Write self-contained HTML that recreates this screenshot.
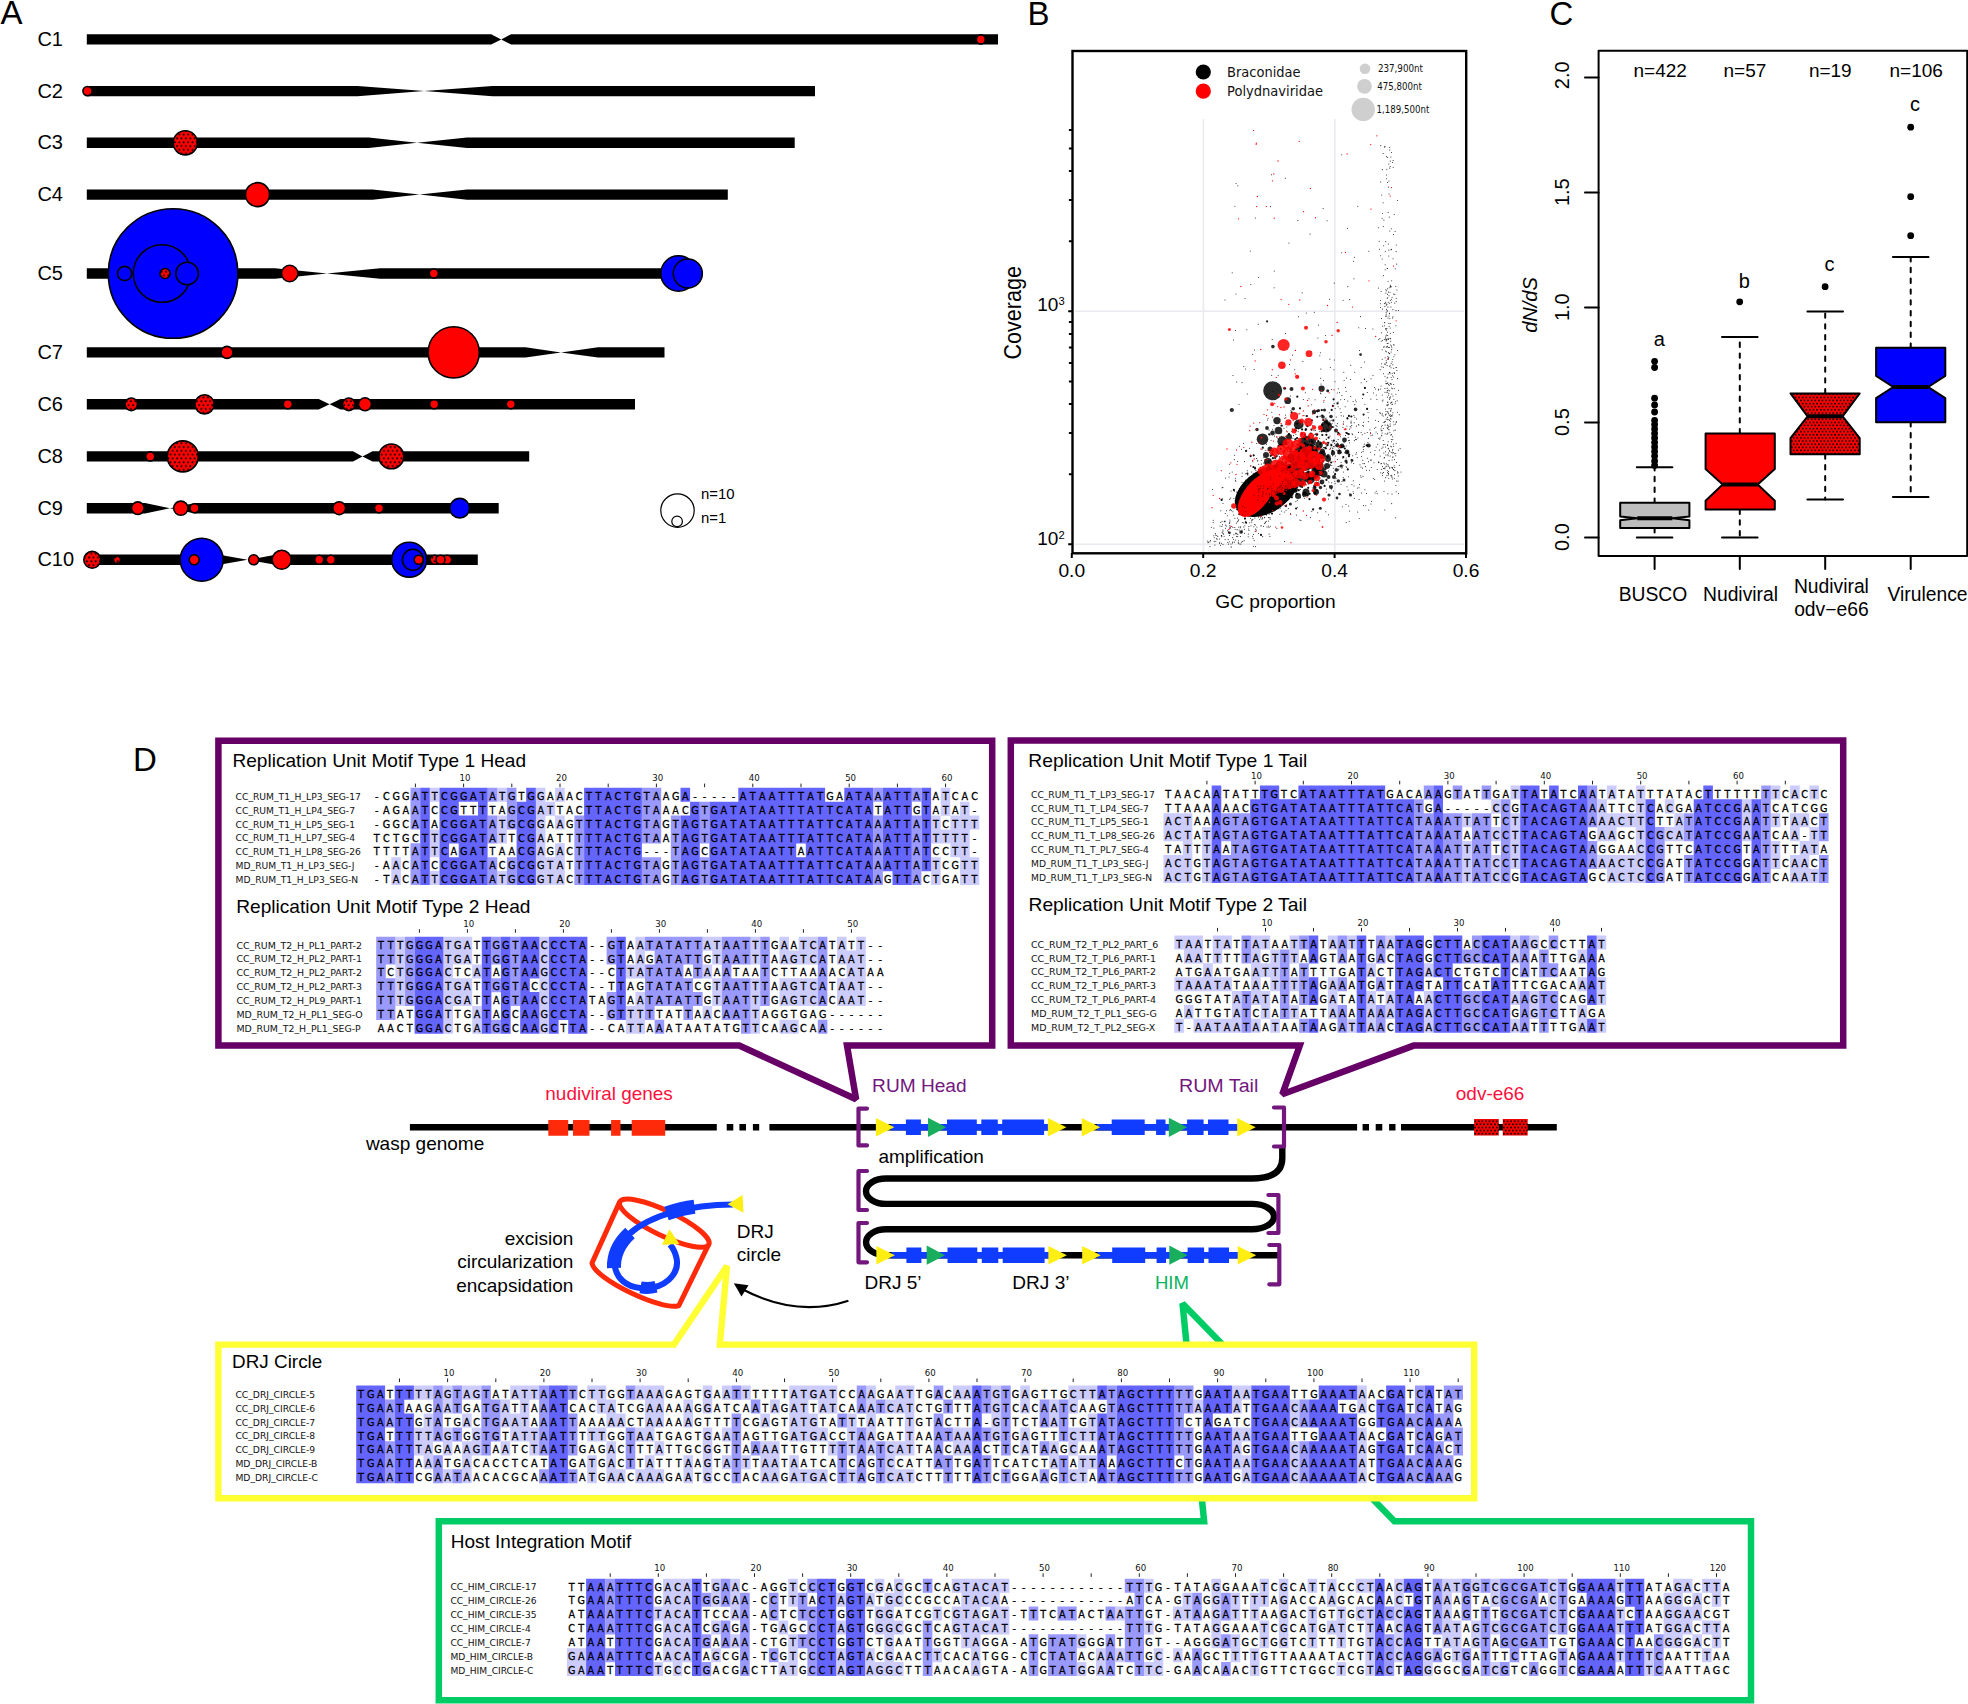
<!DOCTYPE html>
<html lang="en"><head><meta charset="utf-8"><title>Figure</title>
<style>
html,body{margin:0;padding:0;background:#fff}
svg{display:block}
svg{font-family:"Liberation Sans",sans-serif}
</style></head><body>
<svg width="1968" height="1704" viewBox="0 0 1968 1704">
<defs>
<pattern id="dots" width="4.4" height="7.62" patternUnits="userSpaceOnUse">
<rect width="4.4" height="7.62" fill="#f00"/>
<circle cx="1.1" cy="1.3" r="1"/><circle cx="3.3" cy="5.11" r="1"/>
</pattern>
<pattern id="dots2" width="3.6" height="6.24" patternUnits="userSpaceOnUse">
<rect width="3.6" height="6.24" fill="#f00"/>
<circle cx="0.9" cy="1.1" r="0.95"/><circle cx="2.7" cy="4.22" r="0.95"/>
</pattern>
</defs>
<rect width="1968" height="1704" fill="#fff"/>
<g id="panelA">
<text x="0.5" y="24.3" font-size="33">A</text>
<g fill="#000">
<path d="M86.8 34.2 H491.2 L501.2 39.4 L511.2 34.2 H998 V44.6 H511.2 L501.2 39.4 L491.2 44.6 H86.8Z"/>
<path d="M86.8 85.9 H357.5 L424.2 91.1 L492.5 85.9 H815 V96.3 H492.5 L424.2 91.1 L357.5 96.3 H86.8Z"/>
<path d="M86.8 137.6 H368.7 L417 142.8 L467 137.6 H794.7 V148 H467 L417 142.8 L368.7 148 H86.8Z"/>
<path d="M86.8 189.4 H372.5 L419.5 194.6 L467 189.4 H727.8 V199.8 H467 L419.5 194.6 L372.5 199.8 H86.8Z"/>
<path d="M86.8 268.3 H275 L327 273.5 L380 268.3 H700 V278.7 H380 L327 273.5 L275 278.7 H86.8Z"/>
<path d="M86.8 347.2 H525.5 L561 352.4 L598 347.2 H664.5 V357.6 H598 L561 352.4 L525.5 357.6 H86.8Z"/>
<path d="M86.8 399.1 H318.7 L329.6 404.3 L340.5 399.1 H635 V409.5 H340.5 L329.6 404.3 L318.7 409.5 H86.8Z"/>
<path d="M86.8 451.2 H353 L362.5 456.4 L372.5 451.2 H529.2 V461.6 H372.5 L362.5 456.4 L353 461.6 H86.8Z"/>
<path d="M86.8 503 H145 L170 508.2 L195 503 H498.7 V513.4 H195 L170 508.2 L145 513.4 H86.8Z"/>
<path d="M86.8 554.6 H218 L247.5 559.8 L277 554.6 H477.8 V565 H277 L247.5 559.8 L218 565 H86.8Z"/>
</g>
<g font-size="20">
<text x="37.4" y="46">C1</text>
<text x="37.4" y="97.7">C2</text>
<text x="37.4" y="149.4">C3</text>
<text x="37.4" y="201.2">C4</text>
<text x="37.4" y="280.1">C5</text>
<text x="37.4" y="359">C7</text>
<text x="37.4" y="410.9">C6</text>
<text x="37.4" y="463">C8</text>
<text x="37.4" y="514.8">C9</text>
<text x="37.4" y="566.4">C10</text>
</g>
<g stroke="#000" stroke-width="1.6">
<circle cx="980.8" cy="39.4" r="4.5" fill="#f00"/>
<circle cx="87.5" cy="91.1" r="4.6" fill="#f00"/>
<circle cx="185.3" cy="142.8" r="12.1" fill="url(#dots)"/>
<circle cx="257.5" cy="194.6" r="12" fill="#f00"/>
<circle cx="173.1" cy="273.5" r="64.8" fill="#00f"/>
<circle cx="162.1" cy="273.5" r="28.8" fill="#00f"/>
<circle cx="124.6" cy="273.5" r="7.1" fill="#00f"/>
<circle cx="187.1" cy="273.5" r="11.3" fill="#00f"/>
<circle cx="165" cy="273.5" r="5" fill="url(#dots)"/>
<circle cx="289.7" cy="273.5" r="8.2" fill="#f00"/>
<circle cx="433.8" cy="273.5" r="4.5" fill="#f00"/>
<circle cx="678.5" cy="273.5" r="17.7" fill="#00f"/>
<circle cx="687.8" cy="273.5" r="14.5" fill="#00f"/>
<circle cx="227" cy="352.4" r="6" fill="#f00"/>
<circle cx="453.7" cy="352.4" r="25.6" fill="#f00"/>
<circle cx="131.3" cy="404.3" r="6.3" fill="url(#dots)"/>
<circle cx="204.5" cy="404.3" r="9.6" fill="url(#dots)"/>
<circle cx="287.8" cy="404.3" r="4.5" fill="#f00"/>
<circle cx="348.8" cy="404.3" r="6.3" fill="url(#dots)"/>
<circle cx="365" cy="404.3" r="6.5" fill="#f00"/>
<circle cx="434.2" cy="404.3" r="4.5" fill="#f00"/>
<circle cx="510.8" cy="404.3" r="4.5" fill="#f00"/>
<circle cx="150.3" cy="456.4" r="4.5" fill="#f00"/>
<circle cx="182.8" cy="456.4" r="15.5" fill="url(#dots)"/>
<circle cx="391.3" cy="456.4" r="12.4" fill="url(#dots)"/>
<circle cx="137.8" cy="508.2" r="6.3" fill="#f00"/>
<circle cx="180.8" cy="508.2" r="7.1" fill="#f00"/>
<circle cx="194.5" cy="508.2" r="4.5" fill="#f00"/>
<circle cx="339.2" cy="508.2" r="6.4" fill="#f00"/>
<circle cx="379" cy="508.2" r="4.5" fill="#f00"/>
<circle cx="459.7" cy="508.2" r="9.8" fill="#00f"/>
<circle cx="92.2" cy="559.8" r="8.4" fill="url(#dots)"/>
<circle cx="117" cy="559.8" r="3.6" fill="url(#dots)"/>
<circle cx="201.7" cy="559.8" r="21.5" fill="#00f"/>
<circle cx="194.2" cy="559.8" r="5" fill="#f00"/>
<circle cx="253.7" cy="559.8" r="5" fill="#f00"/>
<circle cx="281.7" cy="559.8" r="9.5" fill="#f00"/>
<circle cx="319.2" cy="559.8" r="4.5" fill="#f00"/>
<circle cx="330.8" cy="559.8" r="4.5" fill="#f00"/>
<circle cx="409.2" cy="559.8" r="17.5" fill="#00f"/>
<circle cx="412.9" cy="559.8" r="10.5" fill="#00f"/>
<circle cx="418.7" cy="559.8" r="4.5" fill="#f00"/>
<circle cx="434.7" cy="559.8" r="4.5" fill="url(#dots)"/>
<circle cx="447.2" cy="559.8" r="4.5" fill="#f00"/>
<circle cx="440.5" cy="559.8" r="4.5" fill="#f00"/>
</g>
<g fill="none" stroke="#000" stroke-width="1.2"><circle cx="677.5" cy="510.6" r="16.7"/><circle cx="677.1" cy="521.4" r="5.3"/></g>
<g font-size="14.9"><text x="701" y="498.8">n=10</text><text x="701" y="522.9">n=1</text></g>
</g>
<g id="panelB">
<text x="1027.5" y="24.5" font-size="33">B</text>
<g stroke="#e9e9f0" stroke-width="1.6" fill="none"><path d="M1203.4 119V552M1334.8 119V552M1075 311.3H1464M1075 544.3H1464"/></g>
<path d="M1395.9 325.7h0M1386.4 362.4h0M1388.6 453h0M1390.3 286.3h0M1385 392.3h0M1388.5 291.9h0M1388.5 358.3h0M1380.8 145.6h0M1393 316.7h0M1391.1 377.5h0M1385.7 351h0M1387.7 335.5h0M1390.7 403.1h0M1387.4 332.2h0M1387.4 472.6h0M1382.1 218.3h0M1390.9 475.8h0M1389 316.1h0M1389.7 468.3h0M1381.8 194.9h0M1395.8 286.4h0M1389.2 217.1h0M1386.8 169.2h0M1397.4 200.4h0M1388.3 338.2h0M1382.1 415h0M1386.7 290.7h0M1378.4 389.3h0M1393.1 160.6h0M1386.7 316.1h0M1385.2 269.7h0M1393.2 167.3h0M1381.2 341.2h0M1390.9 419h0M1379.4 450.1h0M1385.6 329h0M1383.2 153.4h0M1394.9 470.3h0M1396.3 367.5h0M1387.1 388.3h0M1392.2 373.2h0M1387.7 444.8h0M1391 367.8h0M1385.2 264.7h0M1381 385.9h0M1380.6 300.4h0M1390.2 383.3h0M1398.4 450.1h0M1389.7 147.4h0M1386.2 360.8h0M1396.9 289.9h0M1389.5 420.3h0M1388.9 181h0M1389.6 347.4h0M1387.9 356.4h0M1387.1 365.6h0M1382.2 349.8h0M1390.7 341.3h0M1388.1 373.9h0M1393.7 294h0M1386.9 328.6h0M1380.1 369.6h0M1388.1 455.8h0M1396 367.6h0M1386.8 392.3h0M1384.6 457.5h0M1383.2 440.5h0M1383.9 422.5h0M1387.2 268.5h0M1383.3 226.5h0M1395.1 231.5h0M1387.3 311.1h0M1389 295.7h0M1394.8 303.1h0M1395.1 403.7h0M1387.6 402.4h0M1390 292.2h0M1391.7 446.8h0M1387.7 157.4h0M1380.7 388.9h0M1391.4 299.2h0M1392.4 450.7h0M1390.3 300.5h0M1384.4 325.7h0M1387.6 268.5h0M1385.9 381h0M1387.2 387.9h0M1394.2 465.7h0M1395.2 268.7h0M1391.4 415.5h0M1390.9 157h0M1391.5 441.8h0M1388.4 413.8h0M1388.2 441.8h0M1385.5 451.7h0M1388.3 187.1h0M1398.4 310.5h0M1392.3 388.7h0M1387 434.2h0M1386.4 175h0M1384.7 463.9h0M1390.1 365.3h0M1390.2 160.9h0M1382.2 425.4h0M1390.6 338.7h0M1386 411.5h0M1394.8 294.5h0M1389.2 353.6h0M1396.1 251.6h0M1386.5 309.3h0M1387.2 346.2h0M1389.8 230.9h0M1393.1 457h0M1391 249.7h0M1383.1 202.8h0M1389.3 385.3h0M1388.6 473.7h0M1386.6 334.9h0M1385.6 421.2h0M1396.2 301.6h0M1386.8 405h0M1384.8 322.7h0M1391.3 286.8h0M1389.1 460.5h0M1388.2 212.5h0M1391.9 476.1h0M1390.6 416.2h0M1390.1 414.5h0M1392.7 415h0M1389.7 149.9h0M1385.8 328.4h0M1386.9 475.6h0M1386.2 347.1h0M1389.4 303.2h0M1383.8 463h0M1380.4 303.8h0M1388.9 250.1h0M1382.6 213.3h0M1379.9 338.4h0M1390.1 424h0M1385.4 408.9h0M1390.7 418.4h0M1386.2 314.1h0M1383.6 275.6h0M1383 447.1h0M1386.2 312.3h0M1387.3 470.4h0M1384.9 468.7h0M1387.3 346.5h0M1381.7 469.4h0M1388.6 466.1h0M1380.6 307.5h0M1387.6 428.6h0M1391.6 249.3h0M1393.3 444h0M1396 310.6h0M1381.7 363.7h0M1391.8 393.9h0M1393.8 356.7h0M1392.8 359.5h0M1384.4 303.6h0M1390.3 286.4h0M1396.7 264.1h0M1381.9 366.7h0M1390.6 396.7h0M1393.4 469.4h0M1385.4 302.3h0M1391.1 352h0M1383.8 452.9h0M1384.9 444.4h0M1384.9 306.6h0M1389.3 415.4h0M1388.1 281.2h0M1392.7 467.5h0M1384.4 147.1h0M1387.9 402h0M1392.7 375.8h0M1391 383.8h0M1382.7 326.3h0M1391.4 152.5h0M1386.4 339.5h0M1390.2 166.5h0M1389.8 366.5h0M1393.9 399.2h0M1389 193.9h0M1380.3 413.5h0M1382.5 473.3h0M1391.7 388h0M1387.4 390.5h0M1393.5 234.4h0M1389.7 390.7h0M1385.2 364.4h0M1393.3 332.5h0M1384.9 388.5h0M1379.5 249.3h0M1397.6 412.3h0M1380.1 456.1h0M1391.3 439.4h0M1392.6 436.8h0M1389.1 326.2h0M1381.1 291.5h0M1393 258.8h0M1382.2 395h0M1382.6 309.1h0M1386.9 304.3h0M1392 477.6h0M1389.8 353.4h0M1392.1 297.3h0M1386.5 383.7h0M1387.7 419.6h0M1383.5 373.8h0M1387.1 310.4h0M1391.1 384.4h0M1387.2 298.3h0M1390.6 426h0M1386 466.2h0M1385.9 293.1h0M1388.7 395.1h0M1387.6 445.4h0M1391.1 408.6h0M1389.3 313.8h0M1396.2 298.2h0M1387.5 182.4h0M1387.5 294.3h0M1383.9 220.1h0M1388.6 384.6h0M1391.5 346.1h0M1385.2 433.8h0M1388.3 244h0M1391.7 280.8h0M1387.9 382.7h0M1386.2 305.1h0M1392.8 439.6h0M1388.9 419.8h0M1390.2 323.4h0M1393.7 368.2h0M1393.5 344.7h0M1387 465.9h0M1386.2 413.9h0M1389.8 467.3h0M1387.9 433h0M1380.1 437.8h0M1394.1 344.9h0M1388.6 448.8h0M1391.7 349.6h0M1383.3 444.6h0M1394.2 214.5h0M1385.9 383.3h0M1388 317.9h0M1382.3 401h0M1387.8 405.5h0M1387.5 417.3h0M1387.7 297.8h0M1390.4 333.2h0M1388.8 393.3h0M1392.8 449.5h0M1386.4 329.9h0M1384.1 458.1h0M1388.4 473.2h0M1391.3 302.2h0M1394 424.7h0M1392.1 361.7h0M1380.7 181.9h0M1390.2 327.9h0M1394.9 354.7h0M1388.8 255.9h0M1386.2 419.1h0M1389.9 372.6h0M1386.3 351.8h0M1391.3 452.5h0M1388.4 471.5h0M1394.6 373.5h0M1390.7 345h0M1385.3 251.3h0M1391.2 363.3h0M1392.6 457.1h0M1386 340.7h0M1386.6 178.8h0M1378.4 287.9h0M1392.5 317.9h0M1385.9 303.2h0M1379.2 241.2h0M1380.7 255.7h0M1387.5 397.1h0M1391.8 467.3h0M1388.1 404.3h0M1390.6 421.3h0M1383.7 245.8h0M1382.6 340.5h0M1392.4 404.2h0M1390.7 446.3h0M1388.4 339.4h0M1394.1 372.6h0M1384.3 339.4h0M1386.7 340.8h0M1393 395.9h0M1396.6 462.4h0M1388.5 473.4h0M1395.9 394.2h0M1385.8 289.7h0M1390 338.3h0M1387.7 411.6h0M1381.5 463.5h0M1389.6 313.2h0M1392.6 162.4h0M1387.8 454.7h0M1388.2 302.3h0M1394.6 459.6h0M1383 399.9h0M1381.9 448.3h0M1385.6 415h0M1383.2 416h0M1394.4 453.8h0M1389.9 432.3h0M1384.7 363.9h0M1385.8 241.6h0M1401 472h0M1385.8 335.9h0M1385.1 357.7h0M1389.8 168.1h0M1391.3 228.7h0M1389.5 397.7h0M1384.5 322.4h0M1383.4 367.2h0M1391.1 402.5h0M1388.3 359.4h0M1381.3 430.7h0M1393.7 384.5h0M1391.9 347.7h0M1387.4 424.9h0M1387.4 391.9h0M1389.5 372.2h0M1385.5 316.1h0M1382.6 475.5h0M1389.9 318.6h0M1382.2 359.2h0M1390.2 398h0M1382.2 258.9h0M1388.1 343.2h0M1387.9 307.1h0M1396.3 421.4h0M1383.8 468.5h0M1382.3 169.6h0M1385.7 477.6h0M1383.6 347.1h0M1385.9 455h0M1390.4 285.3h0M1391.9 416.2h0M1395.8 455.8h0M1385.3 339h0M1400.1 448.6h0M1397.2 400.7h0M1387.6 346.8h0M1378.4 227.7h0M1388.1 412.7h0M1388.8 357.4h0M1378.4 389.9h0M1388.8 323.3h0M1387.6 288.7h0M1385 146.5h0M1391.3 408.7h0M1392.9 309.6h0M1386.4 156.6h0M1389.5 399.2h0M1385.6 337.7h0M1385 376.2h0M1388.8 163.9h0M1390.8 435h0M1386 362.9h0M1378.8 339.6h0M1391.1 475.3h0M1381.5 318.4h0M1389 408.6h0M1396.3 244.9h0M1388.4 352.5h0M1383.3 428.5h0M1382.1 430.5h0M1393.7 376.9h0M1388.4 347.4h0M1390.9 306.9h0M1392.6 452.9h0M1388.3 474.9h0M1387.1 339.1h0M1384.3 346.8h0M1377 409.6h0M1381.8 435.3h0M1388.2 448.2h0M1387.7 433.2h0M1390.3 416.3h0M1387.9 405h0M1389.2 287.8h0M1392 379.5h0M1384.6 421.7h0M1387.2 343.4h0M1381.4 332.7h0M1392.8 364.7h0M1388.7 390h0M1390.7 287.1h0M1395.3 430.1h0M1393.3 421.8h0M1341.9 465.1h0M1343.6 472h0M1338.1 439.6h0M1355.9 454.2h0M1354.3 498.2h0M1394.4 478.3h0M1338.6 469.9h0M1343 427.4h0M1363 463.6h0M1336.3 445.6h0M1333.5 491h0M1375.3 420.2h0M1350.7 365.2h0M1377.4 433.7h0M1342 481.5h0M1392 494h0M1368.5 417.8h0M1334.2 446.7h0M1356.5 418.9h0M1332.5 447.9h0M1330 420.9h0M1367.3 392.5h0M1333.4 471.9h0M1341.1 462.4h0M1330.4 448.5h0M1333.3 468.2h0M1337.4 459.4h0M1348.6 440.6h0M1357.6 487.9h0M1339.6 392.6h0M1335.1 483.6h0M1336.1 425.6h0M1395.6 424h0M1351.2 459.2h0M1359.2 518.5h0M1381.5 426.7h0M1384 491.2h0M1377.2 469.4h0M1391.9 402.1h0M1364.9 489.8h0M1337.4 423.6h0M1370.9 399.1h0M1358.9 424.9h0M1387.2 427.4h0M1343.2 477.5h0M1375.8 427.2h0M1325.8 511.8h0M1353.7 463.4h0M1351 427.7h0M1332.1 423.3h0M1386.6 463.7h0M1387 377.9h0M1343.8 372.3h0M1378.4 421.4h0M1392.7 478.9h0M1368.5 461.8h0M1352.7 455.8h0M1376.2 446.9h0M1354.7 372.3h0M1367.9 442.6h0M1374.6 387.5h0M1347 486.7h0M1374.7 454.7h0M1363.1 451.6h0M1369.5 470.2h0M1346.7 467.3h0M1380.9 463.8h0M1336.2 468.2h0M1361.1 432.6h0M1364.9 404.3h0M1325.6 468h0M1384.8 510h0M1366.6 493.4h0M1330.9 446.9h0M1388.7 478.3h0M1378.3 438.3h0M1393.6 469.6h0M1376.1 431.9h0M1362.8 460.3h0M1351.9 484.4h0M1357.7 511.9h0M1351.7 425.6h0M1349.5 428.9h0M1395.8 453.5h0M1363 476.2h0M1363.1 447.1h0M1353.4 493.5h0M1349.6 434.1h0M1342.3 506.7h0M1396.2 491.8h0M1379.9 412.6h0M1361.1 477.2h0M1369.8 446.5h0M1387.9 493.7h0M1352.7 434.6h0M1346.2 466.8h0M1360.8 475.7h0M1359.5 350.4h0M1387.3 383.5h0M1392.1 459.9h0M1389.4 450.2h0M1377.1 493.6h0M1364.6 463.6h0M1338.1 406.7h0M1394.8 467.5h0M1389.1 426.5h0M1364.5 446.3h0M1381.6 435.7h0M1392.4 468.2h0M1347.8 401h0M1368 412.4h0M1396.9 370.5h0M1336.3 417h0M1396.2 422.2h0M1390.7 411.1h0M1328.3 430.5h0M1368.5 438.3h0M1373.4 478.4h0M1378.8 461.7h0M1371.2 467.5h0M1367.2 432.5h0M1370.6 452.2h0M1371.5 501.3h0M1331.9 454.1h0M1338 466.6h0M1346.5 377.9h0M1394.6 474.6h0M1360 464.8h0M1371 503.9h0M1397.6 350.4h0M1332.5 455.8h0M1339.4 450.1h0M1346.1 457.9h0M1393.9 430.7h0M1378.9 462.5h0M1334.8 481.2h0M1330.3 456.1h0M1337.7 443.3h0M1393.7 446.3h0M1356.6 439.6h0M1390.2 455.9h0M1388.5 427h0M1397.5 378.6h0M1365.7 505.8h0M1345.5 387.4h0M1363.6 449.6h0M1392 404.5h0M1396.1 443.2h0M1354.8 417.3h0M1361.5 452.3h0M1384.8 422h0M1354.8 404.6h0M1343 465.6h0M1346 504.5h0M1361 467h0M1342.9 457.9h0M1382.3 413.7h0M1375 450.5h0M1394.9 470.6h0M1381 428.9h0M1359 487.8h0M1338.7 452h0M1342.6 467h0M1391.5 434.6h0M1372.7 434.9h0M1333 461.8h0M1362.5 468.1h0M1382.5 466.6h0M1385.4 414.7h0M1388 425.5h0M1393.3 452.5h0M1361.2 382.7h0M1375 493h0M1330.5 465.3h0M1374.6 454.7h0M1363.6 426.1h0M1341 484.3h0M1344 442.8h0M1341.9 468.1h0M1350.7 396.4h0M1353.3 480.7h0M1382.1 433h0M1339.4 433.3h0M1330.9 443.9h0M1338.8 448.1h0M1378.4 462.6h0M1328.8 482h0M1366.6 470.2h0M1362.8 425.4h0M1353.1 401.6h0M1351 422.3h0M1365.4 466.6h0M1329.6 485.9h0M1349.2 521.3h0M1356.2 401.7h0M1335.6 455.9h0M1364.3 444.1h0M1348.2 437.5h0M1329.9 458h0M1334.6 443.4h0M1349.6 442.7h0M1374.6 428.2h0M1385 467.8h0M1361.5 492.9h0M1328.5 514.8h0M1370.5 432.8h0M1392.9 412.7h0M1328.9 442.8h0M1351.1 421h0M1326.3 491.9h0M1368.3 421.6h0M1332.8 455.6h0M1395.6 401.7h0M1355.6 439.5h0M1371.6 460h0M1349.7 510.9h0M1350.2 426.4h0M1325.9 466.8h0M1390 373.8h0M1345.2 406.8h0M1343.6 421.8h0M1352 433.7h0M1338.8 469.1h0M1348.4 476.7h0M1346.1 391.5h0M1398.1 472.8h0M1390.7 410.3h0M1346.2 522.4h0M1387.9 464.5h0M1327.9 458.4h0M1367.6 445.9h0M1389.8 451.3h0M1341.3 452.7h0M1337.1 426.3h0M1384.6 480.9h0M1374 462.8h0M1398.1 481h0M1336.9 450.3h0M1336.1 478.4h0M1329.2 423.8h0M1328.6 425.6h0M1371 435.6h0M1331.4 489.1h0M1359.1 499.4h0M1363.6 422.3h0M1331.5 389.4h0M1376.9 399.4h0M1399.3 414.8h0M1354.2 422.7h0M1363.8 446.3h0M1353.1 491.7h0M1398.5 493.6h0M1388.8 429.3h0M1397.7 473h0M1354 486h0M1348.7 505.9h0M1326.2 446.5h0M1330.8 424.3h0M1396.7 481h0M1368.8 510.1h0M1358.5 432.5h0M1395.4 517.8h0M1328 442.5h0M1373.6 392.9h0M1369.9 429.8h0M1379.8 439.1h0M1380.8 472.7h0M1375.6 389h0M1385.1 424.9h0M1335 381.7h0M1346.2 446h0M1383.6 468.5h0M1391.7 503.6h0M1374.7 479.4h0M1328.7 444.7h0M1387.3 377.6h0M1397.6 471.8h0M1359.5 484.4h0M1354.3 440.6h0M1351.4 462.8h0M1370.5 460.1h0M1337.7 443.1h0M1335.1 408.4h0M1399.3 465.3h0M1362.6 398.4h0M1363.6 505.6h0M1347.6 418.1h0M1328.4 471h0M1329.8 424.5h0M1329.4 466.7h0M1377.7 444.2h0M1383.5 472.5h0M1396.3 422.2h0M1398.5 390.3h0M1336.3 441.5h0M1326.1 438.9h0M1376.3 395h0M1346.9 426h0M1394.2 388.6h0M1361.6 456.5h0M1357.9 438h0M1356.5 452.7h0M1367.3 458.2h0M1338.9 466.4h0M1398.3 476h0M1385.5 446.9h0M1389 429.7h0M1395.9 485.5h0M1376.2 491.3h0M1255.9 496.6h0M1268.3 525.9h0M1269.2 488.8h0M1311.9 437.9h0M1242 476.3h0M1314.6 466.5h0M1278.4 479.9h0M1271.8 502.2h0M1284.3 487.2h0M1248.4 502.4h0M1308 466.3h0M1279.9 514.2h0M1265.7 477.1h0M1285.4 415.1h0M1316.4 482h0M1254.2 540.6h0M1276.9 528.5h0M1338.1 402h0M1271.8 412.2h0M1255 475.8h0M1306.3 472.3h0M1250.8 480.9h0M1286.1 510.2h0M1298.1 431.6h0M1292.8 457.8h0M1284.9 480.5h0M1319.6 444.3h0M1243.6 443.4h0M1274.1 474.3h0M1282.4 476.7h0M1275.9 469.3h0M1327.2 429.3h0M1278.1 453.2h0M1260.5 468.2h0M1258.6 473.9h0M1243.7 504.9h0M1256.8 491.6h0M1275.2 482h0M1304.3 442.2h0M1298.2 468.1h0M1325.5 397.2h0M1337.6 434.6h0M1277.4 490.8h0M1273 473.4h0M1249 504.6h0M1293.9 430.6h0M1311.1 450.7h0M1314.1 428.3h0M1294.5 451.4h0M1349.8 493.7h0M1275.7 433.8h0M1281.8 456.1h0M1259.3 508.8h0M1266.1 474.6h0M1249 481.8h0M1234.3 459.6h0M1252.9 461.7h0M1222.1 487.7h0M1284.3 505.8h0M1315.2 442.9h0M1317.7 512.7h0M1269.1 495.9h0M1292.9 438.3h0M1286.6 462.5h0M1248.7 529h0M1283.1 450.1h0M1261.3 464.1h0M1261.1 525.9h0M1266.6 444.4h0M1247.2 492.2h0M1337 449.9h0M1321 383.9h0M1322.4 474.2h0M1242.5 487h0M1259.7 501.8h0M1265.9 469.5h0M1300.3 466.3h0M1272.7 495.9h0M1287.5 450.7h0M1284.3 512h0M1287.9 465.9h0M1308.6 471.2h0M1307 436h0M1268.2 499.4h0M1235.8 481.2h0M1242.2 496.5h0M1328.5 499h0M1222.5 498.8h0M1235.2 500.5h0M1283 481.7h0M1256.7 458.4h0M1321.8 456.9h0M1315.3 434h0M1287.8 468h0M1276.9 437.3h0M1253.4 546.2h0M1288.7 474.7h0M1267.1 463.8h0M1243.4 483h0M1305.3 392.7h0M1250.7 466h0M1245.8 480.1h0M1293.4 478.6h0M1267.8 478.9h0M1299.3 459.9h0M1300.4 489.5h0M1223 503.5h0M1306.6 425.6h0M1317.5 446.2h0M1231.7 510.6h0M1339.2 446h0M1273.4 501.6h0M1319.9 416.3h0M1237.7 461.4h0M1238.3 542.6h0M1259.9 477h0M1257.9 508.1h0M1298.6 446h0M1225.5 477.9h0M1303.7 496.6h0M1246.1 504.3h0M1275.9 489.9h0M1272.2 478h0M1275.3 461h0M1304 415.5h0M1288.6 492.8h0M1321.8 428.1h0M1267.8 505.8h0M1271.6 498.4h0M1271.1 440.3h0M1288.3 458.2h0M1275.2 481.9h0M1281.4 510.9h0M1260.4 467.6h0M1236.9 504.3h0M1272.1 462.5h0M1305.6 458.5h0M1358.6 424.5h0M1297.6 452.7h0M1330.2 464.4h0M1318.4 480.8h0M1288.9 423.5h0M1279.4 467.2h0M1265.3 472.5h0M1270.1 471h0M1278 463.8h0M1340.3 452.6h0M1313.6 447.8h0M1343.6 424h0M1253.3 473.2h0M1282.4 459.8h0M1299.5 460.2h0M1281.6 436.3h0M1249.3 496.1h0M1222.5 524.7h0M1229.7 473.2h0M1357.2 457.6h0M1302.5 486.8h0M1250.6 518.3h0M1297 475h0M1278.2 479.6h0M1307.9 452.3h0M1297.5 479.7h0M1249.3 502.8h0M1295.2 486.7h0M1291.1 487.2h0M1297.4 507.3h0M1321.7 453.1h0M1234.9 518.3h0M1315.5 430.3h0M1274 425.4h0M1300.8 463.7h0M1301.4 446.1h0M1251.4 504.6h0M1269.1 517.7h0M1300.3 461.1h0M1305.2 483.7h0M1310 475.5h0M1304.8 444.3h0M1309.9 476h0M1263.4 489.5h0M1343.7 445.9h0M1298.6 448h0M1291 410.4h0M1234.3 491.3h0M1238.5 543.2h0M1263.6 512.3h0M1279.3 456.4h0M1318.3 469.7h0M1274.5 455.4h0M1315 466.4h0M1311.8 430.3h0M1351.1 423.1h0M1255.2 491.1h0M1289.2 440.9h0M1283.9 443.2h0M1278.8 508.8h0M1314.3 438.4h0M1241.5 449.3h0M1304.4 498.2h0M1283.1 437.9h0M1232.9 511.8h0M1302.5 450.1h0M1281 523.1h0M1268.3 464.5h0M1266.7 498.3h0M1243.2 504.2h0M1290.9 477h0M1304.3 436.9h0M1318.1 446.5h0M1305.6 445.6h0M1239.4 488.5h0M1332.8 450.5h0M1295 474.2h0M1302.4 462.5h0M1272.9 451.8h0M1248.9 503.5h0M1311.5 433.2h0M1273.8 486.1h0M1329.3 412.7h0M1277.2 474.2h0M1251.4 491.4h0M1257 481.2h0M1326.8 423.4h0M1264.9 479.2h0M1220.6 545.2h0M1337.3 392.9h0M1282.7 489.9h0M1288.3 492.3h0M1298.3 457.9h0M1255.9 470.4h0M1274.1 489.4h0M1314.8 434.4h0M1264.1 497.6h0M1295.9 471.4h0M1287.8 495.3h0M1282.5 451.5h0M1297.5 423.2h0M1230.7 498.1h0M1281 445.7h0M1256.6 488.7h0M1320.8 415.9h0M1266.7 462.8h0M1355.3 437.1h0M1258.7 464.3h0M1233.8 515.1h0M1234.8 527.4h0M1296.1 457h0M1266.6 521.3h0M1279.4 486.2h0M1325.2 418.8h0M1274.5 485.4h0M1345.5 435.4h0M1299.9 464.6h0M1234.4 455.2h0M1264.8 499.8h0M1229.4 464.3h0M1282.3 486.9h0M1282.4 491.4h0M1237.9 495.1h0M1259.5 470.8h0M1251.5 482.4h0M1273 482.4h0M1270.2 466.4h0M1331.8 465.5h0M1305.6 459.4h0M1288.3 508.4h0M1295.9 501.6h0M1296.7 440.2h0M1306.5 467.4h0M1284.9 482.7h0M1229.7 522.7h0M1213.2 522.6h0M1267.8 488.4h0M1275.6 474.8h0M1239.8 497.7h0M1236.6 491.9h0M1284.5 456.3h0M1230.1 526.7h0M1233.6 539.2h0M1287.8 449.9h0M1288.2 442.4h0M1266.1 440.1h0M1308.8 444h0M1338.1 453.6h0M1349.5 440.3h0M1242 482.2h0M1330.3 367.4h0M1312.8 425.4h0M1311.8 457.1h0M1247.9 475.1h0M1295.5 423.8h0M1244.5 529.3h0M1262.5 474.6h0M1298.1 466.4h0M1324 440.9h0M1257.8 460.2h0M1358.5 432.3h0M1272.4 429.3h0M1290.8 496h0M1268.9 489.9h0M1290 451.1h0M1271.5 461.8h0M1324.6 451.2h0M1313.1 437.9h0M1273.1 450.7h0M1245.2 492.1h0M1298.1 462.8h0M1286.8 426.9h0M1313.3 445.9h0M1279.8 452.4h0M1319.7 438.2h0M1340.1 408.8h0M1220.8 510.8h0M1331.8 440.2h0M1296.7 467.2h0M1285.6 455.9h0M1239 404.2h0M1286.6 431h0M1290.9 462.9h0M1207.3 540.9h0M1307.6 476.9h0M1309.9 462.4h0M1328.4 425.7h0M1320 443h0M1275 510.6h0M1269 472.4h0M1301.6 433.2h0M1282.2 485.7h0M1279.9 473.5h0M1281.8 441.9h0M1254.1 485h0M1258.5 504.3h0M1249.8 522.8h0M1261.3 460.4h0M1303 460.2h0M1267 527h0M1242 505.7h0M1283.9 428.3h0M1292.2 477.5h0M1322 483.5h0M1242 509.2h0M1242.2 473h0M1256.9 527h0M1326.3 434.5h0M1297.2 425.7h0M1236.3 502h0M1309 398.8h0M1294.9 431.9h0M1292.5 451.5h0M1304.5 474.8h0M1356.4 426.1h0M1280.6 508h0M1279.2 465.7h0M1285.9 474.2h0M1255.7 529.1h0M1284.3 490.8h0M1320.2 477.9h0M1309.1 463.7h0M1258.5 470.1h0M1247.3 470.7h0M1252.3 481.9h0M1226.5 510.8h0M1281.5 464.4h0M1326.3 428.1h0M1343.6 416.1h0M1264.2 512.2h0M1303.4 466.9h0M1299 444h0M1278.5 454.6h0M1312.1 456.1h0M1277.4 461.9h0M1291.5 444.3h0M1311.7 404.8h0M1265.6 496.7h0M1263.4 504.4h0M1300.7 457.6h0M1285.6 447.8h0M1224.8 521.1h0M1269.9 536.5h0M1284.3 494.2h0M1274.7 475.4h0M1301 520.4h0M1311.3 452.1h0M1270.1 459.7h0M1276.1 484.7h0M1258.8 471.8h0M1313 436.9h0M1319.5 458.7h0M1294 462.5h0M1277.2 455.1h0M1362.3 434.7h0M1321.2 465h0M1257.6 461h0M1242.3 502.3h0M1251.2 499.7h0M1342.5 445.9h0M1261.3 500.3h0M1271.9 472.6h0M1301 467.5h0M1284.6 441.7h0M1311.3 429.2h0M1251.1 503.4h0M1268.1 418.3h0M1281.1 433h0M1272.6 484.5h0M1263.9 512.6h0M1304.6 435.6h0M1300.1 465.9h0M1298.4 429h0M1334.1 403.4h0M1294.2 481.7h0M1271.5 455h0M1271 468.2h0M1285.6 443.6h0M1263.6 463h0M1232.2 472h0M1250.8 500.2h0M1314 430.6h0M1301.5 457.8h0M1255.1 508.1h0M1227.4 530.8h0M1278.9 508.1h0M1303.8 483.7h0M1297 443.9h0M1306 415.9h0M1287.7 491.7h0M1297.9 440.6h0M1253.1 538.6h0M1288.9 433.5h0M1303.6 437.7h0M1253.9 516.5h0M1294.4 472.8h0M1274.7 481.8h0M1294.7 479.6h0M1299.2 422.5h0M1261.4 512.7h0M1326.1 417.9h0M1242.5 491.8h0M1242 530.1h0M1262.4 483.4h0M1284.5 478.7h0M1263.9 457.6h0M1286.9 485.7h0M1299.9 448.7h0M1340.7 399.8h0M1288.6 446.4h0M1292 454.4h0M1294.6 429.1h0M1289.6 447.9h0M1294 462.7h0M1250.4 493h0M1278.9 466.7h0M1279.1 444.8h0M1312 441.5h0M1317.3 456.7h0M1290.1 450.5h0M1307.8 453.9h0M1279.5 475.1h0M1305.5 484.5h0M1323.5 447.6h0M1321.3 452.1h0M1316.8 457.2h0M1306.2 463.6h0M1276.6 492.2h0M1272 496.4h0M1293.5 435.6h0M1282.6 487h0M1271.7 477h0M1254.9 518.1h0M1319.5 467.6h0M1212.5 489.4h0M1235.3 478.2h0M1315.9 433.7h0M1270.2 454h0M1299.4 479h0M1251 525.7h0M1283.3 451.9h0M1289.2 455.1h0M1291.9 431.4h0M1262.7 518.8h0M1283.1 480.5h0M1303.3 399.4h0M1286.3 463.9h0M1262.8 466.6h0M1277.4 463h0M1279 476h0M1294.6 483.7h0M1299.1 477.1h0M1229 477h0M1282.7 425.7h0M1341 412.6h0M1298.3 428.1h0M1338.3 388.8h0M1249.6 448.3h0M1268.6 460h0M1292.5 466.2h0M1297.3 460.6h0M1324.7 422.8h0M1233.9 498.2h0M1274.5 480.2h0M1276.9 501.9h0M1274.2 467.8h0M1303.8 452h0M1222.9 487.5h0M1314.5 465.7h0M1269 461.8h0M1297.1 481.4h0M1340.4 436.7h0M1354.4 408.9h0M1274.4 436.1h0M1279.5 457h0M1315.7 487.5h0M1290.3 396.1h0M1268.3 517.4h0M1269.6 467.5h0M1291.3 463.4h0M1271.9 462.8h0M1332.8 442.1h0M1297.8 466.1h0M1303.7 474.4h0M1300.5 497.6h0M1292.1 466.6h0M1296.4 484.8h0M1329.1 427.2h0M1302.8 455.9h0M1300 453.5h0M1225.5 524.9h0M1326.4 488.9h0M1245.4 502.8h0M1262 449.3h0M1341.2 415.8h0M1341.9 395.4h0M1274.6 487.3h0M1253.8 498.3h0M1304.9 434.9h0M1305.4 469.4h0M1292.9 479.5h0M1230.4 509.6h0M1305.4 428.4h0M1333.6 446.5h0M1244.6 510.6h0M1254.8 474.2h0M1278.8 488.1h0M1316 490.1h0M1231 491h0M1295.2 484.4h0M1269.3 470h0M1255.1 500h0M1298.2 459.2h0M1213.2 520.3h0M1255.1 497h0M1263.7 486.3h0M1295.7 464.9h0M1277.9 485.6h0M1265.8 456h0M1285.9 465.7h0M1263.4 507h0M1255.9 502.1h0M1298.6 479.2h0M1267.4 420.1h0M1353.9 415.4h0M1270 507.6h0M1275.2 492.1h0M1265.9 450.5h0M1262.8 468.5h0M1296 419.4h0M1323.6 442.8h0M1298.3 414h0M1255.3 467.8h0M1252.4 478.1h0M1294.7 451.8h0M1271.6 508h0M1255.1 467.1h0M1309.5 441.2h0M1238.7 519.8h0M1258.9 472.1h0M1307.2 473.6h0M1270.4 478.3h0M1302.6 437.2h0M1251.7 471.9h0M1344.4 452.7h0M1259.1 479.4h0M1330 436.1h0M1291 435.2h0M1278.3 468h0M1321.9 415.2h0M1287.6 447.9h0M1262.2 477.6h0M1323.8 402.1h0M1306.9 451.2h0M1345.8 432.6h0M1319.8 431.5h0M1315.1 399.8h0M1290.4 513.6h0M1278 490.6h0M1237.5 496.7h0M1295.9 434.2h0M1231.2 547.1h0M1268.5 504.3h0M1244.6 461.6h0M1285.9 470.9h0M1317 434.5h0M1259.6 494.8h0M1301.7 444.2h0M1301.4 485.6h0M1317.8 447.1h0M1269.9 435.1h0M1245.9 513.1h0M1299.9 519.9h0M1256.6 458.4h0M1314.9 478.4h0M1287.7 469.2h0M1288.2 475.1h0M1306.5 422.2h0M1256.7 443.5h0M1291.3 479h0M1267.8 468.5h0M1283.3 458.3h0M1331.7 482.8h0M1304.8 469.6h0M1316.9 452.3h0M1269.1 429.9h0M1272.2 470.9h0M1284.8 493.4h0M1284.8 418.4h0M1247.5 473.8h0M1276.8 475.7h0M1323 450.6h0M1288.4 472.5h0M1290.2 473.2h0M1288.4 464.5h0M1224.2 521.7h0M1348.1 489.9h0M1302.5 449.4h0M1320.8 475.2h0M1286.1 461.3h0M1297.5 489.5h0M1332.8 448.2h0M1293.6 458.9h0M1261.5 472.4h0M1289.2 445.3h0M1289.1 451.4h0M1277.9 438.3h0M1265.8 463.3h0M1297.3 500.3h0M1275.5 476.2h0M1265.2 482.4h0M1308.2 472.8h0M1267.4 470.1h0M1320.5 446.9h0M1319.1 429.4h0M1277.9 481.4h0M1287.2 466.6h0M1288.3 490.8h0M1270.5 479.7h0M1296.9 445.7h0M1298.8 447.9h0M1331.2 420.2h0M1295 492.1h0M1284.6 541.6h0M1294.5 488.9h0M1238.2 520.8h0M1364.8 433.2h0M1320.2 482.1h0M1297.9 478.7h0M1278.1 490.6h0M1296.5 515h0M1264.5 479.3h0M1235.4 480.3h0M1239.6 446.3h0M1311.7 483.3h0M1229.8 510.2h0M1322.8 410h0M1254.6 493.9h0M1326.5 439.5h0M1245.7 473.8h0M1252.6 536.2h0M1298.7 451.3h0M1310.5 517.6h0M1274 471h0M1286.4 454.3h0M1262.9 486.5h0M1311.8 511.4h0M1285.9 477h0M1277.6 479.6h0M1320.7 392.9h0M1225.3 513.5h0M1269.4 452.6h0M1251.4 482.7h0M1237.7 536.6h0M1261.9 519h0M1232.8 542.1h0M1269.3 514.1h0M1261.9 511.6h0M1243.7 527h0M1266.3 514.3h0M1270.6 512.7h0M1215.6 535h0M1214.9 545.1h0M1240.9 544h0M1242.7 541.4h0M1225.1 539.5h0M1268.4 521h0M1223 544.6h0M1254.9 516.1h0M1258.6 533.5h0M1210 546.6h0M1211.3 527.3h0M1249 530.4h0M1215.4 533.4h0M1219.7 542.2h0M1265.4 522.7h0M1238.8 527.1h0M1233.9 534.8h0M1270.3 526.3h0M1237.6 518.1h0M1222 521.3h0M1237 529.7h0M1240.7 526.8h0M1262.7 536.6h0M1263.5 526.5h0M1221.6 543.3h0M1237.3 529.7h0M1271 496.3h0M1221.9 526.4h0M1221.4 535.6h0M1235.8 533h0M1269.6 510.6h0M1229.4 535.5h0M1244.5 533.3h0M1222.9 531.3h0M1217.8 536.5h0M1229.9 525.5h0M1238.6 540.8h0M1258.2 501.9h0M1236.4 536.4h0M1261 525.6h0M1269.7 496h0M1214.3 537.7h0M1255.1 531.3h0M1225.6 528.2h0M1232.9 527.5h0M1214.2 541.6h0M1248.2 536.8h0M1265.3 522h0M1229.6 528.1h0M1255 509.2h0M1262.5 504.2h0M1236.5 533.8h0M1227.3 515.8h0M1216.8 535.4h0M1270.1 519.3h0M1229.3 523.5h0M1252.9 519.6h0M1240.3 527.8h0M1264.6 523.5h0M1230 521.8h0M1264.7 517.3h0M1269.1 513.9h0M1264.4 517.7h0M1229.9 519.9h0M1228.2 539.4h0M1236.6 523.1h0M1260.5 517.7h0M1251.6 515.5h0M1239.2 529.9h0M1262.3 512.2h0M1266.1 513.4h0M1231.1 546.7h0M1271.9 509.7h0M1242.1 532h0M1234.6 542.1h0M1210.5 540.4h0M1230.3 527.8h0M1265.3 514.2h0M1256.2 530.1h0M1270.2 517.8h0M1260.9 516.2h0M1243.8 522.9h0M1271.2 503.3h0M1258.6 517.1h0M1242.7 522.4h0M1251.8 522.1h0M1272.5 504.3h0M1213.8 535.7h0M1221.7 535.4h0M1235.7 539.9h0M1228.4 531.8h0M1245.3 521.2h0M1248.3 534.1h0M1253.4 534.4h0M1208.7 542h0M1266.1 513.7h0M1220.8 522.4h0M1213.9 528.1h0M1262.3 517.5h0M1229.3 541.8h0M1223.1 533.2h0M1253.9 526.7h0M1220 525.9h0M1266.4 515.1h0M1244.7 516.1h0M1259.7 519.3h0M1269 527.5h0M1269.1 534.1h0M1248.9 526.6h0M1255.4 525h0M1225.2 521.6h0M1230.6 528h0M1241.4 542.1h0M1231 544h0M1240.4 536.4h0M1237.9 534.2h0M1239.8 544h0M1235.1 529.2h0M1221.7 536.6h0M1255.5 546.6h0M1223 529.9h0M1219.6 543.4h0M1223.3 534.1h0M1244.1 540.6h0M1210 541.8h0M1252.2 519.9h0M1228.4 532.1h0M1227.8 542.5h0M1252.3 514h0M1260.1 505.7h0M1217 539.5h0M1251.6 520.1h0M1274.5 508.8h0M1222.1 532.6h0M1235.7 533.8h0M1237.7 534.2h0M1228.5 544.1h0M1264.7 517.4h0M1274.6 495.5h0M1219.4 539h0M1215.8 541.3h0M1224.1 536.2h0M1232.7 537.6h0M1208 542.6h0M1232.6 542.9h0M1246.4 523.3h0M1226.4 525.9h0M1236.6 509.6h0M1237.7 521.6h0M1216.8 538.5h0M1244.8 525.8h0M1254.4 524.4h0M1275 507.9h0M1358.8 327.7h0M1357.8 206.3h0M1314.3 312.2h0M1373 375.4h0M1310.1 234.1h0M1317.9 337.9h0M1364.6 379.5h0M1319.8 355.8h0M1254.5 349.9h0M1320.7 378.2h0M1271.7 375.5h0M1341.7 252.7h0M1306.3 312.9h0M1365.5 328.4h0M1333.9 369.8h0M1320.9 369.1h0M1246.8 329.7h0M1372.9 329h0M1252.7 354.3h0M1344.5 399.5h0M1353.9 278.8h0M1258.6 277.3h0M1236.7 381.9h0M1235.9 293.9h0M1254.2 369.4h0M1250.8 284.5h0M1247.3 393.9h0M1364.4 378.9h0M1234.9 206.2h0M1271.5 174.7h0M1250.2 251h0M1344.1 380.5h0M1236.1 183.5h0M1302.2 292.8h0M1311 351.5h0M1273 391.2h0M1270.4 206.6h0M1347.8 286.6h0M1320.4 352.8h0M1361.1 367.6h0M1225 300h0M1232.2 272.7h0M1233 375.5h0M1355.6 400h0M1325.4 335.5h0M1272.2 339.4h0M1298.5 316.8h0M1274.1 287.7h0M1258.3 324.2h0M1323.6 380.6h0M1285.6 333.6h0M1334.3 359.9h0M1289.6 364.5h0M1350.6 379.4h0M1368.8 251.3h0M1354.6 257.3h0M1288.9 242.9h0M1366.7 381.5h0M1302.9 361.4h0M1318.5 324.9h0M1233.5 340h0M1360.5 316.6h0M1329.9 359.1h0M1343.1 300.3h0M1237.8 185.8h0M1245.6 368.9h0M1235.5 330.5h0M1334.2 283.1h0M1353.5 261.3h0M1320.8 393.8h0M1329.4 299.2h0M1349.7 299.6h0M1364.6 362h0M1285.3 178.2h0M1297.9 220.6h0M1242 382.6h0M1292.6 355.1h0M1278.2 375.3h0M1243.8 366.5h0M1245.1 298.5h0M1255.4 217.9h0M1294.7 369.7h0M1327.1 220.7h0M1266.4 394.2h0M1347.5 228.2h0M1321.8 390.6h0M1323.1 208.6h0M1341.8 154.7h0M1274.3 270.9h0M1371 378.8h0" stroke="#1a1a1a" stroke-width="1.05" stroke-linecap="round" fill="none"/>
<path d="M1309.5 499.2h0M1276.3 499h0M1286.7 443.8h0M1295.4 439.3h0M1301.9 434h0M1295.5 450.5h0M1265.9 481.4h0M1367.1 408.9h0M1299 473.2h0M1272 513.6h0M1292.6 445.8h0M1292.6 481.9h0M1273 476.1h0M1316.9 462.4h0M1295.8 430.4h0M1296.8 494h0M1275.3 496.6h0M1323.2 420.1h0M1265.7 488.9h0M1296.1 428.1h0M1276 506.6h0M1276.6 456.3h0M1325.1 447.8h0M1322.3 415.5h0M1267.7 475.8h0M1308.9 455.7h0M1254.3 495.2h0M1306.9 416h0M1298 460.7h0M1328.1 442.8h0M1322.3 452.7h0M1278.9 497.3h0M1318.4 448.9h0M1308.9 436.7h0M1317.7 483h0M1295.3 439.4h0M1258.9 473.5h0M1316.9 411h0M1315.3 493.7h0M1262.7 472.5h0M1281 505.5h0M1322.9 461.4h0M1275.7 492.4h0M1298.8 490.2h0M1315 453.7h0M1288.9 479.5h0M1264.4 489.7h0M1299 455.6h0M1297.2 482.7h0M1275.9 480.7h0M1239.3 514.2h0M1253.7 455.3h0M1307.4 426.2h0M1270.7 455.8h0M1265.1 506h0M1297.5 475.1h0M1297.9 465.4h0M1297.8 444.8h0M1318.4 459.8h0M1303.6 461.4h0M1275.8 499.7h0M1255.1 468.4h0M1279.6 498.5h0M1347.8 469.4h0M1246 522.5h0M1310.7 433.5h0M1260.4 481.7h0M1260.3 493.6h0M1308.2 487.8h0M1289.7 488.7h0M1311.5 429.5h0M1281.5 425.7h0M1296.3 464.5h0M1316.9 490.4h0M1253.4 467h0M1328.6 437.7h0M1303.4 454.7h0M1304.7 450.6h0M1331.7 409.9h0M1253.8 493.1h0M1250.7 456.1h0M1296.1 490.4h0M1275.5 495.3h0M1286 506.1h0M1292.8 456.2h0M1309.1 436.8h0M1321.8 431.3h0M1290 460.7h0M1305.6 429.9h0M1269.1 434.3h0M1297.3 423.7h0M1268.1 462.3h0M1312.7 479.1h0M1296.3 454.1h0M1289 434.2h0M1315.6 457.8h0M1317.5 411.3h0M1300.8 466.5h0M1305 443.2h0M1271.9 504.1h0M1278 477h0M1286.4 462.2h0M1349.2 454.7h0M1343.7 446.4h0M1327.4 445.2h0M1291.6 412.4h0M1291 457.8h0M1363.3 394.5h0M1331.1 462.5h0M1272.9 475.8h0M1298.9 452h0M1332.5 450.9h0M1286.3 443.1h0M1275.1 457.9h0M1309.6 493.8h0M1270 471.1h0M1276.4 477.5h0M1255.7 488.9h0M1304.7 473.5h0M1233.9 489.9h0M1320.6 443.8h0M1300 408.3h0M1316.3 461.9h0M1319.7 472.3h0M1326.4 479.9h0M1282.2 445.2h0M1366.7 445.3h0M1261.4 514.8h0M1262.8 447.7h0M1331.4 445.2h0M1297.3 396.7h0M1280.4 444.6h0M1296.7 452.9h0M1291.4 478.6h0M1326.4 434.8h0M1347.4 418.4h0M1221.6 499.9h0M1333.8 440.7h0M1322.4 424.9h0M1296.1 508.5h0M1324.6 485.9h0M1305.9 444.2h0M1289 460.8h0M1318.2 441.1h0M1307.6 472.3h0M1290.8 492.3h0M1308.7 483.4h0M1276.1 473.8h0M1281.3 462.9h0M1332.8 427h0M1284.3 474.9h0M1346.6 462.7h0M1323.4 455.2h0M1282.6 465.1h0M1265.3 505.9h0M1325.9 448.3h0M1314.3 444.3h0M1364.9 387.9h0M1274.4 475.3h0M1302.1 429.4h0M1264.3 491.9h0M1302.1 487h0M1332.9 405.9h0M1294.7 476.6h0M1328.3 424.2h0M1273 475h0M1246.1 450.9h0M1300.3 486.3h0M1277.8 468.4h0M1286.9 471.7h0M1363.6 414.6h0M1306.2 429.3h0M1252 505.6h0M1351.3 416.5h0M1281.9 467.5h0M1347.4 452.4h0M1344.8 448.5h0M1268.4 492.3h0M1323.8 430.7h0M1280.4 480.5h0M1278.6 445.9h0M1271.7 454.5h0M1297.3 460.4h0M1317.3 416.8h0M1322.3 435h0M1295.6 474.7h0M1333.3 420.4h0M1244.4 499.2h0M1305 434.8h0M1313.1 509.4h0M1307.6 444.9h0M1322.7 428.1h0M1272.9 458.2h0M1339.2 450.7h0M1272.6 454.2h0M1321.4 426.8h0M1300.3 451.2h0M1291.1 451.7h0M1311.9 420.3h0M1321.8 410.1h0M1260.4 483.6h0M1327.7 430.1h0M1307.7 495.4h0M1312.8 448.6h0M1245 518.6h0M1293.5 486.1h0M1247.4 473.6h0M1348.9 456.2h0M1285.6 463.5h0M1290.8 449.2h0M1308.7 473h0M1250.7 495.7h0M1297.1 438h0M1273.1 495.7h0M1291.9 497.3h0M1343.3 457.1h0M1338.2 432.9h0M1348.9 415.9h0M1280.1 465.1h0M1273.2 493.9h0M1310.6 445.2h0M1346.7 433h0M1282.8 501.9h0M1333.6 399.3h0M1303.5 468.1h0M1261 534.9h0M1300.6 454.4h0M1337.5 403.4h0M1335.1 474.2h0M1348.4 434.1h0M1311.6 450.1h0M1269 491.1h0M1277.8 481h0M1285.6 468.7h0M1305.1 455.8h0M1280.8 448.8h0" stroke="#111" stroke-width="2.2" stroke-linecap="round" fill="none"/>
<g fill="#000" fill-opacity=".84">
<ellipse cx="1266.8" cy="490.6" rx="35.5" ry="21.5" transform="rotate(-33 1266.8 490.6)" fill-opacity="1"/>
<circle cx="1272.7" cy="390.8" r="9.5"/>
<circle cx="1321.6" cy="388.7" r="3.1"/>
<circle cx="1287.7" cy="400.7" r="3.4"/>
<circle cx="1291.5" cy="389" r="2"/>
<circle cx="1284.6" cy="388.2" r="1.5"/>
<circle cx="1327.7" cy="390.8" r="1.5"/>
<circle cx="1231.8" cy="410" r="2.1"/>
<circle cx="1293.2" cy="408.7" r="1.8"/>
<circle cx="1277" cy="420.6" r="3.7"/>
<circle cx="1298.7" cy="424.4" r="4.9"/>
<circle cx="1326.3" cy="426.7" r="5.8"/>
<circle cx="1262.5" cy="439.2" r="5.8"/>
<circle cx="1278.5" cy="430.5" r="3.8"/>
<circle cx="1282.3" cy="441.2" r="4.9"/>
<circle cx="1306" cy="443.5" r="7.6"/>
<circle cx="1319" cy="445" r="3.8"/>
<circle cx="1344.5" cy="440" r="2.4"/>
<circle cx="1337.3" cy="445.3" r="2.1"/>
<circle cx="1368.6" cy="445.5" r="2.1"/>
<circle cx="1355.6" cy="409.4" r="1.8"/>
<circle cx="1360.6" cy="354.6" r="1.4"/>
<circle cx="1267.1" cy="321.4" r="1.1"/>
<circle cx="1272.9" cy="346.6" r="1.8"/>
<circle cx="1241.1" cy="532" r="1.8"/>
<circle cx="1229.4" cy="532.8" r="1.4"/>
<circle cx="1314" cy="412" r="2.2"/>
<circle cx="1323" cy="417" r="1.8"/>
<circle cx="1331" cy="416.5" r="1.8"/>
<circle cx="1318.5" cy="410.5" r="1.6"/>
<circle cx="1324.5" cy="410" r="1.5"/>
<circle cx="1257" cy="429.5" r="1.7"/>
<circle cx="1267" cy="428" r="1.9"/>
<circle cx="1272.5" cy="433" r="2.4"/>
<circle cx="1336" cy="430.5" r="2"/>
<circle cx="1328" cy="459" r="3"/>
<circle cx="1321" cy="465" r="2.5"/>
<circle cx="1336.5" cy="470" r="1.8"/>
<circle cx="1334" cy="477" r="2"/>
<circle cx="1322" cy="482" r="2.4"/>
<circle cx="1328.5" cy="477" r="2"/>
<circle cx="1314.5" cy="488" r="2"/>
<circle cx="1320.5" cy="487.5" r="1.7"/>
<circle cx="1350.5" cy="495" r="1.5"/>
<circle cx="1320.3" cy="508.3" r="1.5"/>
<circle cx="1339.5" cy="494" r="1.3"/>
<circle cx="1346" cy="461" r="1.6"/>
<circle cx="1352" cy="460.5" r="1.4"/>
<circle cx="1305" cy="462" r="9"/>
<circle cx="1318" cy="470" r="6.5"/>
<circle cx="1296" cy="470" r="8"/>
<circle cx="1268" cy="462" r="4"/>
<circle cx="1266" cy="455" r="3"/>
<circle cx="1280" cy="466" r="5"/>
<circle cx="1312" cy="452" r="6.5"/>
<circle cx="1322" cy="455" r="4"/>
<circle cx="1300" cy="452" r="6"/>
<circle cx="1292" cy="458" r="5"/>
<circle cx="1310" cy="478" r="5.5"/>
<circle cx="1324" cy="474" r="3.5"/>
<circle cx="1300" cy="480" r="6"/>
<circle cx="1316" cy="492" r="3"/>
<circle cx="1306" cy="492" r="3.5"/>
<circle cx="1298" cy="496" r="3"/>
<circle cx="1327" cy="466" r="3"/>
<circle cx="1289" cy="437" r="3"/>
<circle cx="1270" cy="449" r="2.5"/>
<circle cx="1333" cy="453" r="2.2"/>
<circle cx="1341" cy="466" r="1.6"/>
<circle cx="1344" cy="480" r="1.5"/>
<circle cx="1331" cy="487" r="2"/>
<circle cx="1337" cy="498" r="1.4"/>
<circle cx="1329" cy="495" r="1.6"/>
<circle cx="1301.3" cy="473.4" r="2.7"/>
<circle cx="1279.5" cy="480.6" r="1.3"/>
<circle cx="1295.8" cy="490.8" r="1.9"/>
<circle cx="1322.3" cy="451.2" r="2.6"/>
<circle cx="1295.3" cy="485.2" r="1.5"/>
<circle cx="1321.6" cy="465" r="1.3"/>
<circle cx="1304.7" cy="460.1" r="1.7"/>
<circle cx="1301.9" cy="451.1" r="1.9"/>
<circle cx="1339.4" cy="452.1" r="2.3"/>
<circle cx="1314" cy="467.1" r="2.5"/>
<circle cx="1314.9" cy="493" r="1.3"/>
<circle cx="1289.9" cy="457.3" r="1.5"/>
<circle cx="1315" cy="449.9" r="1.9"/>
<circle cx="1274.1" cy="479.9" r="1.6"/>
<circle cx="1268.6" cy="504.2" r="2.5"/>
<circle cx="1307.2" cy="460.3" r="1.7"/>
<circle cx="1341.9" cy="445.9" r="2.3"/>
<circle cx="1291.1" cy="478.2" r="2.5"/>
<circle cx="1289.2" cy="466.3" r="2.6"/>
<circle cx="1282.1" cy="482.7" r="2.7"/>
<circle cx="1347.1" cy="452" r="2.4"/>
<circle cx="1306.7" cy="473.6" r="1.8"/>
<circle cx="1305.9" cy="455.8" r="1.3"/>
<circle cx="1294.4" cy="464.7" r="1.8"/>
<circle cx="1318.3" cy="471.4" r="2.5"/>
<circle cx="1312" cy="447.8" r="3"/>
<circle cx="1290.1" cy="468.6" r="1.3"/>
<circle cx="1293.7" cy="490.6" r="1.5"/>
<circle cx="1309.2" cy="464.3" r="1.4"/>
<circle cx="1294" cy="476" r="1.4"/>
<circle cx="1290.4" cy="504" r="1.5"/>
<circle cx="1288.9" cy="466.3" r="2.1"/>
<circle cx="1290.6" cy="486" r="1.9"/>
<circle cx="1308.5" cy="477.6" r="2.9"/>
<circle cx="1325.1" cy="469.3" r="1.2"/>
<circle cx="1309.9" cy="476.8" r="2.7"/>
<circle cx="1326.1" cy="421.4" r="2.2"/>
<circle cx="1305" cy="438.6" r="1.6"/>
<circle cx="1313.4" cy="441" r="2.7"/>
<circle cx="1295.4" cy="486.4" r="2.9"/>
<circle cx="1318.6" cy="470" r="1.2"/>
<circle cx="1301" cy="473.4" r="2.9"/>
<circle cx="1301" cy="468.1" r="1.3"/>
<circle cx="1316.9" cy="434.6" r="1.4"/>
<circle cx="1327" cy="456.6" r="1.4"/>
<circle cx="1321.7" cy="466.3" r="1.7"/>
<circle cx="1315.7" cy="470.4" r="2.3"/>
<circle cx="1317.1" cy="458.5" r="2.7"/>
<circle cx="1314.8" cy="485.8" r="1.6"/>
<circle cx="1319.7" cy="464.8" r="2.7"/>
<circle cx="1315.6" cy="475.7" r="2.9"/>
<circle cx="1340.7" cy="446.6" r="1.8"/>
<circle cx="1317.8" cy="460.9" r="2.5"/>
<circle cx="1287.6" cy="498.7" r="1.5"/>
<circle cx="1338.3" cy="480.9" r="1.7"/>
<circle cx="1309.8" cy="450.4" r="2.7"/>
<circle cx="1302.4" cy="474.8" r="1.3"/>
<circle cx="1277.1" cy="477.7" r="2.6"/>
<circle cx="1285.9" cy="482.3" r="2.5"/>
<circle cx="1304.6" cy="494.2" r="2.6"/>
<circle cx="1300.6" cy="457.6" r="1.3"/>
<circle cx="1302.9" cy="477.2" r="1.4"/>
<circle cx="1287.6" cy="479.3" r="2.1"/>
<circle cx="1297" cy="462.5" r="2.2"/>
<circle cx="1309" cy="466" r="2.5"/>
<circle cx="1328.2" cy="455.7" r="1.7"/>
<circle cx="1308.6" cy="471.6" r="1.2"/>
</g>
<path d="M1280.9 407.5h0M1286.1 490.7h0M1251.6 482.2h0M1253.8 423.1h0M1303.3 411h0M1336.4 430.7h0M1300.4 438.6h0M1279.9 436.8h0M1289.4 469.1h0M1297.4 450.8h0M1275.7 527.1h0M1300.7 440.3h0M1228.8 529.5h0M1256.3 429.4h0M1285.6 424.2h0M1277.7 406.6h0M1294.9 453.7h0M1259.7 422.7h0M1283 469.3h0M1292.4 429h0M1245.5 516.6h0M1307.6 400.4h0M1284 407h0M1272.3 369.7h0M1320.9 469.6h0M1316.9 433.4h0M1278.4 492.8h0M1250.1 426.1h0M1281.1 423.4h0M1236.5 449.9h0M1288.2 459.7h0M1291.6 443.1h0M1276.3 496.7h0M1259.6 442.9h0M1311.1 429.8h0M1287.4 431.8h0M1303.1 480.7h0M1258.9 469.4h0M1343.3 424.1h0M1312.6 389.3h0M1284.5 387.7h0M1312.7 414h0M1303 415.7h0M1297.4 417.5h0M1272.7 450.9h0M1282 505.2h0M1270.4 473.6h0M1285.7 436.4h0M1267.8 459.5h0M1295.1 487.4h0M1289.3 465h0M1296.8 478.2h0M1272.5 510.6h0M1295.1 446.3h0M1295.3 373.8h0M1295.1 460.3h0M1261.5 516.2h0M1306.5 515.4h0M1265.5 483.3h0M1344.3 429.6h0M1221.3 470.6h0M1286.2 461.5h0M1236 474.5h0M1294.1 487.7h0M1276.3 377.3h0M1285.8 417.7h0M1269.6 502.5h0M1314.7 409.9h0M1303 461.4h0M1231.7 526.4h0M1281.8 473.2h0M1276.7 436.6h0M1264 414.3h0M1319.7 520.8h0M1291 542.7h0M1287.1 479.2h0M1266.7 473h0M1301.3 432.5h0M1230.8 462.8h0M1252.7 460.5h0M1324 400.3h0M1282.9 367h0M1333.5 406.2h0M1212.1 507.7h0M1255.9 531.3h0M1290.2 482.5h0M1268.1 450.7h0M1266.7 481.4h0M1334 389.8h0M1258.8 480h0M1370.6 433.6h0M1313.7 435.7h0M1262.8 483.2h0M1250.8 465.8h0M1329.1 392.8h0M1246.6 502.3h0M1299.4 442h0M1319.8 426.9h0M1265.4 467.9h0M1267.5 409.8h0M1302.3 434h0M1306.9 452.1h0M1266.5 415.5h0M1263.7 473.9h0M1310 462.6h0M1285.2 471.4h0M1293.2 420.5h0M1264.1 499.2h0M1254.2 459h0M1322.2 465.1h0M1321.7 390.5h0M1286.3 505h0M1219.6 498.5h0M1260.5 437.8h0M1277 472.8h0M1299.7 413.7h0M1262 437.1h0M1261 449h0M1301.4 466.3h0M1306.5 484.8h0M1308.2 405.9h0M1267.1 463.1h0M1323.7 419.7h0M1250.4 455.2h0M1272.2 452.8h0M1279.5 414.7h0M1279.3 394.9h0M1285.3 462.2h0M1264.3 470.1h0M1329.9 449.3h0M1249.7 430.7h0M1303.3 511h0M1251.8 442.2h0M1290.7 514.6h0M1272.4 417.1h0M1274.8 403.3h0M1284.5 455.7h0M1301.5 424h0M1242 504.2h0M1294.5 441.7h0M1268.2 497.9h0M1264.7 460h0M1261.7 438h0M1330.2 427.4h0M1324 460.5h0M1314.5 448.1h0M1213.2 495.3h0M1319.4 471.3h0M1273.4 441.1h0M1335.3 461.7h0M1237 464.3h0M1328.5 462.1h0M1262.5 467.9h0M1316.3 495.3h0M1301.7 449.8h0M1293.2 454.2h0M1243.8 447.6h0M1273.9 451.5h0M1227 449h0M1306.9 497.1h0M1310.1 443.3h0M1332.1 335.4h0M1298.1 377.2h0M1371 209.1h0M1273.8 173.9h0M1272.4 180.8h0M1266.3 206.6h0M1376.8 135.8h0M1240.9 286.5h0M1299.7 299.9h0M1315.5 217.7h0M1288.8 304.3h0M1256.1 144.3h0M1274.2 218.2h0M1303.6 211.7h0M1299.2 141.3h0M1375.7 336.4h0M1281.1 299.3h0M1310.4 188.4h0M1390.2 196.1h0M1295.4 350.4h0M1352.4 307.1h0M1370.7 144.6h0M1238.5 218.8h0M1278 161h0M1391.5 187.6h0M1327.6 305.5h0M1256.7 206.6h0M1255.1 360.9h0M1256.3 143.2h0M1387.6 358.9h0M1253.6 130.6h0M1369 280.8h0M1337.2 322.4h0M1396.1 320.8h0M1347.1 153.9h0M1290.5 359.9h0M1257.3 196.5h0M1393.6 266.1h0M1260.8 349.5h0M1345.5 252.5h0" stroke="#f00" stroke-width="1.3" stroke-linecap="round" fill="none"/>
<g fill="#f00" fill-opacity=".86">
<ellipse cx="1256.5" cy="495" rx="26" ry="12.5" transform="rotate(-52 1256.5 495)" fill-opacity="1"/>
<ellipse cx="1264" cy="486" rx="22" ry="11" transform="rotate(-40 1264 486)" fill-opacity="1"/>
<ellipse cx="1250" cy="506" rx="12" ry="9" transform="rotate(-30 1250 506)" fill-opacity="1"/>
<circle cx="1283.6" cy="345" r="6.1"/>
<circle cx="1309" cy="353.7" r="3.4"/>
<circle cx="1281.9" cy="365.3" r="3.8"/>
<circle cx="1297.1" cy="376.8" r="2.1"/>
<circle cx="1306" cy="327.8" r="2"/>
<circle cx="1326" cy="341.7" r="1.8"/>
<circle cx="1338.2" cy="330.7" r="1.7"/>
<circle cx="1229.4" cy="329.5" r="1.5"/>
<circle cx="1302.9" cy="388.5" r="2"/>
<circle cx="1272.1" cy="404.2" r="2"/>
<circle cx="1294.1" cy="416" r="4.1"/>
<circle cx="1288.4" cy="422.4" r="3.1"/>
<circle cx="1308.3" cy="422.1" r="4.3"/>
<circle cx="1233.8" cy="506" r="2.7"/>
<circle cx="1324" cy="499.6" r="2.1"/>
<circle cx="1301.5" cy="421" r="2.5"/>
<circle cx="1314" cy="427.5" r="2.2"/>
<circle cx="1321" cy="428.5" r="2"/>
<circle cx="1294" cy="431" r="2.5"/>
<circle cx="1303" cy="435" r="3.2"/>
<circle cx="1311" cy="436" r="3"/>
<circle cx="1299.5" cy="440" r="2.2"/>
<circle cx="1316" cy="438.5" r="2"/>
<circle cx="1279" cy="395" r="1.2"/>
<circle cx="1286" cy="399" r="1.5"/>
<circle cx="1288" cy="444" r="5.6"/>
<circle cx="1296" cy="444.5" r="4.4"/>
<circle cx="1281" cy="450" r="5"/>
<circle cx="1274" cy="452" r="4.4"/>
<circle cx="1290" cy="454" r="7.5"/>
<circle cx="1300" cy="457" r="5.6"/>
<circle cx="1306" cy="454" r="6.9"/>
<circle cx="1314" cy="457" r="6.2"/>
<circle cx="1320" cy="459" r="5"/>
<circle cx="1311" cy="464" r="5"/>
<circle cx="1303" cy="466" r="5.6"/>
<circle cx="1319" cy="466" r="4"/>
<circle cx="1295" cy="464" r="5"/>
<circle cx="1284" cy="462" r="6.2"/>
<circle cx="1276" cy="465" r="5.6"/>
<circle cx="1268" cy="470" r="6.2"/>
<circle cx="1262" cy="471" r="4.4"/>
<circle cx="1282" cy="472" r="6.9"/>
<circle cx="1291" cy="474" r="6.2"/>
<circle cx="1299" cy="474" r="4.5"/>
<circle cx="1305" cy="476" r="3.8"/>
<circle cx="1312" cy="474" r="3.2"/>
<circle cx="1317" cy="478" r="3.1"/>
<circle cx="1288" cy="482" r="7.5"/>
<circle cx="1296" cy="483" r="4.4"/>
<circle cx="1278" cy="480" r="6.2"/>
<circle cx="1270" cy="480" r="7.5"/>
<circle cx="1303" cy="483.5" r="3.1"/>
<circle cx="1310" cy="482" r="2.2"/>
<circle cx="1316" cy="484" r="2.2"/>
<circle cx="1321" cy="473" r="2"/>
<circle cx="1276.5" cy="498" r="2.5"/>
<circle cx="1274" cy="491" r="3.8"/>
<circle cx="1281" cy="489" r="3.8"/>
<circle cx="1319" cy="449" r="1.8"/>
<circle cx="1318" cy="484.5" r="2"/>
<circle cx="1323.5" cy="442.5" r="1.5"/>
<circle cx="1339.5" cy="434.5" r="1.3"/>
<circle cx="1345.5" cy="429.2" r="1.1"/>
<circle cx="1313" cy="490.5" r="1.5"/>
<circle cx="1277" cy="503.5" r="2.2"/>
<circle cx="1282" cy="527.5" r="1.3"/>
<circle cx="1322.5" cy="527" r="0.9"/>
<circle cx="1339.7" cy="446.5" r="1.2"/>
<circle cx="1274.6" cy="484.3" r="2.1"/>
<circle cx="1266.2" cy="498.1" r="1.9"/>
<circle cx="1287.9" cy="473.5" r="1.4"/>
<circle cx="1302.6" cy="458.6" r="1.6"/>
<circle cx="1268.1" cy="486.7" r="1.7"/>
<circle cx="1279.1" cy="463.7" r="1.7"/>
<circle cx="1273.4" cy="478.3" r="1.5"/>
<circle cx="1283.3" cy="477.4" r="1.9"/>
<circle cx="1302.1" cy="463.1" r="1.9"/>
<circle cx="1285.5" cy="472.1" r="1.4"/>
<circle cx="1277.3" cy="482.7" r="1.3"/>
<circle cx="1281.2" cy="475.7" r="2.5"/>
<circle cx="1315.6" cy="462.3" r="1.9"/>
<circle cx="1300.9" cy="451.1" r="1"/>
<circle cx="1304.2" cy="469.3" r="1.8"/>
<circle cx="1269.8" cy="479.8" r="1.7"/>
<circle cx="1294.4" cy="484" r="1.8"/>
<circle cx="1254.6" cy="497.7" r="1.4"/>
<circle cx="1311" cy="474.9" r="2.5"/>
<circle cx="1295.1" cy="452.9" r="1.3"/>
<circle cx="1285" cy="474.3" r="2.4"/>
<circle cx="1307.1" cy="438.9" r="1.3"/>
<circle cx="1277" cy="477.5" r="1.1"/>
<circle cx="1275.1" cy="456.6" r="1.2"/>
<circle cx="1309.5" cy="448.1" r="2.5"/>
<circle cx="1301" cy="466.6" r="1.6"/>
<circle cx="1301.1" cy="444" r="1.8"/>
<circle cx="1314.7" cy="447.9" r="1.8"/>
<circle cx="1277.3" cy="477.1" r="2.3"/>
<circle cx="1267.8" cy="472.9" r="1.4"/>
<circle cx="1295.4" cy="452.5" r="2.5"/>
<circle cx="1314.1" cy="453.9" r="2.1"/>
<circle cx="1325.9" cy="443.6" r="1.4"/>
<circle cx="1281.1" cy="466.6" r="2.1"/>
<circle cx="1320.2" cy="427.6" r="2.3"/>
<circle cx="1301.7" cy="456.6" r="1.6"/>
<circle cx="1305.6" cy="458.9" r="1.7"/>
<circle cx="1301.1" cy="471.5" r="2.1"/>
<circle cx="1280" cy="469.5" r="1.5"/>
<circle cx="1267" cy="491.8" r="1.5"/>
<circle cx="1273.6" cy="495.3" r="2.1"/>
<circle cx="1280.3" cy="502.4" r="2.3"/>
<circle cx="1279.4" cy="478" r="1.9"/>
<circle cx="1290.1" cy="475.3" r="1.5"/>
<circle cx="1269.1" cy="494.7" r="2.1"/>
<circle cx="1266.2" cy="492.9" r="1.5"/>
<circle cx="1292" cy="468" r="1.1"/>
<circle cx="1248.9" cy="494.5" r="2"/>
<circle cx="1280.8" cy="472.9" r="1"/>
<circle cx="1303.6" cy="468.3" r="2"/>
<circle cx="1267.7" cy="493.7" r="1.6"/>
<circle cx="1266.6" cy="478.1" r="1.9"/>
<circle cx="1284.2" cy="493.4" r="1.5"/>
<circle cx="1303.1" cy="445.8" r="2"/>
<circle cx="1283.7" cy="482.8" r="2.4"/>
<circle cx="1278.6" cy="477.4" r="1.6"/>
<circle cx="1295.5" cy="473.2" r="1.9"/>
<circle cx="1256.8" cy="500.2" r="2.6"/>
<circle cx="1256.9" cy="499" r="1.9"/>
</g>
<path d="M1272 490.6h0M1229.6 499.4h0M1258.8 489h0M1244.5 488.7h0M1293.2 479.9h0M1254.1 495.1h0M1260.6 486h0M1269.6 505.1h0M1276 492.5h0M1286 472.2h0M1287.6 470h0M1266.2 493.9h0M1269.4 494.8h0M1263.2 488h0M1242.6 506.8h0M1263 494.1h0M1282.4 487.9h0M1263.2 501.2h0M1262.9 507.6h0M1292.8 495.9h0M1270.5 477.3h0M1268.6 488.2h0M1291.5 472.5h0M1263.8 485.7h0M1292.5 472.5h0M1267.5 489.2h0M1258.5 495.7h0M1257.4 486.3h0M1282.8 481.5h0M1257.9 499.9h0M1269.4 494h0M1260 488.7h0M1257.6 500h0M1300.1 468.6h0M1282.4 483.1h0M1274.1 491.1h0M1279.8 487.3h0M1269.9 497.3h0M1274 511h0M1298.4 469.2h0M1287.3 488.5h0M1285.6 486.2h0M1271.8 488.3h0M1270.8 479.8h0M1290.3 483.4h0M1258.5 492h0M1267.4 488.3h0M1281.2 485.6h0M1242.7 514.7h0M1271.1 492.8h0M1279.8 476h0M1306.3 474.8h0M1270.7 486.2h0M1263 491.9h0M1273.3 484h0M1262.4 496.1h0M1258.9 490.3h0M1245.8 511.8h0M1244.8 507.5h0M1293.1 459.8h0" stroke="#200" stroke-width="1.1" stroke-linecap="round" fill="none" opacity=".8"/>
<rect x="1072.5" y="51" width="393.7" height="502.3" fill="none" stroke="#000" stroke-width="2.4"/>
<path d="M1068.9 474.2H1072M1068.9 433.1H1072M1068.9 404H1072M1068.9 381.4H1072M1068.9 363H1072M1068.9 347.4H1072M1068.9 333.9H1072M1068.9 322H1072M1068.9 241.2H1072M1068.9 200.1H1072M1068.9 171H1072M1068.9 148.4H1072M1068.9 130H1072M1068.2 544.3H1072M1068.2 311.3H1072M1071.8 553V558M1203.2 553V558M1334.6 553V558M1466 553V558" stroke="#000" stroke-width="2" fill="none"/>
<g font-size="19.2" text-anchor="middle">
<text x="1071.8" y="576.8">0.0</text>
<text x="1203.2" y="576.8">0.2</text>
<text x="1334.6" y="576.8">0.4</text>
<text x="1466" y="576.8">0.6</text>
<text x="1275.4" y="607.8">GC proportion</text>
<text transform="translate(1021 312.8) rotate(-90)" font-size="23" textLength="93.4" lengthAdjust="spacingAndGlyphs">Coverage</text>
</g>
<g font-size="19"><text x="1037.3" y="311.3">10<tspan font-size="11.2" dy="-6.4">3</tspan></text><text x="1037.3" y="545">10<tspan font-size="11.2" dy="-6.4">2</tspan></text></g>
<circle cx="1203.3" cy="72" r="7.6"/><circle cx="1203.3" cy="91.2" r="7.6" fill="#f00"/>
<g font-family="DejaVu Sans,Liberation Sans,sans-serif" font-size="14.2" fill="#111"><text x="1227" y="77.1" textLength="73.6" lengthAdjust="spacingAndGlyphs">Braconidae</text><text x="1227" y="96.3" textLength="96.1" lengthAdjust="spacingAndGlyphs">Polydnaviridae</text></g>
<g fill="#cfcfcf"><circle cx="1365" cy="68.7" r="5.3"/><circle cx="1364.5" cy="86.3" r="7.4"/><circle cx="1363.2" cy="109.4" r="11.7"/></g>
<g font-family="DejaVu Sans,Liberation Sans,sans-serif" font-size="10" fill="#111"><text x="1377.9" y="72.2" textLength="45.1" lengthAdjust="spacingAndGlyphs">237,900nt</text><text x="1377.3" y="89.8" textLength="44.5" lengthAdjust="spacingAndGlyphs">475,800nt</text><text x="1376.6" y="112.8" textLength="52.8" lengthAdjust="spacingAndGlyphs">1,189,500nt</text></g>
</g>
<g id="panelC">
<text x="1549.5" y="24.5" font-size="33">C</text>
<g stroke="#000" stroke-width="2" fill="none" stroke-linecap="round" stroke-linejoin="round">
<rect x="1598.6" y="50.8" width="368.6" height="505.1"/>
<path d="M1585 537.4H1598.6M1585 422.4H1598.6M1585 307.5H1598.6M1585 192.5H1598.6M1585 77.6H1598.6M1654.6 555.9V569M1739.8 555.9V569M1825.2 555.9V569M1910.7 555.9V569"/>
</g>
<g font-size="20" text-anchor="middle">
<text transform="translate(1568.7 537.1) rotate(-90)">0.0</text>
<text transform="translate(1568.7 422.1) rotate(-90)">0.5</text>
<text transform="translate(1568.7 307.2) rotate(-90)">1.0</text>
<text transform="translate(1568.7 192.2) rotate(-90)">1.5</text>
<text transform="translate(1568.7 75.3) rotate(-90)">2.0</text>
<text transform="translate(1536.6 305) rotate(-90)" font-style="italic">dN/dS</text>
</g>
<g font-size="19" text-anchor="middle">
<text x="1660.2" y="77.3">n=422</text>
<text x="1744.9" y="77.3">n=57</text>
<text x="1830.3" y="77.3">n=19</text>
<text x="1916.2" y="77.3">n=106</text>
</g>
<g font-size="20" text-anchor="middle">
<text x="1659.2" y="345.5">a</text>
<text x="1744.2" y="288.2">b</text>
<text x="1829.4" y="271.1">c</text>
<text x="1915" y="111.3">c</text>
</g>
<g font-size="19.3" text-anchor="middle">
<text x="1653" y="601.1">BUSCO</text><text x="1740.5" y="601.1">Nudiviral</text><text x="1831.4" y="593">Nudiviral</text><text x="1831.4" y="616">odv−e66</text><text x="1927.6" y="601.1">Virulence</text>
</g>
<g stroke="#000" stroke-width="2" fill="none" stroke-linecap="round">
<path d="M1654.6 502.8V467.2M1654.6 528V537.4M1739.8 433.4V337.1M1739.8 509.5V537.4M1825.2 393.4V311.6M1825.2 454.3V499.5M1910.7 347.8V257.1M1910.7 422.2V496.9" stroke-dasharray="4.4 6.4" stroke-linecap="round"/>
<path d="M1636.8 467.2H1672.4M1636.8 537.4H1672.4M1722 337.1H1757.6M1722 537.4H1757.6M1807.4 311.6H1843M1807.4 499.5H1843M1892.9 257.1H1928.5M1892.9 496.9H1928.5"/>
</g>
<g stroke="#000" stroke-width="2" stroke-linejoin="round">
<path d="M1620.2 502.8H1689.4V516.4L1672.3 518.3L1689.4 520.2V528H1620.2V520.2L1637.3 518.3L1620.2 516.4Z" fill="#bebebe"/><path d="M1637.3 518.3H1672.3" stroke-width="4" stroke-linecap="butt"/>
<path d="M1705.6 433.4H1774.8V469.1L1757.7 484.5L1774.8 500.7V509.5H1705.6V500.7L1722.7 484.5L1705.6 469.1Z" fill="#f00"/><path d="M1722.7 484.5H1757.7" stroke-width="4" stroke-linecap="butt"/>
<path d="M1790.5 393.4H1859.7V393.4L1842.6 416.3L1859.7 438.1V454.3H1790.5V438.1L1807.6 416.3L1790.5 393.4Z" fill="url(#dots2)"/><path d="M1807.6 416.3H1842.6" stroke-width="4" stroke-linecap="butt"/>
<path d="M1876.1 347.8H1945.3V375.8L1928.2 387L1945.3 398.2V422.2H1876.1V398.2L1893.2 387L1876.1 375.8Z" fill="#00f"/><path d="M1893.2 387H1928.2" stroke-width="4" stroke-linecap="butt"/>
</g>
<g fill="#000">
<circle cx="1654.6" cy="465.5" r="3.4"/>
<circle cx="1654.6" cy="461" r="3.4"/>
<circle cx="1654.6" cy="456" r="3.4"/>
<circle cx="1654.6" cy="451.5" r="3.4"/>
<circle cx="1654.6" cy="447" r="3.4"/>
<circle cx="1654.6" cy="442.5" r="3.4"/>
<circle cx="1654.6" cy="438" r="3.4"/>
<circle cx="1654.6" cy="433.5" r="3.4"/>
<circle cx="1654.6" cy="429" r="3.4"/>
<circle cx="1654.6" cy="424.5" r="3.4"/>
<circle cx="1654.6" cy="420.3" r="3.4"/>
<circle cx="1654.6" cy="412" r="3.4"/>
<circle cx="1654.6" cy="404.9" r="3.4"/>
<circle cx="1654.6" cy="398.2" r="3.4"/>
<circle cx="1654.6" cy="367.5" r="3.4"/>
<circle cx="1654.6" cy="361.3" r="3.4"/>
<circle cx="1739.7" cy="301.8" r="3.4"/>
<circle cx="1825.1" cy="286.7" r="3.4"/>
<circle cx="1910.7" cy="127.2" r="3.4"/>
<circle cx="1910.7" cy="196.7" r="3.4"/>
<circle cx="1910.7" cy="235.7" r="3.4"/>
</g>
</g>
<g id="panelD">
<text x="133" y="771" font-size="33">D</text>
<path d="M438.8 1521.2H1204.1L1182.5 1303.5L1394.4 1521.2H1751V1700.3H438.8Z" fill="#fff" stroke="#00cc66" stroke-width="6.5" stroke-linejoin="miter" stroke-miterlimit="2"/>
<path d="M218.4 1344.6H674L727 1266L719.8 1344.6H1474.2V1498.3H218.4Z" fill="#fff" stroke="#ffff33" stroke-width="6.4" stroke-linejoin="miter" stroke-miterlimit="2"/>
<path d="M218.4 740.7H992.2V1045.5H847L856.1 1099.3L739.2 1045.5H218.4Z" fill="#fff" stroke="#660066" stroke-width="6.5" stroke-miterlimit="2"/>
<path d="M1010.8 740.4H1843.2V1045.6H1413.7L1282.3 1094.3L1299.8 1045.6H1010.8Z" fill="#fff" stroke="#660066" stroke-width="6.5" stroke-miterlimit="2"/>
<g id="t1h">
<path d="M429.8 787.8h9.6v14h-9.6zM497.3 787.8h9.6v14h-9.6zM535.9 787.8h9.6v14h-9.6zM555.1 787.8h9.6v14h-9.6zM940.7 787.8h9.6v14h-9.6zM535.9 801.7h19.3v14h-19.3zM940.7 801.7h9.6v14h-9.6zM960 801.7h9.6v14h-9.6zM497.3 815.6h9.6v14h-9.6zM535.9 815.6h9.6v14h-9.6zM555.1 815.6h9.6v14h-9.6zM931.1 815.6h9.6v14h-9.6zM950.4 815.6h28.9v14h-28.9zM429.8 829.5h9.6v14h-9.6zM497.3 829.5h9.6v14h-9.6zM535.9 829.5h9.6v14h-9.6zM931.1 829.5h38.6v14h-38.6zM429.8 843.3h9.6v14h-9.6zM535.9 843.3h9.6v14h-9.6zM555.1 843.3h9.6v14h-9.6zM950.4 843.3h19.3v14h-19.3zM391.3 857.2h9.6v14h-9.6zM535.9 857.2h28.9v14h-28.9zM931.1 857.2h9.6v14h-9.6zM960 857.2h19.3v14h-19.3zM391.3 871.1h9.6v14h-9.6zM429.8 871.1h9.6v14h-9.6zM497.3 871.1h9.6v14h-9.6zM535.9 871.1h28.9v14h-28.9zM931.1 871.1h9.6v14h-9.6zM960 871.1h19.3v14h-19.3z" fill="#ccf"/>
<path d="M410.5 787.8h9.6v14h-9.6zM487.7 787.8h9.6v14h-9.6zM506.9 787.8h9.6v14h-9.6zM641.9 787.8h19.3v14h-19.3zM873.3 787.8h9.6v14h-9.6zM911.8 787.8h9.6v14h-9.6zM410.5 801.7h9.6v14h-9.6zM506.9 801.7h9.6v14h-9.6zM641.9 801.7h19.3v14h-19.3zM699.7 801.7h9.6v14h-9.6zM410.5 815.6h9.6v14h-9.6zM487.7 815.6h9.6v14h-9.6zM506.9 815.6h9.6v14h-9.6zM574.4 815.6h9.6v14h-9.6zM641.9 815.6h19.3v14h-19.3zM670.8 815.6h9.6v14h-9.6zM699.7 815.6h9.6v14h-9.6zM873.3 815.6h9.6v14h-9.6zM911.8 815.6h9.6v14h-9.6zM487.7 829.5h9.6v14h-9.6zM574.4 829.5h9.6v14h-9.6zM641.9 829.5h19.3v14h-19.3zM670.8 829.5h9.6v14h-9.6zM699.7 829.5h9.6v14h-9.6zM873.3 829.5h9.6v14h-9.6zM911.8 829.5h9.6v14h-9.6zM410.5 843.3h9.6v14h-9.6zM574.4 843.3h9.6v14h-9.6zM670.8 843.3h9.6v14h-9.6zM873.3 843.3h9.6v14h-9.6zM911.8 843.3h9.6v14h-9.6zM410.5 857.2h9.6v14h-9.6zM487.7 857.2h9.6v14h-9.6zM506.9 857.2h9.6v14h-9.6zM574.4 857.2h9.6v14h-9.6zM641.9 857.2h19.3v14h-19.3zM670.8 857.2h9.6v14h-9.6zM699.7 857.2h9.6v14h-9.6zM873.3 857.2h9.6v14h-9.6zM911.8 857.2h9.6v14h-9.6zM410.5 871.1h9.6v14h-9.6zM487.7 871.1h9.6v14h-9.6zM506.9 871.1h9.6v14h-9.6zM574.4 871.1h9.6v14h-9.6zM641.9 871.1h19.3v14h-19.3zM670.8 871.1h9.6v14h-9.6zM699.7 871.1h9.6v14h-9.6zM873.3 871.1h9.6v14h-9.6zM911.8 871.1h9.6v14h-9.6z" fill="#99f"/>
<path d="M420.2 787.8h9.6v14h-9.6zM439.5 787.8h48.2v14h-48.2zM526.2 787.8h9.6v14h-9.6zM584.1 787.8h57.8v14h-57.8zM680.5 787.8h9.6v14h-9.6zM738.3 787.8h86.8v14h-86.8zM844.3 787.8h28.9v14h-28.9zM882.9 787.8h28.9v14h-28.9zM921.5 787.8h9.6v14h-9.6zM420.2 801.7h9.6v14h-9.6zM439.5 801.7h19.3v14h-19.3zM478 801.7h9.6v14h-9.6zM516.6 801.7h19.3v14h-19.3zM584.1 801.7h57.8v14h-57.8zM690.1 801.7h9.6v14h-9.6zM709.4 801.7h163.9v14h-163.9zM882.9 801.7h28.9v14h-28.9zM921.5 801.7h9.6v14h-9.6zM420.2 815.6h9.6v14h-9.6zM439.5 815.6h48.2v14h-48.2zM516.6 815.6h19.3v14h-19.3zM584.1 815.6h57.8v14h-57.8zM680.5 815.6h19.3v14h-19.3zM709.4 815.6h163.9v14h-163.9zM882.9 815.6h28.9v14h-28.9zM921.5 815.6h9.6v14h-9.6zM420.2 829.5h9.6v14h-9.6zM439.5 829.5h48.2v14h-48.2zM516.6 829.5h19.3v14h-19.3zM584.1 829.5h57.8v14h-57.8zM680.5 829.5h19.3v14h-19.3zM709.4 829.5h163.9v14h-163.9zM882.9 829.5h28.9v14h-28.9zM921.5 829.5h9.6v14h-9.6zM420.2 843.3h9.6v14h-9.6zM439.5 843.3h9.6v14h-9.6zM458.7 843.3h28.9v14h-28.9zM516.6 843.3h19.3v14h-19.3zM584.1 843.3h57.8v14h-57.8zM680.5 843.3h19.3v14h-19.3zM709.4 843.3h86.8v14h-86.8zM805.8 843.3h67.5v14h-67.5zM882.9 843.3h28.9v14h-28.9zM921.5 843.3h9.6v14h-9.6zM420.2 857.2h9.6v14h-9.6zM439.5 857.2h48.2v14h-48.2zM516.6 857.2h19.3v14h-19.3zM584.1 857.2h57.8v14h-57.8zM680.5 857.2h19.3v14h-19.3zM709.4 857.2h163.9v14h-163.9zM882.9 857.2h28.9v14h-28.9zM921.5 857.2h9.6v14h-9.6zM420.2 871.1h9.6v14h-9.6zM439.5 871.1h48.2v14h-48.2zM516.6 871.1h19.3v14h-19.3zM584.1 871.1h57.8v14h-57.8zM680.5 871.1h19.3v14h-19.3zM709.4 871.1h163.9v14h-163.9zM892.5 871.1h19.3v14h-19.3z" fill="#6464ff"/>
<text x="232.4" y="766.5" font-size="19" textLength="293.7" lengthAdjust="spacingAndGlyphs">Replication Unit Motif Type 1 Head</text>
<path d="M415.4 783.6v3.6M463.6 783.6v3.6M511.8 783.6v3.6M560 783.6v3.6M608.2 783.6v3.6M656.4 783.6v3.6M704.6 783.6v3.6M752.8 783.6v3.6M801 783.6v3.6M849.2 783.6v3.6M897.4 783.6v3.6M945.6 783.6v3.6" stroke="#222" stroke-width="1" fill="none"/>
<g font-family="DejaVu Sans,Liberation Sans,sans-serif" font-size="8.6" text-anchor="middle" fill="#111">
<text x="465" y="781.3">10</text>
<text x="561.4" y="781.3">20</text>
<text x="657.8" y="781.3">30</text>
<text x="754.2" y="781.3">40</text>
<text x="850.6" y="781.3">50</text>
<text x="947" y="781.3">60</text>
</g>
<g font-family="DejaVu Sans,Liberation Sans,sans-serif" font-size="9.18" fill="#111">
<text x="235.6" y="799.6">CC_RUM_T1_H_LP3_SEG-17</text>
<text x="235.6" y="813.5">CC_RUM_T1_H_LP4_SEG-7</text>
<text x="235.6" y="827.5">CC_RUM_T1_H_LP5_SEG-1</text>
<text x="235.6" y="841.4">CC_RUM_T1_H_LP7_SEG-4</text>
<text x="235.6" y="855.3">CC_RUM_T1_H_LP8_SEG-26</text>
<text x="235.6" y="869.2">MD_RUM_T1_H_LP3_SEG-J</text>
<text x="235.6" y="883.2">MD_RUM_T1_H_LP3_SEG-N</text>
</g>
<g font-family="DejaVu Sans,Liberation Sans,sans-serif" font-size="9.6" text-anchor="middle" fill="#000" stroke="#000" stroke-width=".28">
<text x="376.8 386.4 396.1 405.7 415.4 425 434.6 444.3 453.9 463.6 473.2 482.8 492.5 502.1 511.8 521.4 531 540.7 550.3 560 569.6 579.2 588.9 598.5 608.2 617.8 627.4 637.1 646.7 656.4 666 675.6 685.3 694.9 704.6 714.2 723.8 733.5 743.1 752.8 762.4 772 781.7 791.3 801 810.6 820.2 829.9 839.5 849.2 858.8 868.4 878.1 887.7 897.4 907 916.6 926.3 935.9 945.6 955.2 964.8 974.5" y="799.7">-CGGATTCGGATATGTGGAAACTTACTGTAAGA-----ATAATTTATGAATAAATTATATCAC</text>
<text x="376.8 386.4 396.1 405.7 415.4 425 434.6 444.3 453.9 463.6 473.2 482.8 492.5 502.1 511.8 521.4 531 540.7 550.3 560 569.6 579.2 588.9 598.5 608.2 617.8 627.4 637.1 646.7 656.4 666 675.6 685.3 694.9 704.6 714.2 723.8 733.5 743.1 752.8 762.4 772 781.7 791.3 801 810.6 820.2 829.9 839.5 849.2 858.8 868.4 878.1 887.7 897.4 907 916.6 926.3 935.9 945.6 955.2 964.8 974.5" y="813.6">-AGAATCCGTTTTAGCGATTACTTACTGTAAACGTGATATAATTTATTCATATATTGTATAT-</text>
<text x="376.8 386.4 396.1 405.7 415.4 425 434.6 444.3 453.9 463.6 473.2 482.8 492.5 502.1 511.8 521.4 531 540.7 550.3 560 569.6 579.2 588.9 598.5 608.2 617.8 627.4 637.1 646.7 656.4 666 675.6 685.3 694.9 704.6 714.2 723.8 733.5 743.1 752.8 762.4 772 781.7 791.3 801 810.6 820.2 829.9 839.5 849.2 858.8 868.4 878.1 887.7 897.4 907 916.6 926.3 935.9 945.6 955.2 964.8 974.5" y="827.6">-GGCATACGGATATGCGGAAGTTTACTGTAGTAGTGATATAATTTATTCATAAATTATTCTTT</text>
<text x="376.8 386.4 396.1 405.7 415.4 425 434.6 444.3 453.9 463.6 473.2 482.8 492.5 502.1 511.8 521.4 531 540.7 550.3 560 569.6 579.2 588.9 598.5 608.2 617.8 627.4 637.1 646.7 656.4 666 675.6 685.3 694.9 704.6 714.2 723.8 733.5 743.1 752.8 762.4 772 781.7 791.3 801 810.6 820.2 829.9 839.5 849.2 858.8 868.4 878.1 887.7 897.4 907 916.6 926.3 935.9 945.6 955.2 964.8 974.5" y="841.5">TCTGCTTCGGATATTCGAATTTTTACTGTAATAGTGATATAATTTATTCATAAATTATTTTT-</text>
<text x="376.8 386.4 396.1 405.7 415.4 425 434.6 444.3 453.9 463.6 473.2 482.8 492.5 502.1 511.8 521.4 531 540.7 550.3 560 569.6 579.2 588.9 598.5 608.2 617.8 627.4 637.1 646.7 656.4 666 675.6 685.3 694.9 704.6 714.2 723.8 733.5 743.1 752.8 762.4 772 781.7 791.3 801 810.6 820.2 829.9 839.5 849.2 858.8 868.4 878.1 887.7 897.4 907 916.6 926.3 935.9 945.6 955.2 964.8 974.5" y="855.4">TTTTATTCAGATTAACGAGACTTTACTG---TAGCGATATAATTAATTCATAAATTATCCTT-</text>
<text x="376.8 386.4 396.1 405.7 415.4 425 434.6 444.3 453.9 463.6 473.2 482.8 492.5 502.1 511.8 521.4 531 540.7 550.3 560 569.6 579.2 588.9 598.5 608.2 617.8 627.4 637.1 646.7 656.4 666 675.6 685.3 694.9 704.6 714.2 723.8 733.5 743.1 752.8 762.4 772 781.7 791.3 801 810.6 820.2 829.9 839.5 849.2 858.8 868.4 878.1 887.7 897.4 907 916.6 926.3 935.9 945.6 955.2 964.8 974.5" y="869.4">-AACATCCGGATACGCGGTATTTTACTGTAGTAGTGATATAATTTATTCATAAATTATTCGTT</text>
<text x="376.8 386.4 396.1 405.7 415.4 425 434.6 444.3 453.9 463.6 473.2 482.8 492.5 502.1 511.8 521.4 531 540.7 550.3 560 569.6 579.2 588.9 598.5 608.2 617.8 627.4 637.1 646.7 656.4 666 675.6 685.3 694.9 704.6 714.2 723.8 733.5 743.1 752.8 762.4 772 781.7 791.3 801 810.6 820.2 829.9 839.5 849.2 858.8 868.4 878.1 887.7 897.4 907 916.6 926.3 935.9 945.6 955.2 964.8 974.5" y="883.3">-TACATTCGGATATGCGGTACTTTACTGTAGTAGTGATATAATTTATTCATAAGTTACTGATT</text>
</g>
</g>
<g id="t2h">
<path d="M395.4 936.8h9.6v14h-9.6zM443.4 936.8h28.8v14h-28.8zM539.4 936.8h9.6v14h-9.6zM635.4 936.8h9.6v14h-9.6zM702.6 936.8h19.2v14h-19.2zM750.6 936.8h9.6v14h-9.6zM779.4 936.8h9.6v14h-9.6zM798.6 936.8h19.2v14h-19.2zM837 936.8h9.6v14h-9.6zM856.2 936.8h9.6v14h-9.6zM395.4 950.6h9.6v14h-9.6zM443.4 950.6h28.8v14h-28.8zM539.4 950.6h9.6v14h-9.6zM635.4 950.6h9.6v14h-9.6zM712.2 950.6h9.6v14h-9.6zM750.6 950.6h9.6v14h-9.6zM779.4 950.6h38.4v14h-38.4zM837 950.6h28.8v14h-28.8zM395.4 964.5h9.6v14h-9.6zM443.4 964.5h9.6v14h-9.6zM472.2 964.5h9.6v14h-9.6zM539.4 964.5h9.6v14h-9.6zM625.8 964.5h19.2v14h-19.2zM702.6 964.5h9.6v14h-9.6zM846.6 964.5h19.2v14h-19.2zM395.4 978.3h9.6v14h-9.6zM443.4 978.3h28.8v14h-28.8zM539.4 978.3h9.6v14h-9.6zM712.2 978.3h9.6v14h-9.6zM750.6 978.3h9.6v14h-9.6zM779.4 978.3h38.4v14h-38.4zM837 978.3h28.8v14h-28.8zM395.4 992.1h9.6v14h-9.6zM443.4 992.1h28.8v14h-28.8zM539.4 992.1h9.6v14h-9.6zM635.4 992.1h9.6v14h-9.6zM712.2 992.1h9.6v14h-9.6zM750.6 992.1h9.6v14h-9.6zM779.4 992.1h38.4v14h-38.4zM837 992.1h28.8v14h-28.8zM443.4 1005.9h9.6v14h-9.6zM472.2 1005.9h9.6v14h-9.6zM539.4 1005.9h9.6v14h-9.6zM625.8 1005.9h19.2v14h-19.2zM702.6 1005.9h9.6v14h-9.6zM750.6 1005.9h9.6v14h-9.6zM443.4 1019.8h9.6v14h-9.6zM472.2 1019.8h9.6v14h-9.6zM539.4 1019.8h9.6v14h-9.6zM625.8 1019.8h19.2v14h-19.2zM750.6 1019.8h9.6v14h-9.6zM779.4 1019.8h19.2v14h-19.2z" fill="#ccf"/>
<path d="M376.2 936.8h19.2v14h-19.2zM405 936.8h9.6v14h-9.6zM491.4 936.8h9.6v14h-9.6zM510.6 936.8h9.6v14h-9.6zM606.6 936.8h9.6v14h-9.6zM645 936.8h57.6v14h-57.6zM721.8 936.8h28.8v14h-28.8zM760.2 936.8h9.6v14h-9.6zM817.8 936.8h9.6v14h-9.6zM376.2 950.6h19.2v14h-19.2zM405 950.6h9.6v14h-9.6zM491.4 950.6h9.6v14h-9.6zM510.6 950.6h9.6v14h-9.6zM606.6 950.6h9.6v14h-9.6zM654.6 950.6h48v14h-48zM721.8 950.6h28.8v14h-28.8zM760.2 950.6h9.6v14h-9.6zM817.8 950.6h9.6v14h-9.6zM376.2 964.5h9.6v14h-9.6zM405 964.5h9.6v14h-9.6zM510.6 964.5h9.6v14h-9.6zM645 964.5h38.4v14h-38.4zM693 964.5h9.6v14h-9.6zM721.8 964.5h9.6v14h-9.6zM760.2 964.5h9.6v14h-9.6zM817.8 964.5h9.6v14h-9.6zM376.2 978.3h19.2v14h-19.2zM405 978.3h9.6v14h-9.6zM491.4 978.3h9.6v14h-9.6zM510.6 978.3h9.6v14h-9.6zM645 978.3h48v14h-48zM721.8 978.3h28.8v14h-28.8zM760.2 978.3h9.6v14h-9.6zM817.8 978.3h9.6v14h-9.6zM376.2 992.1h19.2v14h-19.2zM405 992.1h9.6v14h-9.6zM510.6 992.1h9.6v14h-9.6zM606.6 992.1h9.6v14h-9.6zM645 992.1h57.6v14h-57.6zM721.8 992.1h28.8v14h-28.8zM760.2 992.1h9.6v14h-9.6zM817.8 992.1h9.6v14h-9.6zM376.2 1005.9h19.2v14h-19.2zM606.6 1005.9h9.6v14h-9.6zM645 1005.9h9.6v14h-9.6zM683.4 1005.9h9.6v14h-9.6zM721.8 1005.9h28.8v14h-28.8zM491.4 1019.8h9.6v14h-9.6zM654.6 1019.8h9.6v14h-9.6zM741 1019.8h9.6v14h-9.6zM817.8 1019.8h9.6v14h-9.6z" fill="#99f"/>
<path d="M414.6 936.8h28.8v14h-28.8zM481.8 936.8h9.6v14h-9.6zM501 936.8h9.6v14h-9.6zM520.2 936.8h19.2v14h-19.2zM549 936.8h38.4v14h-38.4zM616.2 936.8h9.6v14h-9.6zM414.6 950.6h28.8v14h-28.8zM481.8 950.6h9.6v14h-9.6zM501 950.6h9.6v14h-9.6zM520.2 950.6h19.2v14h-19.2zM549 950.6h38.4v14h-38.4zM616.2 950.6h9.6v14h-9.6zM414.6 964.5h28.8v14h-28.8zM481.8 964.5h9.6v14h-9.6zM501 964.5h9.6v14h-9.6zM520.2 964.5h19.2v14h-19.2zM549 964.5h38.4v14h-38.4zM616.2 964.5h9.6v14h-9.6zM414.6 978.3h28.8v14h-28.8zM481.8 978.3h9.6v14h-9.6zM501 978.3h9.6v14h-9.6zM520.2 978.3h9.6v14h-9.6zM549 978.3h38.4v14h-38.4zM616.2 978.3h9.6v14h-9.6zM414.6 992.1h28.8v14h-28.8zM481.8 992.1h9.6v14h-9.6zM501 992.1h9.6v14h-9.6zM520.2 992.1h19.2v14h-19.2zM549 992.1h38.4v14h-38.4zM616.2 992.1h9.6v14h-9.6zM414.6 1005.9h28.8v14h-28.8zM481.8 1005.9h9.6v14h-9.6zM501 1005.9h9.6v14h-9.6zM520.2 1005.9h19.2v14h-19.2zM549 1005.9h38.4v14h-38.4zM616.2 1005.9h9.6v14h-9.6zM414.6 1019.8h28.8v14h-28.8zM481.8 1019.8h9.6v14h-9.6zM501 1019.8h9.6v14h-9.6zM520.2 1019.8h19.2v14h-19.2zM549 1019.8h9.6v14h-9.6zM568.2 1019.8h19.2v14h-19.2z" fill="#6464ff"/>
<text x="236.2" y="912.6" font-size="19" textLength="294.3" lengthAdjust="spacingAndGlyphs">Replication Unit Motif Type 2 Head</text>
<path d="M419.4 929.2v3.6M467.4 929.2v3.6M515.4 929.2v3.6M563.4 929.2v3.6M611.4 929.2v3.6M659.4 929.2v3.6M707.4 929.2v3.6M755.4 929.2v3.6M803.4 929.2v3.6M851.4 929.2v3.6" stroke="#222" stroke-width="1" fill="none"/>
<g font-family="DejaVu Sans,Liberation Sans,sans-serif" font-size="8.6" text-anchor="middle" fill="#111">
<text x="468.8" y="926.9">10</text>
<text x="564.8" y="926.9">20</text>
<text x="660.8" y="926.9">30</text>
<text x="756.8" y="926.9">40</text>
<text x="852.8" y="926.9">50</text>
</g>
<g font-family="DejaVu Sans,Liberation Sans,sans-serif" font-size="9.41" fill="#111">
<text x="236.4" y="948.5">CC_RUM_T2_H_PL1_PART-2</text>
<text x="236.4" y="962.4">CC_RUM_T2_H_PL2_PART-1</text>
<text x="236.4" y="976.3">CC_RUM_T2_H_PL2_PART-2</text>
<text x="236.4" y="990.2">CC_RUM_T2_H_PL2_PART-3</text>
<text x="236.4" y="1004.1">CC_RUM_T2_H_PL9_PART-1</text>
<text x="236.4" y="1018">MD_RUM_T2_H_PL1_SEG-O</text>
<text x="236.4" y="1031.9">MD_RUM_T2_H_PL1_SEG-P</text>
</g>
<g font-family="DejaVu Sans,Liberation Sans,sans-serif" font-size="9.6" text-anchor="middle" fill="#000" stroke="#000" stroke-width=".28">
<text x="381 390.6 400.2 409.8 419.4 429 438.6 448.2 457.8 467.4 477 486.6 496.2 505.8 515.4 525 534.6 544.2 553.8 563.4 573 582.6 592.2 601.8 611.4 621 630.6 640.2 649.8 659.4 669 678.6 688.2 697.8 707.4 717 726.6 736.2 745.8 755.4 765 774.6 784.2 793.8 803.4 813 822.6 832.2 841.8 851.4 861 870.6 880.2" y="948.6">TTTGGGATGATTGGTAACCCTA--GTAATATATTATAATTTGAATCATATT--</text>
<text x="381 390.6 400.2 409.8 419.4 429 438.6 448.2 457.8 467.4 477 486.6 496.2 505.8 515.4 525 534.6 544.2 553.8 563.4 573 582.6 592.2 601.8 611.4 621 630.6 640.2 649.8 659.4 669 678.6 688.2 697.8 707.4 717 726.6 736.2 745.8 755.4 765 774.6 784.2 793.8 803.4 813 822.6 832.2 841.8 851.4 861 870.6 880.2" y="962.5">TTTGGGATGATTGGTAACCCTA--GTAAGATATTGTAATTTAAGTCATAAT--</text>
<text x="381 390.6 400.2 409.8 419.4 429 438.6 448.2 457.8 467.4 477 486.6 496.2 505.8 515.4 525 534.6 544.2 553.8 563.4 573 582.6 592.2 601.8 611.4 621 630.6 640.2 649.8 659.4 669 678.6 688.2 697.8 707.4 717 726.6 736.2 745.8 755.4 765 774.6 784.2 793.8 803.4 813 822.6 832.2 841.8 851.4 861 870.6 880.2" y="976.4">TCTGGGACTCATAGTAAGCCTA--CTTATATAATAAATAATCTTAAAACATAA</text>
<text x="381 390.6 400.2 409.8 419.4 429 438.6 448.2 457.8 467.4 477 486.6 496.2 505.8 515.4 525 534.6 544.2 553.8 563.4 573 582.6 592.2 601.8 611.4 621 630.6 640.2 649.8 659.4 669 678.6 688.2 697.8 707.4 717 726.6 736.2 745.8 755.4 765 774.6 784.2 793.8 803.4 813 822.6 832.2 841.8 851.4 861 870.6 880.2" y="990.3">TTTGGGATGATTGGTACCCCTA--TTAGTATATCGTAATTTAAGTCATAAT--</text>
<text x="381 390.6 400.2 409.8 419.4 429 438.6 448.2 457.8 467.4 477 486.6 496.2 505.8 515.4 525 534.6 544.2 553.8 563.4 573 582.6 592.2 601.8 611.4 621 630.6 640.2 649.8 659.4 669 678.6 688.2 697.8 707.4 717 726.6 736.2 745.8 755.4 765 774.6 784.2 793.8 803.4 813 822.6 832.2 841.8 851.4 861 870.6 880.2" y="1004.2">TTTGGGACGATTAGTAACCCTATAGTAATATATTGTAATTTGAGTCACAAT--</text>
<text x="381 390.6 400.2 409.8 419.4 429 438.6 448.2 457.8 467.4 477 486.6 496.2 505.8 515.4 525 534.6 544.2 553.8 563.4 573 582.6 592.2 601.8 611.4 621 630.6 640.2 649.8 659.4 669 678.6 688.2 697.8 707.4 717 726.6 736.2 745.8 755.4 765 774.6 784.2 793.8 803.4 813 822.6 832.2 841.8 851.4 861 870.6 880.2" y="1018.1">TTATGGATTGATAGCAAGCCTA--GTTTTTATTAACAATTAGGTGAG------</text>
<text x="381 390.6 400.2 409.8 419.4 429 438.6 448.2 457.8 467.4 477 486.6 496.2 505.8 515.4 525 534.6 544.2 553.8 563.4 573 582.6 592.2 601.8 611.4 621 630.6 640.2 649.8 659.4 669 678.6 688.2 697.8 707.4 717 726.6 736.2 745.8 755.4 765 774.6 784.2 793.8 803.4 813 822.6 832.2 841.8 851.4 861 870.6 880.2" y="1032">AACTGGACTGATGGCAAGCTTA--CATTAAATAATATGTTCAAGCAA------</text>
</g>
</g>
<g id="t1t">
<path d="M1510.5 785.4h9.6v14.1h-9.6zM1606.9 785.4h9.6v14.1h-9.6zM1635.8 785.4h9.6v14.1h-9.6zM1770.8 785.4h9.6v14.1h-9.6zM1790.1 785.4h9.6v14.1h-9.6zM1809.4 785.4h9.6v14.1h-9.6zM1491.2 799.3h9.6v14.1h-9.6zM1597.3 799.3h9.6v14.1h-9.6zM1635.8 799.3h9.6v14.1h-9.6zM1664.8 799.3h9.6v14.1h-9.6zM1741.9 799.3h9.6v14.1h-9.6zM1163.5 813.2h28.9v14.1h-28.9zM1462.3 813.2h9.6v14.1h-9.6zM1510.5 813.2h9.6v14.1h-9.6zM1597.3 813.2h48.2v14.1h-48.2zM1674.4 813.2h9.6v14.1h-9.6zM1741.9 813.2h9.6v14.1h-9.6zM1770.8 813.2h9.6v14.1h-9.6zM1790.1 813.2h19.3v14.1h-19.3zM1163.5 827.1h28.9v14.1h-28.9zM1202 827.1h9.6v14.1h-9.6zM1491.2 827.1h9.6v14.1h-9.6zM1510.5 827.1h9.6v14.1h-9.6zM1597.3 827.1h19.3v14.1h-19.3zM1635.8 827.1h9.6v14.1h-9.6zM1664.8 827.1h19.3v14.1h-19.3zM1741.9 827.1h9.6v14.1h-9.6zM1790.1 827.1h9.6v14.1h-9.6zM1809.4 827.1h9.6v14.1h-9.6zM1182.8 841h9.6v14.1h-9.6zM1202 841h9.6v14.1h-9.6zM1462.3 841h9.6v14.1h-9.6zM1510.5 841h9.6v14.1h-9.6zM1635.8 841h9.6v14.1h-9.6zM1770.8 841h9.6v14.1h-9.6zM1799.7 841h19.3v14.1h-19.3zM1163.5 854.9h28.9v14.1h-28.9zM1202 854.9h9.6v14.1h-9.6zM1462.3 854.9h9.6v14.1h-9.6zM1491.2 854.9h9.6v14.1h-9.6zM1510.5 854.9h9.6v14.1h-9.6zM1597.3 854.9h48.2v14.1h-48.2zM1770.8 854.9h9.6v14.1h-9.6zM1790.1 854.9h19.3v14.1h-19.3zM1163.5 868.8h28.9v14.1h-28.9zM1202 868.8h9.6v14.1h-9.6zM1462.3 868.8h9.6v14.1h-9.6zM1491.2 868.8h9.6v14.1h-9.6zM1606.9 868.8h38.6v14.1h-38.6zM1790.1 868.8h28.9v14.1h-28.9z" fill="#ccf"/>
<path d="M1423.8 785.4h9.6v14.1h-9.6zM1452.7 785.4h9.6v14.1h-9.6zM1481.6 785.4h9.6v14.1h-9.6zM1587.6 785.4h9.6v14.1h-9.6zM1761.2 785.4h9.6v14.1h-9.6zM1414.1 799.3h9.6v14.1h-9.6zM1500.9 799.3h9.6v14.1h-9.6zM1587.6 799.3h9.6v14.1h-9.6zM1761.2 799.3h9.6v14.1h-9.6zM1221.3 813.2h28.9v14.1h-28.9zM1414.1 813.2h19.3v14.1h-19.3zM1443 813.2h19.3v14.1h-19.3zM1472 813.2h19.3v14.1h-19.3zM1500.9 813.2h9.6v14.1h-9.6zM1587.6 813.2h9.6v14.1h-9.6zM1684 813.2h9.6v14.1h-9.6zM1761.2 813.2h9.6v14.1h-9.6zM1819 813.2h9.6v14.1h-9.6zM1221.3 827.1h28.9v14.1h-28.9zM1414.1 827.1h19.3v14.1h-19.3zM1443 827.1h19.3v14.1h-19.3zM1472 827.1h19.3v14.1h-19.3zM1500.9 827.1h9.6v14.1h-9.6zM1655.1 827.1h9.6v14.1h-9.6zM1684 827.1h9.6v14.1h-9.6zM1761.2 827.1h9.6v14.1h-9.6zM1819 827.1h9.6v14.1h-9.6zM1231 841h19.3v14.1h-19.3zM1414.1 841h19.3v14.1h-19.3zM1443 841h19.3v14.1h-19.3zM1472 841h19.3v14.1h-19.3zM1500.9 841h9.6v14.1h-9.6zM1587.6 841h9.6v14.1h-9.6zM1655.1 841h9.6v14.1h-9.6zM1761.2 841h9.6v14.1h-9.6zM1221.3 854.9h28.9v14.1h-28.9zM1414.1 854.9h19.3v14.1h-19.3zM1443 854.9h19.3v14.1h-19.3zM1472 854.9h19.3v14.1h-19.3zM1500.9 854.9h9.6v14.1h-9.6zM1587.6 854.9h9.6v14.1h-9.6zM1655.1 854.9h9.6v14.1h-9.6zM1684 854.9h9.6v14.1h-9.6zM1761.2 854.9h9.6v14.1h-9.6zM1819 854.9h9.6v14.1h-9.6zM1221.3 868.8h28.9v14.1h-28.9zM1414.1 868.8h19.3v14.1h-19.3zM1443 868.8h19.3v14.1h-19.3zM1472 868.8h19.3v14.1h-19.3zM1500.9 868.8h9.6v14.1h-9.6zM1655.1 868.8h9.6v14.1h-9.6zM1684 868.8h9.6v14.1h-9.6zM1761.2 868.8h9.6v14.1h-9.6zM1819 868.8h9.6v14.1h-9.6z" fill="#99f"/>
<path d="M1211.7 785.4h9.6v14.1h-9.6zM1259.9 785.4h19.3v14.1h-19.3zM1298.4 785.4h86.8v14.1h-86.8zM1433.4 785.4h9.6v14.1h-9.6zM1520.2 785.4h19.3v14.1h-19.3zM1549.1 785.4h9.6v14.1h-9.6zM1578 785.4h9.6v14.1h-9.6zM1703.3 785.4h9.6v14.1h-9.6zM1211.7 799.3h9.6v14.1h-9.6zM1250.2 799.3h163.9v14.1h-163.9zM1433.4 799.3h9.6v14.1h-9.6zM1520.2 799.3h67.5v14.1h-67.5zM1645.5 799.3h9.6v14.1h-9.6zM1693.7 799.3h48.2v14.1h-48.2zM1751.5 799.3h9.6v14.1h-9.6zM1211.7 813.2h9.6v14.1h-9.6zM1250.2 813.2h163.9v14.1h-163.9zM1433.4 813.2h9.6v14.1h-9.6zM1520.2 813.2h67.5v14.1h-67.5zM1645.5 813.2h9.6v14.1h-9.6zM1693.7 813.2h48.2v14.1h-48.2zM1751.5 813.2h9.6v14.1h-9.6zM1211.7 827.1h9.6v14.1h-9.6zM1250.2 827.1h163.9v14.1h-163.9zM1433.4 827.1h9.6v14.1h-9.6zM1520.2 827.1h67.5v14.1h-67.5zM1645.5 827.1h9.6v14.1h-9.6zM1693.7 827.1h48.2v14.1h-48.2zM1751.5 827.1h9.6v14.1h-9.6zM1211.7 841h9.6v14.1h-9.6zM1250.2 841h163.9v14.1h-163.9zM1433.4 841h9.6v14.1h-9.6zM1520.2 841h67.5v14.1h-67.5zM1645.5 841h9.6v14.1h-9.6zM1693.7 841h48.2v14.1h-48.2zM1751.5 841h9.6v14.1h-9.6zM1211.7 854.9h9.6v14.1h-9.6zM1250.2 854.9h163.9v14.1h-163.9zM1433.4 854.9h9.6v14.1h-9.6zM1520.2 854.9h67.5v14.1h-67.5zM1645.5 854.9h9.6v14.1h-9.6zM1693.7 854.9h48.2v14.1h-48.2zM1751.5 854.9h9.6v14.1h-9.6zM1211.7 868.8h9.6v14.1h-9.6zM1250.2 868.8h163.9v14.1h-163.9zM1433.4 868.8h9.6v14.1h-9.6zM1520.2 868.8h67.5v14.1h-67.5zM1645.5 868.8h9.6v14.1h-9.6zM1693.7 868.8h48.2v14.1h-48.2zM1751.5 868.8h9.6v14.1h-9.6z" fill="#6464ff"/>
<text x="1028.3" y="766.6" font-size="19" textLength="279" lengthAdjust="spacingAndGlyphs">Replication Unit Motif Type 1 Tail</text>
<path d="M1206.9 780.8v3.6M1255.1 780.8v3.6M1303.3 780.8v3.6M1351.5 780.8v3.6M1399.7 780.8v3.6M1447.9 780.8v3.6M1496.1 780.8v3.6M1544.3 780.8v3.6M1592.5 780.8v3.6M1640.7 780.8v3.6M1688.9 780.8v3.6M1737.1 780.8v3.6M1785.3 780.8v3.6" stroke="#222" stroke-width="1" fill="none"/>
<g font-family="DejaVu Sans,Liberation Sans,sans-serif" font-size="8.6" text-anchor="middle" fill="#111">
<text x="1256.5" y="778.5">10</text>
<text x="1352.9" y="778.5">20</text>
<text x="1449.3" y="778.5">30</text>
<text x="1545.7" y="778.5">40</text>
<text x="1642.1" y="778.5">50</text>
<text x="1738.5" y="778.5">60</text>
</g>
<g font-family="DejaVu Sans,Liberation Sans,sans-serif" font-size="9.17" fill="#111">
<text x="1031" y="797.7">CC_RUM_T1_T_LP3_SEG-17</text>
<text x="1031" y="811.5">CC_RUM_T1_T_LP4_SEG-7</text>
<text x="1031" y="825.3">CC_RUM_T1_T_LP5_SEG-1</text>
<text x="1031" y="839.2">CC_RUM_T1_T_LP8_SEG-26</text>
<text x="1031" y="853">CC_RUM_T1_T_PL7_SEG-4</text>
<text x="1031" y="866.8">MD_RUM_T1_T_LP3_SEG-J</text>
<text x="1031" y="880.6">MD_RUM_T1_T_LP3_SEG-N</text>
</g>
<g font-family="DejaVu Sans,Liberation Sans,sans-serif" font-size="9.6" text-anchor="middle" fill="#000" stroke="#000" stroke-width=".28">
<text x="1168.3 1177.9 1187.6 1197.2 1206.9 1216.5 1226.1 1235.8 1245.4 1255.1 1264.7 1274.3 1284 1293.6 1303.3 1312.9 1322.5 1332.2 1341.8 1351.5 1361.1 1370.7 1380.4 1390 1399.7 1409.3 1418.9 1428.6 1438.2 1447.9 1457.5 1467.1 1476.8 1486.4 1496.1 1505.7 1515.3 1525 1534.6 1544.3 1553.9 1563.5 1573.2 1582.8 1592.5 1602.1 1611.7 1621.4 1631 1640.7 1650.3 1659.9 1669.6 1679.2 1688.9 1698.5 1708.1 1717.8 1727.4 1737.1 1746.7 1756.3 1766 1775.6 1785.3 1794.9 1804.5 1814.2 1823.8" y="797.8">TAACAATATTTGTCATAATTTATGACAAAGTATTGATTATATCAATATATTTATACTTTTTTTTCACTC</text>
<text x="1168.3 1177.9 1187.6 1197.2 1206.9 1216.5 1226.1 1235.8 1245.4 1255.1 1264.7 1274.3 1284 1293.6 1303.3 1312.9 1322.5 1332.2 1341.8 1351.5 1361.1 1370.7 1380.4 1390 1399.7 1409.3 1418.9 1428.6 1438.2 1447.9 1457.5 1467.1 1476.8 1486.4 1496.1 1505.7 1515.3 1525 1534.6 1544.3 1553.9 1563.5 1573.2 1582.8 1592.5 1602.1 1611.7 1621.4 1631 1640.7 1650.3 1659.9 1669.6 1679.2 1688.9 1698.5 1708.1 1717.8 1727.4 1737.1 1746.7 1756.3 1766 1775.6 1785.3 1794.9 1804.5 1814.2 1823.8" y="811.6">TTAAAAAACGTGATATAATTTATTCATGA-----CCGTACAGTAAATTCTCACGAATCCGAATCATCGG</text>
<text x="1168.3 1177.9 1187.6 1197.2 1206.9 1216.5 1226.1 1235.8 1245.4 1255.1 1264.7 1274.3 1284 1293.6 1303.3 1312.9 1322.5 1332.2 1341.8 1351.5 1361.1 1370.7 1380.4 1390 1399.7 1409.3 1418.9 1428.6 1438.2 1447.9 1457.5 1467.1 1476.8 1486.4 1496.1 1505.7 1515.3 1525 1534.6 1544.3 1553.9 1563.5 1573.2 1582.8 1592.5 1602.1 1611.7 1621.4 1631 1640.7 1650.3 1659.9 1669.6 1679.2 1688.9 1698.5 1708.1 1717.8 1727.4 1737.1 1746.7 1756.3 1766 1775.6 1785.3 1794.9 1804.5 1814.2 1823.8" y="825.4">ACTAAAGTAGTGATATAATTTATTCATAAATTATTCTTACAGTAAAACTTCTTATATCCGAATTTAACT</text>
<text x="1168.3 1177.9 1187.6 1197.2 1206.9 1216.5 1226.1 1235.8 1245.4 1255.1 1264.7 1274.3 1284 1293.6 1303.3 1312.9 1322.5 1332.2 1341.8 1351.5 1361.1 1370.7 1380.4 1390 1399.7 1409.3 1418.9 1428.6 1438.2 1447.9 1457.5 1467.1 1476.8 1486.4 1496.1 1505.7 1515.3 1525 1534.6 1544.3 1553.9 1563.5 1573.2 1582.8 1592.5 1602.1 1611.7 1621.4 1631 1640.7 1650.3 1659.9 1669.6 1679.2 1688.9 1698.5 1708.1 1717.8 1727.4 1737.1 1746.7 1756.3 1766 1775.6 1785.3 1794.9 1804.5 1814.2 1823.8" y="839.3">ACTATAGTAGTGATATAATTTATTCATAAATAATCCTTACAGTAGAAGCTCGCATATCCGAATCAA-TT</text>
<text x="1168.3 1177.9 1187.6 1197.2 1206.9 1216.5 1226.1 1235.8 1245.4 1255.1 1264.7 1274.3 1284 1293.6 1303.3 1312.9 1322.5 1332.2 1341.8 1351.5 1361.1 1370.7 1380.4 1390 1399.7 1409.3 1418.9 1428.6 1438.2 1447.9 1457.5 1467.1 1476.8 1486.4 1496.1 1505.7 1515.3 1525 1534.6 1544.3 1553.9 1563.5 1573.2 1582.8 1592.5 1602.1 1611.7 1621.4 1631 1640.7 1650.3 1659.9 1669.6 1679.2 1688.9 1698.5 1708.1 1717.8 1727.4 1737.1 1746.7 1756.3 1766 1775.6 1785.3 1794.9 1804.5 1814.2 1823.8" y="853.1">TATTTAATAGTGATATAATTTATTCATAAATTATTCTTACAGTAAGGAACCGTTCATCCGTATTTTATA</text>
<text x="1168.3 1177.9 1187.6 1197.2 1206.9 1216.5 1226.1 1235.8 1245.4 1255.1 1264.7 1274.3 1284 1293.6 1303.3 1312.9 1322.5 1332.2 1341.8 1351.5 1361.1 1370.7 1380.4 1390 1399.7 1409.3 1418.9 1428.6 1438.2 1447.9 1457.5 1467.1 1476.8 1486.4 1496.1 1505.7 1515.3 1525 1534.6 1544.3 1553.9 1563.5 1573.2 1582.8 1592.5 1602.1 1611.7 1621.4 1631 1640.7 1650.3 1659.9 1669.6 1679.2 1688.9 1698.5 1708.1 1717.8 1727.4 1737.1 1746.7 1756.3 1766 1775.6 1785.3 1794.9 1804.5 1814.2 1823.8" y="866.9">ACTGTAGTAGTGATATAATTTATTCATAAATTATCCTTACAGTAAAACTCCGATTATCCGGATTCAACT</text>
<text x="1168.3 1177.9 1187.6 1197.2 1206.9 1216.5 1226.1 1235.8 1245.4 1255.1 1264.7 1274.3 1284 1293.6 1303.3 1312.9 1322.5 1332.2 1341.8 1351.5 1361.1 1370.7 1380.4 1390 1399.7 1409.3 1418.9 1428.6 1438.2 1447.9 1457.5 1467.1 1476.8 1486.4 1496.1 1505.7 1515.3 1525 1534.6 1544.3 1553.9 1563.5 1573.2 1582.8 1592.5 1602.1 1611.7 1621.4 1631 1640.7 1650.3 1659.9 1669.6 1679.2 1688.9 1698.5 1708.1 1717.8 1727.4 1737.1 1746.7 1756.3 1766 1775.6 1785.3 1794.9 1804.5 1814.2 1823.8" y="880.7">ACTGTAGTAGTGATATAATTTATTCATAAATTATCCGTACAGTAGCACTCCGATTATCCGGATCAAATT</text>
</g>
</g>
<g id="t2t">
<path d="M1174.3 935.6h28.8v14h-28.8zM1212.7 935.6h19.2v14h-19.2zM1251.1 935.6h19.2v14h-19.2zM1289.5 935.6h9.6v14h-9.6zM1327.9 935.6h9.6v14h-9.6zM1347.1 935.6h9.6v14h-9.6zM1385.5 935.6h9.6v14h-9.6zM1510.3 935.6h9.6v14h-9.6zM1529.5 935.6h9.6v14h-9.6zM1596.7 935.6h9.6v14h-9.6zM1183.9 949.5h19.2v14h-19.2zM1212.7 949.5h9.6v14h-9.6zM1251.1 949.5h9.6v14h-9.6zM1270.3 949.5h9.6v14h-9.6zM1289.5 949.5h9.6v14h-9.6zM1510.3 949.5h9.6v14h-9.6zM1577.5 949.5h9.6v14h-9.6zM1203.1 963.3h9.6v14h-9.6zM1251.1 963.3h28.8v14h-28.8zM1366.3 963.3h9.6v14h-9.6zM1423.9 963.3h9.6v14h-9.6zM1174.3 977.2h57.6v14h-57.6zM1251.1 977.2h9.6v14h-9.6zM1270.3 977.2h9.6v14h-9.6zM1289.5 977.2h9.6v14h-9.6zM1327.9 977.2h9.6v14h-9.6zM1577.5 977.2h9.6v14h-9.6zM1596.7 977.2h9.6v14h-9.6zM1231.9 991.1h9.6v14h-9.6zM1251.1 991.1h19.2v14h-19.2zM1327.9 991.1h9.6v14h-9.6zM1366.3 991.1h9.6v14h-9.6zM1385.5 991.1h9.6v14h-9.6zM1423.9 991.1h9.6v14h-9.6zM1510.3 991.1h9.6v14h-9.6zM1529.5 991.1h9.6v14h-9.6zM1596.7 991.1h9.6v14h-9.6zM1183.9 1005h9.6v14h-9.6zM1231.9 1005h9.6v14h-9.6zM1260.7 1005h9.6v14h-9.6zM1289.5 1005h9.6v14h-9.6zM1327.9 1005h9.6v14h-9.6zM1366.3 1005h9.6v14h-9.6zM1385.5 1005h9.6v14h-9.6zM1423.9 1005h9.6v14h-9.6zM1529.5 1005h9.6v14h-9.6zM1577.5 1005h9.6v14h-9.6zM1174.3 1018.8h9.6v14h-9.6zM1193.5 1018.8h48v14h-48zM1251.1 1018.8h9.6v14h-9.6zM1270.3 1018.8h9.6v14h-9.6zM1347.1 1018.8h9.6v14h-9.6zM1366.3 1018.8h9.6v14h-9.6zM1423.9 1018.8h9.6v14h-9.6zM1510.3 1018.8h9.6v14h-9.6zM1577.5 1018.8h9.6v14h-9.6zM1596.7 1018.8h9.6v14h-9.6z" fill="#ccf"/>
<path d="M1241.5 935.6h9.6v14h-9.6zM1299.1 935.6h9.6v14h-9.6zM1337.5 935.6h9.6v14h-9.6zM1375.9 935.6h9.6v14h-9.6zM1471.9 935.6h9.6v14h-9.6zM1519.9 935.6h9.6v14h-9.6zM1548.7 935.6h9.6v14h-9.6zM1241.5 949.5h9.6v14h-9.6zM1279.9 949.5h9.6v14h-9.6zM1337.5 949.5h9.6v14h-9.6zM1375.9 949.5h9.6v14h-9.6zM1462.3 949.5h19.2v14h-19.2zM1519.9 949.5h9.6v14h-9.6zM1539.1 949.5h9.6v14h-9.6zM1279.9 963.3h9.6v14h-9.6zM1299.1 963.3h9.6v14h-9.6zM1519.9 963.3h9.6v14h-9.6zM1539.1 963.3h19.2v14h-19.2zM1279.9 977.2h9.6v14h-9.6zM1299.1 977.2h9.6v14h-9.6zM1337.5 977.2h9.6v14h-9.6zM1375.9 977.2h9.6v14h-9.6zM1241.5 991.1h9.6v14h-9.6zM1279.9 991.1h9.6v14h-9.6zM1299.1 991.1h9.6v14h-9.6zM1462.3 991.1h19.2v14h-19.2zM1519.9 991.1h9.6v14h-9.6zM1539.1 991.1h19.2v14h-19.2zM1241.5 1005h9.6v14h-9.6zM1279.9 1005h9.6v14h-9.6zM1337.5 1005h9.6v14h-9.6zM1375.9 1005h9.6v14h-9.6zM1462.3 1005h19.2v14h-19.2zM1519.9 1005h9.6v14h-9.6zM1539.1 1005h19.2v14h-19.2zM1241.5 1018.8h9.6v14h-9.6zM1299.1 1018.8h9.6v14h-9.6zM1337.5 1018.8h9.6v14h-9.6zM1375.9 1018.8h9.6v14h-9.6zM1462.3 1018.8h19.2v14h-19.2zM1519.9 1018.8h9.6v14h-9.6zM1539.1 1018.8h9.6v14h-9.6z" fill="#99f"/>
<path d="M1308.7 935.6h9.6v14h-9.6zM1356.7 935.6h9.6v14h-9.6zM1395.1 935.6h28.8v14h-28.8zM1433.5 935.6h28.8v14h-28.8zM1481.5 935.6h28.8v14h-28.8zM1587.1 935.6h9.6v14h-9.6zM1308.7 949.5h9.6v14h-9.6zM1356.7 949.5h9.6v14h-9.6zM1395.1 949.5h28.8v14h-28.8zM1433.5 949.5h28.8v14h-28.8zM1481.5 949.5h28.8v14h-28.8zM1587.1 949.5h9.6v14h-9.6zM1356.7 963.3h9.6v14h-9.6zM1395.1 963.3h28.8v14h-28.8zM1433.5 963.3h19.2v14h-19.2zM1500.7 963.3h9.6v14h-9.6zM1587.1 963.3h9.6v14h-9.6zM1308.7 977.2h9.6v14h-9.6zM1356.7 977.2h9.6v14h-9.6zM1395.1 977.2h28.8v14h-28.8zM1443.1 977.2h19.2v14h-19.2zM1491.1 977.2h19.2v14h-19.2zM1587.1 977.2h9.6v14h-9.6zM1308.7 991.1h9.6v14h-9.6zM1356.7 991.1h9.6v14h-9.6zM1395.1 991.1h19.2v14h-19.2zM1433.5 991.1h28.8v14h-28.8zM1481.5 991.1h28.8v14h-28.8zM1587.1 991.1h9.6v14h-9.6zM1356.7 1005h9.6v14h-9.6zM1395.1 1005h28.8v14h-28.8zM1433.5 1005h28.8v14h-28.8zM1481.5 1005h28.8v14h-28.8zM1308.7 1018.8h9.6v14h-9.6zM1356.7 1018.8h9.6v14h-9.6zM1395.1 1018.8h28.8v14h-28.8zM1433.5 1018.8h28.8v14h-28.8zM1481.5 1018.8h28.8v14h-28.8zM1587.1 1018.8h9.6v14h-9.6z" fill="#6464ff"/>
<text x="1028.5" y="911.4" font-size="19" textLength="278.5" lengthAdjust="spacingAndGlyphs">Replication Unit Motif Type 2 Tail</text>
<path d="M1217.5 927.9v3.6M1265.5 927.9v3.6M1313.5 927.9v3.6M1361.5 927.9v3.6M1409.5 927.9v3.6M1457.5 927.9v3.6M1505.5 927.9v3.6M1553.5 927.9v3.6M1601.5 927.9v3.6" stroke="#222" stroke-width="1" fill="none"/>
<g font-family="DejaVu Sans,Liberation Sans,sans-serif" font-size="8.6" text-anchor="middle" fill="#111">
<text x="1266.9" y="925.6">10</text>
<text x="1362.9" y="925.6">20</text>
<text x="1458.9" y="925.6">30</text>
<text x="1554.9" y="925.6">40</text>
</g>
<g font-family="DejaVu Sans,Liberation Sans,sans-serif" font-size="9.47" fill="#111">
<text x="1031" y="947.6">CC_RUM_T2_T_PL2_PART_6</text>
<text x="1031" y="961.5">CC_RUM_T2_T_PL6_PART-1</text>
<text x="1031" y="975.4">CC_RUM_T2_T_PL6_PART-2</text>
<text x="1031" y="989.3">CC_RUM_T2_T_PL6_PART-3</text>
<text x="1031" y="1003.2">CC_RUM_T2_T_PL6_PART-4</text>
<text x="1031" y="1017.1">MD_RUM_T2_T_PL1_SEG-G</text>
<text x="1031" y="1031">MD_RUM_T2_T_PL2_SEG-X</text>
</g>
<g font-family="DejaVu Sans,Liberation Sans,sans-serif" font-size="9.6" text-anchor="middle" fill="#000" stroke="#000" stroke-width=".28">
<text x="1179.1 1188.7 1198.3 1207.9 1217.5 1227.1 1236.7 1246.3 1255.9 1265.5 1275.1 1284.7 1294.3 1303.9 1313.5 1323.1 1332.7 1342.3 1351.9 1361.5 1371.1 1380.7 1390.3 1399.9 1409.5 1419.1 1428.7 1438.3 1447.9 1457.5 1467.1 1476.7 1486.3 1495.9 1505.5 1515.1 1524.7 1534.3 1543.9 1553.5 1563.1 1572.7 1582.3 1591.9 1601.5" y="947.7">TAATTATTATAATTATAATTTAATAGGCTTACCATAAGCCCTTAT</text>
<text x="1179.1 1188.7 1198.3 1207.9 1217.5 1227.1 1236.7 1246.3 1255.9 1265.5 1275.1 1284.7 1294.3 1303.9 1313.5 1323.1 1332.7 1342.3 1351.9 1361.5 1371.1 1380.7 1390.3 1399.9 1409.5 1419.1 1428.7 1438.3 1447.9 1457.5 1467.1 1476.7 1486.3 1495.9 1505.5 1515.1 1524.7 1534.3 1543.9 1553.5 1563.1 1572.7 1582.3 1591.9 1601.5" y="961.6">AAATTTTTAGTTTAAGTAATGACTAGGCTTGCCATAAATTTGAAA</text>
<text x="1179.1 1188.7 1198.3 1207.9 1217.5 1227.1 1236.7 1246.3 1255.9 1265.5 1275.1 1284.7 1294.3 1303.9 1313.5 1323.1 1332.7 1342.3 1351.9 1361.5 1371.1 1380.7 1390.3 1399.9 1409.5 1419.1 1428.7 1438.3 1447.9 1457.5 1467.1 1476.7 1486.3 1495.9 1505.5 1515.1 1524.7 1534.3 1543.9 1553.5 1563.1 1572.7 1582.3 1591.9 1601.5" y="975.5">ATGAATGAATTTATTTTGATACTTAGACTCTGTCTCATTCAATAG</text>
<text x="1179.1 1188.7 1198.3 1207.9 1217.5 1227.1 1236.7 1246.3 1255.9 1265.5 1275.1 1284.7 1294.3 1303.9 1313.5 1323.1 1332.7 1342.3 1351.9 1361.5 1371.1 1380.7 1390.3 1399.9 1409.5 1419.1 1428.7 1438.3 1447.9 1457.5 1467.1 1476.7 1486.3 1495.9 1505.5 1515.1 1524.7 1534.3 1543.9 1553.5 1563.1 1572.7 1582.3 1591.9 1601.5" y="989.4">TAAATATAAATTTTAGAAATGATTAGTATTCATATTTCGACAAAT</text>
<text x="1179.1 1188.7 1198.3 1207.9 1217.5 1227.1 1236.7 1246.3 1255.9 1265.5 1275.1 1284.7 1294.3 1303.9 1313.5 1323.1 1332.7 1342.3 1351.9 1361.5 1371.1 1380.7 1390.3 1399.9 1409.5 1419.1 1428.7 1438.3 1447.9 1457.5 1467.1 1476.7 1486.3 1495.9 1505.5 1515.1 1524.7 1534.3 1543.9 1553.5 1563.1 1572.7 1582.3 1591.9 1601.5" y="1003.3">GGGTATATATATATAGATATATATAAACTTGCCATAAGTCCAGAT</text>
<text x="1179.1 1188.7 1198.3 1207.9 1217.5 1227.1 1236.7 1246.3 1255.9 1265.5 1275.1 1284.7 1294.3 1303.9 1313.5 1323.1 1332.7 1342.3 1351.9 1361.5 1371.1 1380.7 1390.3 1399.9 1409.5 1419.1 1428.7 1438.3 1447.9 1457.5 1467.1 1476.7 1486.3 1495.9 1505.5 1515.1 1524.7 1534.3 1543.9 1553.5 1563.1 1572.7 1582.3 1591.9 1601.5" y="1017.2">AATTGTATCTATTATTAAATAAATAGACTTGCCATGAGTCTTAGA</text>
<text x="1179.1 1188.7 1198.3 1207.9 1217.5 1227.1 1236.7 1246.3 1255.9 1265.5 1275.1 1284.7 1294.3 1303.9 1313.5 1323.1 1332.7 1342.3 1351.9 1361.5 1371.1 1380.7 1390.3 1399.9 1409.5 1419.1 1428.7 1438.3 1447.9 1457.5 1467.1 1476.7 1486.3 1495.9 1505.5 1515.1 1524.7 1534.3 1543.9 1553.5 1563.1 1572.7 1582.3 1591.9 1601.5" y="1031.1">T-AATAATAATAATAAGATTAACTAGACTTGCCATAATTTTGAAT</text>
</g>
</g>
<g id="drj">
<path d="M413.9 1385.6h19.2v14.1h-19.2zM442.8 1385.6h9.6v14.1h-9.6zM462.1 1385.6h19.2v14.1h-19.2zM510.2 1385.6h28.9v14.1h-28.9zM587.2 1385.6h19.2v14.1h-19.2zM635.3 1385.6h28.9v14.1h-28.9zM702.7 1385.6h9.6v14.1h-9.6zM721.9 1385.6h9.6v14.1h-9.6zM741.2 1385.6h9.6v14.1h-9.6zM789.3 1385.6h48.1v14.1h-48.1zM866.3 1385.6h9.6v14.1h-9.6zM895.2 1385.6h19.2v14.1h-19.2zM952.9 1385.6h19.2v14.1h-19.2zM991.4 1385.6h9.6v14.1h-9.6zM1020.3 1385.6h9.6v14.1h-9.6zM1068.4 1385.6h28.9v14.1h-28.9zM1232.1 1385.6h19.2v14.1h-19.2zM1357.2 1385.6h9.6v14.1h-9.6zM442.8 1399.5h9.6v14.1h-9.6zM500.6 1399.5h9.6v14.1h-9.6zM519.8 1399.5h9.6v14.1h-9.6zM596.8 1399.5h19.2v14.1h-19.2zM644.9 1399.5h19.2v14.1h-19.2zM683.4 1399.5h9.6v14.1h-9.6zM702.7 1399.5h9.6v14.1h-9.6zM770.1 1399.5h9.6v14.1h-9.6zM789.3 1399.5h19.2v14.1h-19.2zM818.2 1399.5h19.2v14.1h-19.2zM866.3 1399.5h9.6v14.1h-9.6zM885.6 1399.5h28.9v14.1h-28.9zM991.4 1399.5h9.6v14.1h-9.6zM1020.3 1399.5h9.6v14.1h-9.6zM1049.2 1399.5h9.6v14.1h-9.6zM1068.4 1399.5h9.6v14.1h-9.6zM1193.6 1399.5h9.6v14.1h-9.6zM1232.1 1399.5h9.6v14.1h-9.6zM1289.8 1399.5h9.6v14.1h-9.6zM1357.2 1399.5h9.6v14.1h-9.6zM423.6 1413.5h9.6v14.1h-9.6zM462.1 1413.5h9.6v14.1h-9.6zM500.6 1413.5h28.9v14.1h-28.9zM606.4 1413.5h19.2v14.1h-19.2zM644.9 1413.5h19.2v14.1h-19.2zM683.4 1413.5h9.6v14.1h-9.6zM760.4 1413.5h9.6v14.1h-9.6zM789.3 1413.5h28.9v14.1h-28.9zM847.1 1413.5h9.6v14.1h-9.6zM866.3 1413.5h9.6v14.1h-9.6zM904.8 1413.5h9.6v14.1h-9.6zM991.4 1413.5h9.6v14.1h-9.6zM1049.2 1413.5h9.6v14.1h-9.6zM1087.7 1413.5h9.6v14.1h-9.6zM1289.8 1413.5h9.6v14.1h-9.6zM413.9 1427.4h19.2v14.1h-19.2zM442.8 1427.4h9.6v14.1h-9.6zM471.7 1427.4h9.6v14.1h-9.6zM510.2 1427.4h28.9v14.1h-28.9zM587.2 1427.4h19.2v14.1h-19.2zM635.3 1427.4h19.2v14.1h-19.2zM702.7 1427.4h9.6v14.1h-9.6zM721.9 1427.4h9.6v14.1h-9.6zM789.3 1427.4h38.5v14.1h-38.5zM847.1 1427.4h9.6v14.1h-9.6zM866.3 1427.4h9.6v14.1h-9.6zM904.8 1427.4h9.6v14.1h-9.6zM952.9 1427.4h19.2v14.1h-19.2zM991.4 1427.4h9.6v14.1h-9.6zM1020.3 1427.4h9.6v14.1h-9.6zM1068.4 1427.4h28.9v14.1h-28.9zM1232.1 1427.4h19.2v14.1h-19.2zM1357.2 1427.4h9.6v14.1h-9.6zM413.9 1441.3h19.2v14.1h-19.2zM442.8 1441.3h9.6v14.1h-9.6zM462.1 1441.3h19.2v14.1h-19.2zM500.6 1441.3h9.6v14.1h-9.6zM529.4 1441.3h9.6v14.1h-9.6zM606.4 1441.3h9.6v14.1h-9.6zM654.6 1441.3h9.6v14.1h-9.6zM702.7 1441.3h9.6v14.1h-9.6zM760.4 1441.3h19.2v14.1h-19.2zM827.8 1441.3h9.6v14.1h-9.6zM847.1 1441.3h9.6v14.1h-9.6zM866.3 1441.3h9.6v14.1h-9.6zM885.6 1441.3h28.9v14.1h-28.9zM952.9 1441.3h19.2v14.1h-19.2zM1020.3 1441.3h9.6v14.1h-9.6zM1049.2 1441.3h9.6v14.1h-9.6zM1068.4 1441.3h9.6v14.1h-9.6zM1232.1 1441.3h9.6v14.1h-9.6zM1289.8 1441.3h9.6v14.1h-9.6zM1357.2 1441.3h9.6v14.1h-9.6zM423.6 1455.2h9.6v14.1h-9.6zM462.1 1455.2h9.6v14.1h-9.6zM587.2 1455.2h9.6v14.1h-9.6zM606.4 1455.2h9.6v14.1h-9.6zM644.9 1455.2h9.6v14.1h-9.6zM683.4 1455.2h9.6v14.1h-9.6zM702.7 1455.2h9.6v14.1h-9.6zM721.9 1455.2h9.6v14.1h-9.6zM741.2 1455.2h9.6v14.1h-9.6zM760.4 1455.2h19.2v14.1h-19.2zM789.3 1455.2h9.6v14.1h-9.6zM885.6 1455.2h9.6v14.1h-9.6zM1049.2 1455.2h9.6v14.1h-9.6zM1078.1 1455.2h19.2v14.1h-19.2zM1232.1 1455.2h19.2v14.1h-19.2zM1289.8 1455.2h9.6v14.1h-9.6zM1357.2 1455.2h9.6v14.1h-9.6zM442.8 1469.2h9.6v14.1h-9.6zM462.1 1469.2h9.6v14.1h-9.6zM587.2 1469.2h9.6v14.1h-9.6zM606.4 1469.2h19.2v14.1h-19.2zM635.3 1469.2h28.9v14.1h-28.9zM683.4 1469.2h9.6v14.1h-9.6zM702.7 1469.2h9.6v14.1h-9.6zM760.4 1469.2h19.2v14.1h-19.2zM789.3 1469.2h38.5v14.1h-38.5zM847.1 1469.2h9.6v14.1h-9.6zM885.6 1469.2h28.9v14.1h-28.9zM1068.4 1469.2h19.2v14.1h-19.2zM1241.7 1469.2h9.6v14.1h-9.6zM1289.8 1469.2h9.6v14.1h-9.6zM1357.2 1469.2h9.6v14.1h-9.6z" fill="#ccf"/>
<path d="M433.2 1385.6h9.6v14.1h-9.6zM452.4 1385.6h9.6v14.1h-9.6zM481.3 1385.6h9.6v14.1h-9.6zM539.1 1385.6h9.6v14.1h-9.6zM567.9 1385.6h9.6v14.1h-9.6zM625.7 1385.6h9.6v14.1h-9.6zM731.6 1385.6h9.6v14.1h-9.6zM856.7 1385.6h9.6v14.1h-9.6zM933.7 1385.6h9.6v14.1h-9.6zM981.8 1385.6h9.6v14.1h-9.6zM1001.1 1385.6h9.6v14.1h-9.6zM1106.9 1385.6h9.6v14.1h-9.6zM1174.3 1385.6h19.2v14.1h-19.2zM1414.9 1385.6h9.6v14.1h-9.6zM1443.8 1385.6h19.2v14.1h-19.2zM385.1 1399.5h9.6v14.1h-9.6zM433.2 1399.5h9.6v14.1h-9.6zM452.4 1399.5h9.6v14.1h-9.6zM481.3 1399.5h19.2v14.1h-19.2zM539.1 1399.5h9.6v14.1h-9.6zM750.8 1399.5h9.6v14.1h-9.6zM856.7 1399.5h9.6v14.1h-9.6zM875.9 1399.5h9.6v14.1h-9.6zM943.3 1399.5h9.6v14.1h-9.6zM981.8 1399.5h9.6v14.1h-9.6zM1001.1 1399.5h9.6v14.1h-9.6zM1039.6 1399.5h9.6v14.1h-9.6zM1058.8 1399.5h9.6v14.1h-9.6zM1106.9 1399.5h9.6v14.1h-9.6zM1174.3 1399.5h19.2v14.1h-19.2zM1299.4 1399.5h9.6v14.1h-9.6zM1414.9 1399.5h9.6v14.1h-9.6zM1443.8 1399.5h9.6v14.1h-9.6zM385.1 1413.5h9.6v14.1h-9.6zM433.2 1413.5h9.6v14.1h-9.6zM481.3 1413.5h19.2v14.1h-19.2zM539.1 1413.5h9.6v14.1h-9.6zM567.9 1413.5h9.6v14.1h-9.6zM731.6 1413.5h9.6v14.1h-9.6zM837.4 1413.5h9.6v14.1h-9.6zM933.7 1413.5h9.6v14.1h-9.6zM1001.1 1413.5h9.6v14.1h-9.6zM1039.6 1413.5h9.6v14.1h-9.6zM1058.8 1413.5h9.6v14.1h-9.6zM1106.9 1413.5h9.6v14.1h-9.6zM1174.3 1413.5h9.6v14.1h-9.6zM1299.4 1413.5h9.6v14.1h-9.6zM1405.3 1413.5h19.2v14.1h-19.2zM1434.2 1413.5h19.2v14.1h-19.2zM433.2 1427.4h9.6v14.1h-9.6zM452.4 1427.4h9.6v14.1h-9.6zM481.3 1427.4h19.2v14.1h-19.2zM539.1 1427.4h9.6v14.1h-9.6zM567.9 1427.4h9.6v14.1h-9.6zM625.7 1427.4h9.6v14.1h-9.6zM731.6 1427.4h9.6v14.1h-9.6zM856.7 1427.4h9.6v14.1h-9.6zM933.7 1427.4h19.2v14.1h-19.2zM981.8 1427.4h9.6v14.1h-9.6zM1001.1 1427.4h9.6v14.1h-9.6zM1058.8 1427.4h9.6v14.1h-9.6zM1106.9 1427.4h9.6v14.1h-9.6zM1174.3 1427.4h19.2v14.1h-19.2zM1414.9 1427.4h9.6v14.1h-9.6zM1443.8 1427.4h19.2v14.1h-19.2zM385.1 1441.3h9.6v14.1h-9.6zM481.3 1441.3h9.6v14.1h-9.6zM539.1 1441.3h9.6v14.1h-9.6zM567.9 1441.3h9.6v14.1h-9.6zM625.7 1441.3h9.6v14.1h-9.6zM731.6 1441.3h9.6v14.1h-9.6zM750.8 1441.3h9.6v14.1h-9.6zM837.4 1441.3h9.6v14.1h-9.6zM856.7 1441.3h9.6v14.1h-9.6zM875.9 1441.3h9.6v14.1h-9.6zM933.7 1441.3h9.6v14.1h-9.6zM1001.1 1441.3h9.6v14.1h-9.6zM1039.6 1441.3h9.6v14.1h-9.6zM1106.9 1441.3h9.6v14.1h-9.6zM1174.3 1441.3h19.2v14.1h-19.2zM1299.4 1441.3h9.6v14.1h-9.6zM1414.9 1441.3h9.6v14.1h-9.6zM1434.2 1441.3h9.6v14.1h-9.6zM1453.4 1441.3h9.6v14.1h-9.6zM385.1 1455.2h9.6v14.1h-9.6zM433.2 1455.2h9.6v14.1h-9.6zM625.7 1455.2h9.6v14.1h-9.6zM731.6 1455.2h9.6v14.1h-9.6zM837.4 1455.2h9.6v14.1h-9.6zM856.7 1455.2h9.6v14.1h-9.6zM875.9 1455.2h9.6v14.1h-9.6zM933.7 1455.2h19.2v14.1h-19.2zM981.8 1455.2h9.6v14.1h-9.6zM1058.8 1455.2h9.6v14.1h-9.6zM1183.9 1455.2h9.6v14.1h-9.6zM1299.4 1455.2h9.6v14.1h-9.6zM1405.3 1455.2h19.2v14.1h-19.2zM1434.2 1455.2h19.2v14.1h-19.2zM385.1 1469.2h9.6v14.1h-9.6zM433.2 1469.2h9.6v14.1h-9.6zM452.4 1469.2h9.6v14.1h-9.6zM539.1 1469.2h9.6v14.1h-9.6zM567.9 1469.2h9.6v14.1h-9.6zM731.6 1469.2h9.6v14.1h-9.6zM837.4 1469.2h9.6v14.1h-9.6zM856.7 1469.2h9.6v14.1h-9.6zM875.9 1469.2h9.6v14.1h-9.6zM943.3 1469.2h9.6v14.1h-9.6zM981.8 1469.2h9.6v14.1h-9.6zM1001.1 1469.2h9.6v14.1h-9.6zM1039.6 1469.2h9.6v14.1h-9.6zM1058.8 1469.2h9.6v14.1h-9.6zM1106.9 1469.2h9.6v14.1h-9.6zM1174.3 1469.2h19.2v14.1h-19.2zM1299.4 1469.2h9.6v14.1h-9.6zM1405.3 1469.2h19.2v14.1h-19.2zM1434.2 1469.2h19.2v14.1h-19.2z" fill="#99f"/>
<path d="M356.2 1385.6h28.9v14.1h-28.9zM394.7 1385.6h19.2v14.1h-19.2zM548.7 1385.6h19.2v14.1h-19.2zM972.2 1385.6h9.6v14.1h-9.6zM1097.3 1385.6h9.6v14.1h-9.6zM1116.6 1385.6h57.8v14.1h-57.8zM1203.2 1385.6h28.9v14.1h-28.9zM1251.3 1385.6h38.5v14.1h-38.5zM1318.7 1385.6h38.5v14.1h-38.5zM1386.1 1385.6h19.2v14.1h-19.2zM1424.6 1385.6h9.6v14.1h-9.6zM356.2 1399.5h28.9v14.1h-28.9zM394.7 1399.5h9.6v14.1h-9.6zM548.7 1399.5h19.2v14.1h-19.2zM972.2 1399.5h9.6v14.1h-9.6zM1116.6 1399.5h57.8v14.1h-57.8zM1203.2 1399.5h28.9v14.1h-28.9zM1251.3 1399.5h38.5v14.1h-38.5zM1309.1 1399.5h28.9v14.1h-28.9zM1376.4 1399.5h28.9v14.1h-28.9zM1424.6 1399.5h9.6v14.1h-9.6zM356.2 1413.5h28.9v14.1h-28.9zM394.7 1413.5h19.2v14.1h-19.2zM548.7 1413.5h19.2v14.1h-19.2zM972.2 1413.5h9.6v14.1h-9.6zM1097.3 1413.5h9.6v14.1h-9.6zM1116.6 1413.5h57.8v14.1h-57.8zM1203.2 1413.5h9.6v14.1h-9.6zM1251.3 1413.5h38.5v14.1h-38.5zM1309.1 1413.5h48.1v14.1h-48.1zM1376.4 1413.5h28.9v14.1h-28.9zM1424.6 1413.5h9.6v14.1h-9.6zM356.2 1427.4h28.9v14.1h-28.9zM394.7 1427.4h19.2v14.1h-19.2zM548.7 1427.4h19.2v14.1h-19.2zM972.2 1427.4h9.6v14.1h-9.6zM1097.3 1427.4h9.6v14.1h-9.6zM1116.6 1427.4h57.8v14.1h-57.8zM1203.2 1427.4h28.9v14.1h-28.9zM1251.3 1427.4h38.5v14.1h-38.5zM1318.7 1427.4h38.5v14.1h-38.5zM1386.1 1427.4h19.2v14.1h-19.2zM1424.6 1427.4h9.6v14.1h-9.6zM356.2 1441.3h28.9v14.1h-28.9zM394.7 1441.3h19.2v14.1h-19.2zM548.7 1441.3h19.2v14.1h-19.2zM972.2 1441.3h9.6v14.1h-9.6zM1097.3 1441.3h9.6v14.1h-9.6zM1116.6 1441.3h57.8v14.1h-57.8zM1203.2 1441.3h28.9v14.1h-28.9zM1251.3 1441.3h38.5v14.1h-38.5zM1309.1 1441.3h48.1v14.1h-48.1zM1376.4 1441.3h28.9v14.1h-28.9zM1424.6 1441.3h9.6v14.1h-9.6zM356.2 1455.2h28.9v14.1h-28.9zM394.7 1455.2h19.2v14.1h-19.2zM548.7 1455.2h19.2v14.1h-19.2zM972.2 1455.2h9.6v14.1h-9.6zM1097.3 1455.2h9.6v14.1h-9.6zM1116.6 1455.2h57.8v14.1h-57.8zM1203.2 1455.2h28.9v14.1h-28.9zM1251.3 1455.2h38.5v14.1h-38.5zM1309.1 1455.2h48.1v14.1h-48.1zM1376.4 1455.2h28.9v14.1h-28.9zM1424.6 1455.2h9.6v14.1h-9.6zM356.2 1469.2h28.9v14.1h-28.9zM394.7 1469.2h19.2v14.1h-19.2zM548.7 1469.2h19.2v14.1h-19.2zM972.2 1469.2h9.6v14.1h-9.6zM1097.3 1469.2h9.6v14.1h-9.6zM1116.6 1469.2h57.8v14.1h-57.8zM1203.2 1469.2h28.9v14.1h-28.9zM1251.3 1469.2h38.5v14.1h-38.5zM1309.1 1469.2h48.1v14.1h-48.1zM1376.4 1469.2h28.9v14.1h-28.9zM1424.6 1469.2h9.6v14.1h-9.6z" fill="#6464ff"/>
<text x="232.1" y="1368.3" font-size="19" textLength="90.2" lengthAdjust="spacingAndGlyphs">DRJ Circle</text>
<path d="M399.5 1378.5v3.6M447.6 1378.5v3.6M495.8 1378.5v3.6M543.9 1378.5v3.6M592 1378.5v3.6M640.1 1378.5v3.6M688.2 1378.5v3.6M736.4 1378.5v3.6M784.5 1378.5v3.6M832.6 1378.5v3.6M880.8 1378.5v3.6M928.9 1378.5v3.6M977 1378.5v3.6M1025.1 1378.5v3.6M1073.2 1378.5v3.6M1121.4 1378.5v3.6M1169.5 1378.5v3.6M1217.6 1378.5v3.6M1265.8 1378.5v3.6M1313.9 1378.5v3.6M1362 1378.5v3.6M1410.1 1378.5v3.6M1458.2 1378.5v3.6" stroke="#222" stroke-width="1" fill="none"/>
<g font-family="DejaVu Sans,Liberation Sans,sans-serif" font-size="8.6" text-anchor="middle" fill="#111">
<text x="449" y="1376.2">10</text>
<text x="545.3" y="1376.2">20</text>
<text x="641.5" y="1376.2">30</text>
<text x="737.8" y="1376.2">40</text>
<text x="834" y="1376.2">50</text>
<text x="930.3" y="1376.2">60</text>
<text x="1026.5" y="1376.2">70</text>
<text x="1122.8" y="1376.2">80</text>
<text x="1219" y="1376.2">90</text>
<text x="1315.3" y="1376.2">100</text>
<text x="1411.5" y="1376.2">110</text>
</g>
<g font-family="DejaVu Sans,Liberation Sans,sans-serif" font-size="9.2" fill="#111">
<text x="235.4" y="1397.8">CC_DRJ_CIRCLE-5</text>
<text x="235.4" y="1411.7">CC_DRJ_CIRCLE-6</text>
<text x="235.4" y="1425.5">CC_DRJ_CIRCLE-7</text>
<text x="235.4" y="1439.4">CC_DRJ_CIRCLE-8</text>
<text x="235.4" y="1453.3">CC_DRJ_CIRCLE-9</text>
<text x="235.4" y="1467.1">MD_DRJ_CIRCLE-B</text>
<text x="235.4" y="1481">MD_DRJ_CIRCLE-C</text>
</g>
<g font-family="DejaVu Sans,Liberation Sans,sans-serif" font-size="9.6" text-anchor="middle" fill="#000" stroke="#000" stroke-width=".28">
<text x="361 370.6 380.2 389.9 399.5 409.1 418.8 428.4 438 447.6 457.2 466.9 476.5 486.1 495.8 505.4 515 524.6 534.2 543.9 553.5 563.1 572.8 582.4 592 601.6 611.2 620.9 630.5 640.1 649.8 659.4 669 678.6 688.2 697.9 707.5 717.1 726.8 736.4 746 755.6 765.2 774.9 784.5 794.1 803.8 813.4 823 832.6 842.2 851.9 861.5 871.1 880.8 890.4 900 909.6 919.2 928.9 938.5 948.1 957.8 967.4 977 986.6 996.2 1005.9 1015.5 1025.1 1034.8 1044.4 1054 1063.6 1073.2 1082.9 1092.5 1102.1 1111.8 1121.4 1131 1140.6 1150.2 1159.9 1169.5 1179.1 1188.8 1198.4 1208 1217.6 1227.2 1236.9 1246.5 1256.1 1265.8 1275.4 1285 1294.6 1304.2 1313.9 1323.5 1333.1 1342.8 1352.4 1362 1371.6 1381.2 1390.9 1400.5 1410.1 1419.8 1429.4 1439 1448.6 1458.2" y="1397.9">TGATTTTTAGTAGTATATTAATTCTTGGTAAAGAGTGAATTTTTTATGATCCAAGAATTGACAAATGTGAGTTGCTTATAGCTTTTTGAATAATGAATTGAAATAACGATCATAT</text>
<text x="361 370.6 380.2 389.9 399.5 409.1 418.8 428.4 438 447.6 457.2 466.9 476.5 486.1 495.8 505.4 515 524.6 534.2 543.9 553.5 563.1 572.8 582.4 592 601.6 611.2 620.9 630.5 640.1 649.8 659.4 669 678.6 688.2 697.9 707.5 717.1 726.8 736.4 746 755.6 765.2 774.9 784.5 794.1 803.8 813.4 823 832.6 842.2 851.9 861.5 871.1 880.8 890.4 900 909.6 919.2 928.9 938.5 948.1 957.8 967.4 977 986.6 996.2 1005.9 1015.5 1025.1 1034.8 1044.4 1054 1063.6 1073.2 1082.9 1092.5 1102.1 1111.8 1121.4 1131 1140.6 1150.2 1159.9 1169.5 1179.1 1188.8 1198.4 1208 1217.6 1227.2 1236.9 1246.5 1256.1 1265.8 1275.4 1285 1294.6 1304.2 1313.9 1323.5 1333.1 1342.8 1352.4 1362 1371.6 1381.2 1390.9 1400.5 1410.1 1419.8 1429.4 1439 1448.6 1458.2" y="1411.8">TGAATAAGAATGATGATTAAATCACTATCGAAAAAGGATCAATAGATTATCAAATCATCTGTTTATGTCACAATCAAGTAGCTTTTTAAATATTGAACAAAATGACTGATCATAG</text>
<text x="361 370.6 380.2 389.9 399.5 409.1 418.8 428.4 438 447.6 457.2 466.9 476.5 486.1 495.8 505.4 515 524.6 534.2 543.9 553.5 563.1 572.8 582.4 592 601.6 611.2 620.9 630.5 640.1 649.8 659.4 669 678.6 688.2 697.9 707.5 717.1 726.8 736.4 746 755.6 765.2 774.9 784.5 794.1 803.8 813.4 823 832.6 842.2 851.9 861.5 871.1 880.8 890.4 900 909.6 919.2 928.9 938.5 948.1 957.8 967.4 977 986.6 996.2 1005.9 1015.5 1025.1 1034.8 1044.4 1054 1063.6 1073.2 1082.9 1092.5 1102.1 1111.8 1121.4 1131 1140.6 1150.2 1159.9 1169.5 1179.1 1188.8 1198.4 1208 1217.6 1227.2 1236.9 1246.5 1256.1 1265.8 1275.4 1285 1294.6 1304.2 1313.9 1323.5 1333.1 1342.8 1352.4 1362 1371.6 1381.2 1390.9 1400.5 1410.1 1419.8 1429.4 1439 1448.6 1458.2" y="1425.6">TGAATTGTATGACTGAATAAATTAAAAACTAAAAAGTTTTCGAGTATGTATTTAATTTGTACTTA-GTTCTAATTGTATAGCTTTTCTAGATCTGAACAAAAATGGTGAACAAAA</text>
<text x="361 370.6 380.2 389.9 399.5 409.1 418.8 428.4 438 447.6 457.2 466.9 476.5 486.1 495.8 505.4 515 524.6 534.2 543.9 553.5 563.1 572.8 582.4 592 601.6 611.2 620.9 630.5 640.1 649.8 659.4 669 678.6 688.2 697.9 707.5 717.1 726.8 736.4 746 755.6 765.2 774.9 784.5 794.1 803.8 813.4 823 832.6 842.2 851.9 861.5 871.1 880.8 890.4 900 909.6 919.2 928.9 938.5 948.1 957.8 967.4 977 986.6 996.2 1005.9 1015.5 1025.1 1034.8 1044.4 1054 1063.6 1073.2 1082.9 1092.5 1102.1 1111.8 1121.4 1131 1140.6 1150.2 1159.9 1169.5 1179.1 1188.8 1198.4 1208 1217.6 1227.2 1236.9 1246.5 1256.1 1265.8 1275.4 1285 1294.6 1304.2 1313.9 1323.5 1333.1 1342.8 1352.4 1362 1371.6 1381.2 1390.9 1400.5 1410.1 1419.8 1429.4 1439 1448.6 1458.2" y="1439.5">TGATTTTTAGTGGTGTATTAATTTTTGGTAATGAGTGAATAGTTGATGACCTAAGATTAAATAAATGTGAGTTTCTTATAGCTTTTTGAATAATGAATTGAAATAACGATCAGAT</text>
<text x="361 370.6 380.2 389.9 399.5 409.1 418.8 428.4 438 447.6 457.2 466.9 476.5 486.1 495.8 505.4 515 524.6 534.2 543.9 553.5 563.1 572.8 582.4 592 601.6 611.2 620.9 630.5 640.1 649.8 659.4 669 678.6 688.2 697.9 707.5 717.1 726.8 736.4 746 755.6 765.2 774.9 784.5 794.1 803.8 813.4 823 832.6 842.2 851.9 861.5 871.1 880.8 890.4 900 909.6 919.2 928.9 938.5 948.1 957.8 967.4 977 986.6 996.2 1005.9 1015.5 1025.1 1034.8 1044.4 1054 1063.6 1073.2 1082.9 1092.5 1102.1 1111.8 1121.4 1131 1140.6 1150.2 1159.9 1169.5 1179.1 1188.8 1198.4 1208 1217.6 1227.2 1236.9 1246.5 1256.1 1265.8 1275.4 1285 1294.6 1304.2 1313.9 1323.5 1333.1 1342.8 1352.4 1362 1371.6 1381.2 1390.9 1400.5 1410.1 1419.8 1429.4 1439 1448.6 1458.2" y="1453.4">TGAATTTAGAAAGTAATCTAATTGAGACTTTATTGCGGTTAAAATTGTTTTTAATCATTAACAAACTTCATAAGCAAATAGCTTTTTGAATAGTGAACAAAAATAGTGATCAACT</text>
<text x="361 370.6 380.2 389.9 399.5 409.1 418.8 428.4 438 447.6 457.2 466.9 476.5 486.1 495.8 505.4 515 524.6 534.2 543.9 553.5 563.1 572.8 582.4 592 601.6 611.2 620.9 630.5 640.1 649.8 659.4 669 678.6 688.2 697.9 707.5 717.1 726.8 736.4 746 755.6 765.2 774.9 784.5 794.1 803.8 813.4 823 832.6 842.2 851.9 861.5 871.1 880.8 890.4 900 909.6 919.2 928.9 938.5 948.1 957.8 967.4 977 986.6 996.2 1005.9 1015.5 1025.1 1034.8 1044.4 1054 1063.6 1073.2 1082.9 1092.5 1102.1 1111.8 1121.4 1131 1140.6 1150.2 1159.9 1169.5 1179.1 1188.8 1198.4 1208 1217.6 1227.2 1236.9 1246.5 1256.1 1265.8 1275.4 1285 1294.6 1304.2 1313.9 1323.5 1333.1 1342.8 1352.4 1362 1371.6 1381.2 1390.9 1400.5 1410.1 1419.8 1429.4 1439 1448.6 1458.2" y="1467.2">TGAATTAAATGACACCTCATATGATGACTTATTTAAGTATTTAATAATCATCAGTCCATTATTGATTCATCTATATTAAAGCTTTCTGAATAATGAACAAAAATATTGAACAAAG</text>
<text x="361 370.6 380.2 389.9 399.5 409.1 418.8 428.4 438 447.6 457.2 466.9 476.5 486.1 495.8 505.4 515 524.6 534.2 543.9 553.5 563.1 572.8 582.4 592 601.6 611.2 620.9 630.5 640.1 649.8 659.4 669 678.6 688.2 697.9 707.5 717.1 726.8 736.4 746 755.6 765.2 774.9 784.5 794.1 803.8 813.4 823 832.6 842.2 851.9 861.5 871.1 880.8 890.4 900 909.6 919.2 928.9 938.5 948.1 957.8 967.4 977 986.6 996.2 1005.9 1015.5 1025.1 1034.8 1044.4 1054 1063.6 1073.2 1082.9 1092.5 1102.1 1111.8 1121.4 1131 1140.6 1150.2 1159.9 1169.5 1179.1 1188.8 1198.4 1208 1217.6 1227.2 1236.9 1246.5 1256.1 1265.8 1275.4 1285 1294.6 1304.2 1313.9 1323.5 1333.1 1342.8 1352.4 1362 1371.6 1381.2 1390.9 1400.5 1410.1 1419.8 1429.4 1439 1448.6 1458.2" y="1481.1">TGAATTCGAATAACACGCAAATTATGAACAAAGAATGCCTACAAGATGACTTAGTCATCTTTTTATCTGGAAGTCTAATAGCTTTTTGAATGATGAACAAAAATACTGAACAAAG</text>
</g>
</g>
<g id="him">
<path d="M663.1 1578.8h28.9v14h-28.9zM711.2 1578.8h9.6v14h-9.6zM730.4 1578.8h9.6v14h-9.6zM788.2 1578.8h9.6v14h-9.6zM874.7 1578.8h9.6v14h-9.6zM894 1578.8h9.6v14h-9.6zM951.7 1578.8h57.7v14h-57.7zM1144.1 1578.8h9.6v14h-9.6zM1211.4 1578.8h9.6v14h-9.6zM1259.5 1578.8h9.6v14h-9.6zM1278.8 1578.8h9.6v14h-9.6zM1307.6 1578.8h9.6v14h-9.6zM1326.9 1578.8h9.6v14h-9.6zM1355.7 1578.8h19.2v14h-19.2zM1394.2 1578.8h9.6v14h-9.6zM1442.3 1578.8h19.2v14h-19.2zM1471.2 1578.8h9.6v14h-9.6zM1490.4 1578.8h9.6v14h-9.6zM1548.1 1578.8h9.6v14h-9.6zM1615.5 1578.8h9.6v14h-9.6zM1673.2 1578.8h19.2v14h-19.2zM1702 1578.8h19.2v14h-19.2zM663.1 1592.7h28.9v14h-28.9zM711.2 1592.7h9.6v14h-9.6zM730.4 1592.7h9.6v14h-9.6zM788.2 1592.7h9.6v14h-9.6zM836.2 1592.7h9.6v14h-9.6zM865.1 1592.7h9.6v14h-9.6zM884.4 1592.7h19.2v14h-19.2zM961.3 1592.7h38.5v14h-38.5zM1182.6 1592.7h9.6v14h-9.6zM1211.4 1592.7h9.6v14h-9.6zM1230.7 1592.7h9.6v14h-9.6zM1249.9 1592.7h19.2v14h-19.2zM1278.8 1592.7h9.6v14h-9.6zM1326.9 1592.7h9.6v14h-9.6zM1394.2 1592.7h9.6v14h-9.6zM1442.3 1592.7h9.6v14h-9.6zM1490.4 1592.7h9.6v14h-9.6zM1548.1 1592.7h9.6v14h-9.6zM1663.6 1592.7h19.2v14h-19.2zM1692.4 1592.7h9.6v14h-9.6zM1711.7 1592.7h9.6v14h-9.6zM653.5 1606.5h38.5v14h-38.5zM730.4 1606.5h9.6v14h-9.6zM874.7 1606.5h19.2v14h-19.2zM932.5 1606.5h9.6v14h-9.6zM951.7 1606.5h28.9v14h-28.9zM990.2 1606.5h19.2v14h-19.2zM1115.2 1606.5h9.6v14h-9.6zM1173 1606.5h19.2v14h-19.2zM1211.4 1606.5h9.6v14h-9.6zM1230.7 1606.5h9.6v14h-9.6zM1249.9 1606.5h9.6v14h-9.6zM1278.8 1606.5h9.6v14h-9.6zM1307.6 1606.5h9.6v14h-9.6zM1336.5 1606.5h9.6v14h-9.6zM1355.7 1606.5h19.2v14h-19.2zM1394.2 1606.5h9.6v14h-9.6zM1442.3 1606.5h9.6v14h-9.6zM1548.1 1606.5h9.6v14h-9.6zM1615.5 1606.5h9.6v14h-9.6zM1663.6 1606.5h38.5v14h-38.5zM663.1 1620.4h28.9v14h-28.9zM711.2 1620.4h9.6v14h-9.6zM778.5 1620.4h9.6v14h-9.6zM836.2 1620.4h9.6v14h-9.6zM874.7 1620.4h28.9v14h-28.9zM951.7 1620.4h57.7v14h-57.7zM1144.1 1620.4h9.6v14h-9.6zM1211.4 1620.4h9.6v14h-9.6zM1259.5 1620.4h9.6v14h-9.6zM1278.8 1620.4h9.6v14h-9.6zM1307.6 1620.4h9.6v14h-9.6zM1326.9 1620.4h19.2v14h-19.2zM1365.3 1620.4h9.6v14h-9.6zM1394.2 1620.4h9.6v14h-9.6zM1442.3 1620.4h19.2v14h-19.2zM1471.2 1620.4h9.6v14h-9.6zM1490.4 1620.4h9.6v14h-9.6zM1548.1 1620.4h9.6v14h-9.6zM1615.5 1620.4h9.6v14h-9.6zM1663.6 1620.4h28.9v14h-28.9zM1702 1620.4h19.2v14h-19.2zM663.1 1634.3h28.9v14h-28.9zM730.4 1634.3h9.6v14h-9.6zM788.2 1634.3h9.6v14h-9.6zM884.4 1634.3h9.6v14h-9.6zM961.3 1634.3h19.2v14h-19.2zM1076.8 1634.3h9.6v14h-9.6zM1211.4 1634.3h9.6v14h-9.6zM1230.7 1634.3h9.6v14h-9.6zM1259.5 1634.3h9.6v14h-9.6zM1278.8 1634.3h9.6v14h-9.6zM1307.6 1634.3h9.6v14h-9.6zM1336.5 1634.3h9.6v14h-9.6zM1365.3 1634.3h9.6v14h-9.6zM1394.2 1634.3h9.6v14h-9.6zM1442.3 1634.3h19.2v14h-19.2zM1471.2 1634.3h9.6v14h-9.6zM1663.6 1634.3h19.2v14h-19.2zM1692.4 1634.3h9.6v14h-9.6zM1711.7 1634.3h9.6v14h-9.6zM566.9 1648.2h19.2v14h-19.2zM663.1 1648.2h28.9v14h-28.9zM711.2 1648.2h9.6v14h-9.6zM788.2 1648.2h9.6v14h-9.6zM836.2 1648.2h9.6v14h-9.6zM865.1 1648.2h9.6v14h-9.6zM884.4 1648.2h9.6v14h-9.6zM932.5 1648.2h9.6v14h-9.6zM970.9 1648.2h9.6v14h-9.6zM1096 1648.2h9.6v14h-9.6zM1115.2 1648.2h9.6v14h-9.6zM1153.7 1648.2h9.6v14h-9.6zM1173 1648.2h9.6v14h-9.6zM1230.7 1648.2h9.6v14h-9.6zM1249.9 1648.2h9.6v14h-9.6zM1365.3 1648.2h9.6v14h-9.6zM1394.2 1648.2h9.6v14h-9.6zM1423.1 1648.2h9.6v14h-9.6zM1451.9 1648.2h9.6v14h-9.6zM1615.5 1648.2h9.6v14h-9.6zM1644.3 1648.2h9.6v14h-9.6zM1702 1648.2h9.6v14h-9.6zM566.9 1662h19.2v14h-19.2zM653.5 1662h9.6v14h-9.6zM672.7 1662h9.6v14h-9.6zM778.5 1662h19.2v14h-19.2zM836.2 1662h9.6v14h-9.6zM865.1 1662h38.5v14h-38.5zM970.9 1662h9.6v14h-9.6zM1076.8 1662h9.6v14h-9.6zM1096 1662h9.6v14h-9.6zM1144.1 1662h19.2v14h-19.2zM1249.9 1662h9.6v14h-9.6zM1336.5 1662h9.6v14h-9.6zM1365.3 1662h9.6v14h-9.6zM1423.1 1662h9.6v14h-9.6zM1490.4 1662h9.6v14h-9.6zM1644.3 1662h9.6v14h-9.6z" fill="#ccf"/>
<path d="M605.4 1578.8h9.6v14h-9.6zM720.8 1578.8h9.6v14h-9.6zM807.4 1578.8h9.6v14h-9.6zM922.8 1578.8h9.6v14h-9.6zM1124.8 1578.8h19.2v14h-19.2zM1432.7 1578.8h9.6v14h-9.6zM1461.6 1578.8h9.6v14h-9.6zM1480.8 1578.8h9.6v14h-9.6zM1500 1578.8h48.1v14h-48.1zM1557.8 1578.8h9.6v14h-9.6zM605.4 1592.7h9.6v14h-9.6zM701.6 1592.7h9.6v14h-9.6zM720.8 1592.7h9.6v14h-9.6zM740.1 1592.7h9.6v14h-9.6zM768.9 1592.7h9.6v14h-9.6zM797.8 1592.7h9.6v14h-9.6zM1134.5 1592.7h9.6v14h-9.6zM1192.2 1592.7h9.6v14h-9.6zM1221.1 1592.7h9.6v14h-9.6zM1432.7 1592.7h9.6v14h-9.6zM1461.6 1592.7h9.6v14h-9.6zM1500 1592.7h38.5v14h-38.5zM1557.8 1592.7h9.6v14h-9.6zM605.4 1606.5h9.6v14h-9.6zM740.1 1606.5h9.6v14h-9.6zM768.9 1606.5h9.6v14h-9.6zM797.8 1606.5h19.2v14h-19.2zM1028.7 1606.5h9.6v14h-9.6zM1057.5 1606.5h19.2v14h-19.2zM1105.6 1606.5h9.6v14h-9.6zM1124.8 1606.5h19.2v14h-19.2zM1192.2 1606.5h9.6v14h-9.6zM1221.1 1606.5h9.6v14h-9.6zM1384.6 1606.5h9.6v14h-9.6zM1432.7 1606.5h9.6v14h-9.6zM1461.6 1606.5h9.6v14h-9.6zM1480.8 1606.5h9.6v14h-9.6zM1500 1606.5h48.1v14h-48.1zM1557.8 1606.5h9.6v14h-9.6zM605.4 1620.4h9.6v14h-9.6zM720.8 1620.4h9.6v14h-9.6zM740.1 1620.4h9.6v14h-9.6zM807.4 1620.4h9.6v14h-9.6zM922.8 1620.4h9.6v14h-9.6zM1124.8 1620.4h19.2v14h-19.2zM1432.7 1620.4h9.6v14h-9.6zM1480.8 1620.4h9.6v14h-9.6zM1500 1620.4h48.1v14h-48.1zM1557.8 1620.4h9.6v14h-9.6zM701.6 1634.3h9.6v14h-9.6zM720.8 1634.3h9.6v14h-9.6zM740.1 1634.3h9.6v14h-9.6zM797.8 1634.3h19.2v14h-19.2zM922.8 1634.3h9.6v14h-9.6zM1028.7 1634.3h9.6v14h-9.6zM1047.9 1634.3h28.9v14h-28.9zM1105.6 1634.3h9.6v14h-9.6zM1124.8 1634.3h19.2v14h-19.2zM1221.1 1634.3h9.6v14h-9.6zM1384.6 1634.3h9.6v14h-9.6zM1480.8 1634.3h9.6v14h-9.6zM1500 1634.3h48.1v14h-48.1zM1654 1634.3h9.6v14h-9.6zM605.4 1648.2h9.6v14h-9.6zM740.1 1648.2h9.6v14h-9.6zM768.9 1648.2h9.6v14h-9.6zM807.4 1648.2h9.6v14h-9.6zM922.8 1648.2h9.6v14h-9.6zM1028.7 1648.2h9.6v14h-9.6zM1047.9 1648.2h28.9v14h-28.9zM1105.6 1648.2h9.6v14h-9.6zM1124.8 1648.2h19.2v14h-19.2zM1192.2 1648.2h9.6v14h-9.6zM1384.6 1648.2h9.6v14h-9.6zM1432.7 1648.2h9.6v14h-9.6zM1461.6 1648.2h9.6v14h-9.6zM1480.8 1648.2h9.6v14h-9.6zM1509.7 1648.2h9.6v14h-9.6zM1557.8 1648.2h9.6v14h-9.6zM1654 1648.2h9.6v14h-9.6zM701.6 1662h9.6v14h-9.6zM740.1 1662h9.6v14h-9.6zM807.4 1662h9.6v14h-9.6zM922.8 1662h9.6v14h-9.6zM1028.7 1662h9.6v14h-9.6zM1047.9 1662h28.9v14h-28.9zM1105.6 1662h9.6v14h-9.6zM1134.5 1662h9.6v14h-9.6zM1192.2 1662h9.6v14h-9.6zM1221.1 1662h9.6v14h-9.6zM1384.6 1662h9.6v14h-9.6zM1461.6 1662h9.6v14h-9.6zM1480.8 1662h9.6v14h-9.6zM1500 1662h9.6v14h-9.6zM1528.9 1662h9.6v14h-9.6zM1557.8 1662h9.6v14h-9.6zM1654 1662h9.6v14h-9.6z" fill="#99f"/>
<path d="M586.1 1578.8h19.2v14h-19.2zM615 1578.8h38.5v14h-38.5zM692 1578.8h9.6v14h-9.6zM817 1578.8h19.2v14h-19.2zM845.9 1578.8h19.2v14h-19.2zM1375 1578.8h9.6v14h-9.6zM1403.8 1578.8h19.2v14h-19.2zM1577 1578.8h38.5v14h-38.5zM1625.1 1578.8h19.2v14h-19.2zM586.1 1592.7h19.2v14h-19.2zM615 1592.7h38.5v14h-38.5zM692 1592.7h9.6v14h-9.6zM817 1592.7h19.2v14h-19.2zM845.9 1592.7h19.2v14h-19.2zM1375 1592.7h9.6v14h-9.6zM1413.5 1592.7h9.6v14h-9.6zM1586.6 1592.7h28.9v14h-28.9zM1625.1 1592.7h19.2v14h-19.2zM586.1 1606.5h19.2v14h-19.2zM615 1606.5h38.5v14h-38.5zM692 1606.5h9.6v14h-9.6zM817 1606.5h19.2v14h-19.2zM845.9 1606.5h19.2v14h-19.2zM1375 1606.5h9.6v14h-9.6zM1403.8 1606.5h19.2v14h-19.2zM1577 1606.5h38.5v14h-38.5zM1634.7 1606.5h9.6v14h-9.6zM586.1 1620.4h19.2v14h-19.2zM615 1620.4h38.5v14h-38.5zM692 1620.4h9.6v14h-9.6zM817 1620.4h19.2v14h-19.2zM845.9 1620.4h19.2v14h-19.2zM1375 1620.4h9.6v14h-9.6zM1403.8 1620.4h19.2v14h-19.2zM1577 1620.4h38.5v14h-38.5zM1625.1 1620.4h19.2v14h-19.2zM586.1 1634.3h19.2v14h-19.2zM615 1634.3h38.5v14h-38.5zM692 1634.3h9.6v14h-9.6zM817 1634.3h19.2v14h-19.2zM845.9 1634.3h19.2v14h-19.2zM1375 1634.3h9.6v14h-9.6zM1403.8 1634.3h19.2v14h-19.2zM1577 1634.3h38.5v14h-38.5zM1625.1 1634.3h9.6v14h-9.6zM586.1 1648.2h19.2v14h-19.2zM615 1648.2h38.5v14h-38.5zM692 1648.2h9.6v14h-9.6zM817 1648.2h19.2v14h-19.2zM845.9 1648.2h19.2v14h-19.2zM1375 1648.2h9.6v14h-9.6zM1403.8 1648.2h19.2v14h-19.2zM1577 1648.2h38.5v14h-38.5zM1625.1 1648.2h19.2v14h-19.2zM586.1 1662h19.2v14h-19.2zM615 1662h38.5v14h-38.5zM692 1662h9.6v14h-9.6zM817 1662h19.2v14h-19.2zM845.9 1662h19.2v14h-19.2zM1375 1662h9.6v14h-9.6zM1403.8 1662h19.2v14h-19.2zM1577 1662h38.5v14h-38.5zM1625.1 1662h19.2v14h-19.2z" fill="#6464ff"/>
<text x="450.7" y="1547.7" font-size="19" textLength="180.6" lengthAdjust="spacingAndGlyphs">Host Integration Motif</text>
<path d="M610.2 1573.3v3.6M658.3 1573.3v3.6M706.4 1573.3v3.6M754.5 1573.3v3.6M802.6 1573.3v3.6M850.7 1573.3v3.6M898.8 1573.3v3.6M946.9 1573.3v3.6M995 1573.3v3.6M1043.1 1573.3v3.6M1091.2 1573.3v3.6M1139.3 1573.3v3.6M1187.4 1573.3v3.6M1235.5 1573.3v3.6M1283.6 1573.3v3.6M1331.7 1573.3v3.6M1379.8 1573.3v3.6M1427.9 1573.3v3.6M1476 1573.3v3.6M1524.1 1573.3v3.6M1572.2 1573.3v3.6M1620.3 1573.3v3.6M1668.4 1573.3v3.6M1716.5 1573.3v3.6" stroke="#222" stroke-width="1" fill="none"/>
<g font-family="DejaVu Sans,Liberation Sans,sans-serif" font-size="8.6" text-anchor="middle" fill="#111">
<text x="659.7" y="1571">10</text>
<text x="755.9" y="1571">20</text>
<text x="852.1" y="1571">30</text>
<text x="948.3" y="1571">40</text>
<text x="1044.5" y="1571">50</text>
<text x="1140.7" y="1571">60</text>
<text x="1236.9" y="1571">70</text>
<text x="1333.1" y="1571">80</text>
<text x="1429.3" y="1571">90</text>
<text x="1525.5" y="1571">100</text>
<text x="1621.7" y="1571">110</text>
<text x="1717.9" y="1571">120</text>
</g>
<g font-family="DejaVu Sans,Liberation Sans,sans-serif" font-size="9.1" fill="#111">
<text x="450.4" y="1590.4">CC_HIM_CIRCLE-17</text>
<text x="450.4" y="1604.3">CC_HIM_CIRCLE-26</text>
<text x="450.4" y="1618.2">CC_HIM_CIRCLE-35</text>
<text x="450.4" y="1632.1">CC_HIM_CIRCLE-4</text>
<text x="450.4" y="1646">CC_HIM_CIRCLE-7</text>
<text x="450.4" y="1659.9">MD_HIM_CIRCLE-B</text>
<text x="450.4" y="1673.8">MD_HIM_CIRCLE-C</text>
</g>
<g font-family="DejaVu Sans,Liberation Sans,sans-serif" font-size="9.6" text-anchor="middle" fill="#000" stroke="#000" stroke-width=".28">
<text x="571.7 581.3 590.9 600.6 610.2 619.8 629.4 639 648.7 658.3 667.9 677.5 687.1 696.8 706.4 716 725.6 735.2 744.9 754.5 764.1 773.7 783.3 793 802.6 812.2 821.8 831.4 841.1 850.7 860.3 869.9 879.5 889.2 898.8 908.4 918 927.6 937.3 946.9 956.5 966.1 975.7 985.4 995 1004.6 1014.2 1023.8 1033.5 1043.1 1052.7 1062.3 1071.9 1081.6 1091.2 1100.8 1110.4 1120 1129.7 1139.3 1148.9 1158.5 1168.1 1177.8 1187.4 1197 1206.6 1216.2 1225.9 1235.5 1245.1 1254.7 1264.3 1274 1283.6 1293.2 1302.8 1312.4 1322.1 1331.7 1341.3 1350.9 1360.5 1370.2 1379.8 1389.4 1399 1408.6 1418.3 1427.9 1437.5 1447.1 1456.7 1466.4 1476 1485.6 1495.2 1504.8 1514.5 1524.1 1533.7 1543.3 1552.9 1562.6 1572.2 1581.8 1591.4 1601 1610.7 1620.3 1629.9 1639.5 1649.1 1658.8 1668.4 1678 1687.6 1697.2 1706.9 1716.5 1726.1" y="1590.5">TTAAATTTCGACATTGAAC-AGGTCCCTGGTCGACGCTCAGTACAT------------TTTG-TATAGGAAATCGCATTACCCTAACAGTAATGGTCGCGATCTGGAAATTTATAGACTTA</text>
<text x="571.7 581.3 590.9 600.6 610.2 619.8 629.4 639 648.7 658.3 667.9 677.5 687.1 696.8 706.4 716 725.6 735.2 744.9 754.5 764.1 773.7 783.3 793 802.6 812.2 821.8 831.4 841.1 850.7 860.3 869.9 879.5 889.2 898.8 908.4 918 927.6 937.3 946.9 956.5 966.1 975.7 985.4 995 1004.6 1014.2 1023.8 1033.5 1043.1 1052.7 1062.3 1071.9 1081.6 1091.2 1100.8 1110.4 1120 1129.7 1139.3 1148.9 1158.5 1168.1 1177.8 1187.4 1197 1206.6 1216.2 1225.9 1235.5 1245.1 1254.7 1264.3 1274 1283.6 1293.2 1302.8 1312.4 1322.1 1331.7 1341.3 1350.9 1360.5 1370.2 1379.8 1389.4 1399 1408.6 1418.3 1427.9 1437.5 1447.1 1456.7 1466.4 1476 1485.6 1495.2 1504.8 1514.5 1524.1 1533.7 1543.3 1552.9 1562.6 1572.2 1581.8 1591.4 1601 1610.7 1620.3 1629.9 1639.5 1649.1 1658.8 1668.4 1678 1687.6 1697.2 1706.9 1716.5 1726.1" y="1604.4">TGAAATTTCGACATGGAAA-CCTTTACTAGTATGCCCGCCATACAA------------ATCA-GTAGGATTTTAGACCAAGCACAACTGTAAAGTACGCGAACTGAAAAGTTAAGGGACTT</text>
<text x="571.7 581.3 590.9 600.6 610.2 619.8 629.4 639 648.7 658.3 667.9 677.5 687.1 696.8 706.4 716 725.6 735.2 744.9 754.5 764.1 773.7 783.3 793 802.6 812.2 821.8 831.4 841.1 850.7 860.3 869.9 879.5 889.2 898.8 908.4 918 927.6 937.3 946.9 956.5 966.1 975.7 985.4 995 1004.6 1014.2 1023.8 1033.5 1043.1 1052.7 1062.3 1071.9 1081.6 1091.2 1100.8 1110.4 1120 1129.7 1139.3 1148.9 1158.5 1168.1 1177.8 1187.4 1197 1206.6 1216.2 1225.9 1235.5 1245.1 1254.7 1264.3 1274 1283.6 1293.2 1302.8 1312.4 1322.1 1331.7 1341.3 1350.9 1360.5 1370.2 1379.8 1389.4 1399 1408.6 1418.3 1427.9 1437.5 1447.1 1456.7 1466.4 1476 1485.6 1495.2 1504.8 1514.5 1524.1 1533.7 1543.3 1552.9 1562.6 1572.2 1581.8 1591.4 1601 1610.7 1620.3 1629.9 1639.5 1649.1 1658.8 1668.4 1678 1687.6 1697.2 1706.9 1716.5 1726.1" y="1618.3">ATAAATTTCTACATTCCAA-ACTCTCCTGGTTGGATCGTCGTAGAT-TTTCATACTAATTGT-ATAAGATTTAAGACTGTTGCTACCAGTAAAGTTTGCGATCTCGAAATCTAAGGAACGT</text>
<text x="571.7 581.3 590.9 600.6 610.2 619.8 629.4 639 648.7 658.3 667.9 677.5 687.1 696.8 706.4 716 725.6 735.2 744.9 754.5 764.1 773.7 783.3 793 802.6 812.2 821.8 831.4 841.1 850.7 860.3 869.9 879.5 889.2 898.8 908.4 918 927.6 937.3 946.9 956.5 966.1 975.7 985.4 995 1004.6 1014.2 1023.8 1033.5 1043.1 1052.7 1062.3 1071.9 1081.6 1091.2 1100.8 1110.4 1120 1129.7 1139.3 1148.9 1158.5 1168.1 1177.8 1187.4 1197 1206.6 1216.2 1225.9 1235.5 1245.1 1254.7 1264.3 1274 1283.6 1293.2 1302.8 1312.4 1322.1 1331.7 1341.3 1350.9 1360.5 1370.2 1379.8 1389.4 1399 1408.6 1418.3 1427.9 1437.5 1447.1 1456.7 1466.4 1476 1485.6 1495.2 1504.8 1514.5 1524.1 1533.7 1543.3 1552.9 1562.6 1572.2 1581.8 1591.4 1601 1610.7 1620.3 1629.9 1639.5 1649.1 1658.8 1668.4 1678 1687.6 1697.2 1706.9 1716.5 1726.1" y="1632.2">CTAAATTTCGACATCGAGA-TGAGCCCTAGTGGGCGCTCAGTACAT------------TTTG-TATAGGAAATCGCATGATCTTAACAGTAATAGTCGCGATCTGGAAATTTATGGACTTA</text>
<text x="571.7 581.3 590.9 600.6 610.2 619.8 629.4 639 648.7 658.3 667.9 677.5 687.1 696.8 706.4 716 725.6 735.2 744.9 754.5 764.1 773.7 783.3 793 802.6 812.2 821.8 831.4 841.1 850.7 860.3 869.9 879.5 889.2 898.8 908.4 918 927.6 937.3 946.9 956.5 966.1 975.7 985.4 995 1004.6 1014.2 1023.8 1033.5 1043.1 1052.7 1062.3 1071.9 1081.6 1091.2 1100.8 1110.4 1120 1129.7 1139.3 1148.9 1158.5 1168.1 1177.8 1187.4 1197 1206.6 1216.2 1225.9 1235.5 1245.1 1254.7 1264.3 1274 1283.6 1293.2 1302.8 1312.4 1322.1 1331.7 1341.3 1350.9 1360.5 1370.2 1379.8 1389.4 1399 1408.6 1418.3 1427.9 1437.5 1447.1 1456.7 1466.4 1476 1485.6 1495.2 1504.8 1514.5 1524.1 1533.7 1543.3 1552.9 1562.6 1572.2 1581.8 1591.4 1601 1610.7 1620.3 1629.9 1639.5 1649.1 1658.8 1668.4 1678 1687.6 1697.2 1706.9 1716.5 1726.1" y="1646.1">ATAATTTTCGACATGAAAA-CTGTTCCTGGTCTGAATTGGTTAGGA-ATGTATGGGATTTGT--AGGGATGCTGGTCTTTTTGTACCAGTTATAGTAGCGATTGTGAAACTAACGGGACTT</text>
<text x="571.7 581.3 590.9 600.6 610.2 619.8 629.4 639 648.7 658.3 667.9 677.5 687.1 696.8 706.4 716 725.6 735.2 744.9 754.5 764.1 773.7 783.3 793 802.6 812.2 821.8 831.4 841.1 850.7 860.3 869.9 879.5 889.2 898.8 908.4 918 927.6 937.3 946.9 956.5 966.1 975.7 985.4 995 1004.6 1014.2 1023.8 1033.5 1043.1 1052.7 1062.3 1071.9 1081.6 1091.2 1100.8 1110.4 1120 1129.7 1139.3 1148.9 1158.5 1168.1 1177.8 1187.4 1197 1206.6 1216.2 1225.9 1235.5 1245.1 1254.7 1264.3 1274 1283.6 1293.2 1302.8 1312.4 1322.1 1331.7 1341.3 1350.9 1360.5 1370.2 1379.8 1389.4 1399 1408.6 1418.3 1427.9 1437.5 1447.1 1456.7 1466.4 1476 1485.6 1495.2 1504.8 1514.5 1524.1 1533.7 1543.3 1552.9 1562.6 1572.2 1581.8 1591.4 1601 1610.7 1620.3 1629.9 1639.5 1649.1 1658.8 1668.4 1678 1687.6 1697.2 1706.9 1716.5 1726.1" y="1660">GAAAATTTCAACATAGCGA-TCGTCCCTAGTACGAACTTCACATGG-CTCTATACAAATTGC-AAAGCTTTTGTTAAAATACTTACCAGGAGTGATTTCTTAGTAGAAATTTTCAATTTAA</text>
<text x="571.7 581.3 590.9 600.6 610.2 619.8 629.4 639 648.7 658.3 667.9 677.5 687.1 696.8 706.4 716 725.6 735.2 744.9 754.5 764.1 773.7 783.3 793 802.6 812.2 821.8 831.4 841.1 850.7 860.3 869.9 879.5 889.2 898.8 908.4 918 927.6 937.3 946.9 956.5 966.1 975.7 985.4 995 1004.6 1014.2 1023.8 1033.5 1043.1 1052.7 1062.3 1071.9 1081.6 1091.2 1100.8 1110.4 1120 1129.7 1139.3 1148.9 1158.5 1168.1 1177.8 1187.4 1197 1206.6 1216.2 1225.9 1235.5 1245.1 1254.7 1264.3 1274 1283.6 1293.2 1302.8 1312.4 1322.1 1331.7 1341.3 1350.9 1360.5 1370.2 1379.8 1389.4 1399 1408.6 1418.3 1427.9 1437.5 1447.1 1456.7 1466.4 1476 1485.6 1495.2 1504.8 1514.5 1524.1 1533.7 1543.3 1552.9 1562.6 1572.2 1581.8 1591.4 1601 1610.7 1620.3 1629.9 1639.5 1649.1 1658.8 1668.4 1678 1687.6 1697.2 1706.9 1716.5 1726.1" y="1673.9">GAAATTTTCTGCCTGACGACTTATGCCTAGTAGGCTTTAACAAGTA-ATGTATGGAATCTTC-GAACAAACTGTTCTGGCTCGTACTAGGGGCGATCGTCAGGTCGAAAATTTCAATTAGC</text>
</g>
</g>
<g id="schem">
<path d="M409.9 1127.3H716.8M769.4 1127.3H1357.1M1401 1127.3H1556.8" stroke="#000" stroke-width="6.4" fill="none"/>
<path d="M726.7 1124.1H733.3V1130.5H726.7ZM739.4 1124.1H746V1130.5H739.4ZM752.9 1124.1H759.2V1130.5H752.9ZM1362.6 1124.1H1369V1130.5H1362.6ZM1375.7 1124.1H1382.3V1130.5H1375.7ZM1389.1 1124.1H1395.5V1130.5H1389.1Z"/>
<path d="M1282.3 1147V1158Q1282.3 1178.5 1252 1178.5H886A20 12.7 0 0 0 886 1203.9H1252A22 12.7 0 0 1 1252 1229.3H886A20 12.95 0 0 0 886 1255.2H1278" stroke="#000" stroke-width="6.4" fill="none"/>
<path d="M548.3 1120H568.2V1135.8H548.3ZM573 1120H589.5V1135.8H573ZM611.1 1120H620.5V1135.8H611.1ZM631.7 1120H665.2V1135.8H631.7Z" fill="#ff2a0a"/>
<path d="M1474.1 1119.1H1498.8V1135.5H1474.1ZM1502.8 1119.1H1527.7V1135.5H1502.8Z" fill="url(#dots2)"/>
<path d="M891 1127.3H1048.7M1096.9 1127.3H1239.2" stroke="#0f3cff" stroke-width="6.4" fill="none"/><path d="M905.9 1119.5H920.9V1135.1H905.9ZM947 1119.5H976.8V1135.1H947ZM981.3 1119.5H997.8V1135.1H981.3ZM1002.2 1119.5H1044.1V1135.1H1002.2ZM1111.7 1119.5H1144.7V1135.1H1111.7ZM1156.1 1119.5H1165.5V1135.1H1156.1ZM1187.1 1119.5H1203.6V1135.1H1187.1ZM1208 1119.5H1228.5V1135.1H1208Z" fill="#0f3cff"/><path d="M875.9 1118.1L894.4 1127.3L875.9 1136.5Z" fill="#ffee14"/><path d="M1047.9 1118.1L1066.4 1127.3L1047.9 1136.5Z" fill="#ffee14"/><path d="M1081.7 1118.1L1100.2 1127.3L1081.7 1136.5Z" fill="#ffee14"/><path d="M1237.2 1118.1L1255.7 1127.3L1237.2 1136.5Z" fill="#ffee14"/><path d="M928 1117.7L946.3 1127.3L928 1136.9Z" fill="#19ad5e"/><path d="M1168.8 1117.7L1187.1 1127.3L1168.8 1136.9Z" fill="#19ad5e"/>
<path d="M891.5 1255.2H1049.2M1097.4 1255.2H1239.7" stroke="#0f3cff" stroke-width="6.4" fill="none"/><path d="M906.4 1247.4H921.4V1263H906.4ZM947.5 1247.4H977.3V1263H947.5ZM981.8 1247.4H998.3V1263H981.8ZM1002.7 1247.4H1044.6V1263H1002.7ZM1112.2 1247.4H1145.2V1263H1112.2ZM1156.6 1247.4H1166V1263H1156.6ZM1187.6 1247.4H1204.1V1263H1187.6ZM1208.5 1247.4H1229V1263H1208.5Z" fill="#0f3cff"/><path d="M876.4 1246L894.9 1255.2L876.4 1264.4Z" fill="#ffee14"/><path d="M1048.4 1246L1066.9 1255.2L1048.4 1264.4Z" fill="#ffee14"/><path d="M1082.2 1246L1100.7 1255.2L1082.2 1264.4Z" fill="#ffee14"/><path d="M1237.7 1246L1256.2 1255.2L1237.7 1264.4Z" fill="#ffee14"/><path d="M926.7 1245.6L945 1255.2L926.7 1264.8Z" fill="#19ad5e"/><path d="M1169.3 1245.6L1187.6 1255.2L1169.3 1264.8Z" fill="#19ad5e"/>
<path d="M867 1108.6H858.5V1145.4H867M867 1171H858.5V1210H867M867 1223H858.5V1262.3H867M1274 1107.5H1284V1146.5H1274M1268.4 1195H1278.4V1233H1268.4M1269.3 1245H1279.3V1284.3H1269.3" stroke="#73177f" stroke-width="4.2" fill="none" stroke-linejoin="round" stroke-linecap="round"/>
<g font-size="19">
<text x="545.3" y="1100.2" fill="#ff0f3c" textLength="127.5" lengthAdjust="spacingAndGlyphs">nudiviral genes</text>
<text x="1455.8" y="1099.5" fill="#ff0f3c" textLength="68.6" lengthAdjust="spacingAndGlyphs">odv-e66</text>
<text x="365.9" y="1149.8" textLength="118.4" lengthAdjust="spacingAndGlyphs">wasp genome</text>
<text x="872.1" y="1092.1" fill="#73177f" font-size="18" textLength="94.5" lengthAdjust="spacingAndGlyphs">RUM Head</text>
<text x="1179" y="1092.1" fill="#73177f" font-size="18" textLength="79.3" lengthAdjust="spacingAndGlyphs">RUM Tail</text>
<text x="878.4" y="1163.2" textLength="105.5" lengthAdjust="spacingAndGlyphs">amplification</text>
<text x="864.5" y="1288.5" textLength="57.1" lengthAdjust="spacingAndGlyphs">DRJ 5’</text>
<text x="1012.3" y="1288.5" textLength="57.2" lengthAdjust="spacingAndGlyphs">DRJ 3’</text>
<text x="1154.9" y="1288.5" fill="#08b45c" textLength="34" lengthAdjust="spacingAndGlyphs">HIM</text>
<text x="736.8" y="1237.7">DRJ</text><text x="736.8" y="1261">circle</text>
<g text-anchor="end"><text x="573.4" y="1244.5">excision</text><text x="573.4" y="1267.9">circularization</text><text x="573.4" y="1291.5">encapsidation</text></g>
</g>
<g fill="none" stroke="#ff2a0a" stroke-width="5" stroke-linejoin="round">
<ellipse cx="664.3" cy="1223.2" rx="49.4" ry="12.5" transform="rotate(25.5 664.3 1223.2)"/>
<path d="M619.7 1201.9L592 1263C594 1279 663 1311.5 678.8 1305.6L708.6 1244.6"/>
</g>
<g fill="none" stroke="#0f3cff" stroke-linecap="butt">
<path d="M733 1204.4C690 1204.5 650 1215 628 1235C606 1256 612 1285 640 1288C664 1290.5 680 1274 676.5 1258C675 1251 673 1248 670 1244.5" stroke-width="6"/>
<path d="M666.5 1213.5C677 1210 685 1208 694.5 1206.8" stroke-width="14"/>
<path d="M630 1233C618 1244 613.5 1255 614 1268" stroke-width="14"/>
<path d="M640.5 1287.3C646 1288.3 651 1288 656 1286.7" stroke-width="12"/>
</g>
<path d="M727.5 1204.3L742.6 1195L743.5 1212.8Z" fill="#ffee14"/>
<path d="M669.4 1229.3L662 1244.8L679.5 1244Z" fill="#ffee14"/>
<path d="M848.4 1300.7Q796 1318 741 1288.5" fill="none" stroke="#000" stroke-width="2.2"/>
<path d="M733.8 1283.2L748.5 1285.2L741.5 1296.5Z" fill="#000"/>
</g>
</g>
</svg>
</body></html>
